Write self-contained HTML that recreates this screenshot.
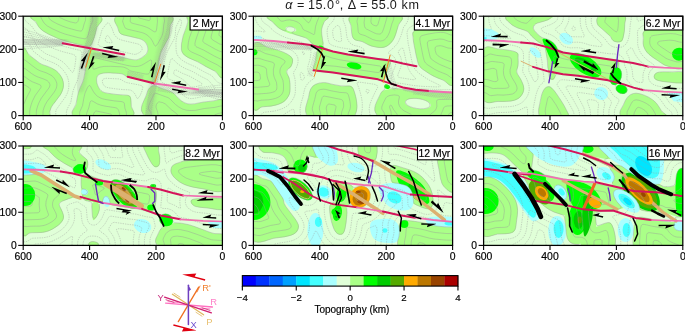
<!DOCTYPE html>
<html><head><meta charset="utf-8"><style>
html,body{margin:0;padding:0;background:#fff;width:685px;height:333px;overflow:hidden}
svg text{font-family:"Liberation Sans", sans-serif}
svg{will-change:transform}
</style></head><body>
<svg width="685" height="333" viewBox="0 0 685 333" style="display:block">
<defs>
<clipPath id="pc"><rect x="0" y="0" width="199.2" height="99.4"/></clipPath>
<filter id="bl" x="-20%" y="-20%" width="140%" height="140%"><feGaussianBlur stdDeviation="1.6"/></filter>
</defs>
<text y="9.2" font-size="12.6" fill="#1a1a1a"><tspan x="285.26" font-style="italic">α</tspan><tspan x="297.0">=</tspan><tspan x="307.9">1</tspan><tspan x="315.5">5</tspan><tspan x="322.77">.</tspan><tspan x="326.9">0</tspan><tspan x="335.04">°</tspan><tspan x="339.87">,</tspan><tspan x="347.82">Δ</tspan><tspan x="359.95">=</tspan><tspan x="371.3">5</tspan><tspan x="378.7">5</tspan><tspan x="386.17">.</tspan><tspan x="389.8">0</tspan><tspan x="401.58">k</tspan><tspan x="408.6">m</tspan></text>
<g transform="translate(23.2,16.2)">
<g clip-path="url(#pc)">
<rect x="0" y="0" width="199.2" height="99.4" fill="#e0ffd8"/>
<path d="M11.0,0.0 C21.3,-1.0 64.6,-2.0 75.0,0.0 C85.4,2.0 74.2,8.3 73.5,12.0 C72.8,15.7 72.1,19.0 71.0,22.0 C69.9,25.0 68.8,28.8 67.0,30.0 C65.2,31.2 62.8,29.8 60.0,29.3 C57.2,28.8 53.5,27.9 50.0,27.0 C46.5,26.1 42.3,25.1 39.0,24.0 C35.7,22.9 32.8,21.6 30.0,20.3 C27.2,19.1 24.8,17.9 22.5,16.5 C20.2,15.1 18.1,13.8 16.5,12.0 C14.9,10.2 13.9,8.0 13.0,6.0 C12.1,4.0 0.7,1.0 11.0,0.0Z" fill="#aaff88" /><path d="M0.0,35.0 C1.0,24.8 4.0,37.6 6.0,39.0 C8.0,40.4 10.0,42.0 12.0,43.5 C14.0,45.0 16.0,46.9 18.0,48.0 C20.0,49.1 21.5,48.9 24.0,50.0 C26.5,51.1 30.5,52.5 33.0,54.5 C35.5,56.5 37.8,59.5 39.0,62.0 C40.2,64.5 40.6,67.0 40.5,69.5 C40.4,72.0 39.5,74.5 38.3,77.0 C37.0,79.5 34.6,82.2 33.0,84.5 C31.4,86.8 29.6,88.5 28.5,90.5 C27.4,92.5 26.8,94.9 26.3,96.5 C25.8,98.1 29.9,99.4 25.5,100.0 C21.1,100.6 4.2,110.8 0.0,100.0 C-4.2,89.2 -1.0,45.2 0.0,35.0Z" fill="#aaff88" /><path d="M95.0,0.0 C103.6,-2.0 137.8,-1.7 146.5,0.0 C155.2,1.7 147.1,6.7 147.0,10.0 C146.9,13.3 146.8,17.0 146.0,20.0 C145.2,23.0 143.3,25.3 142.0,28.0 C140.7,30.7 139.0,33.3 138.0,36.0 C137.0,38.7 136.7,40.8 136.0,44.0 C135.3,47.2 134.7,52.0 134.0,55.0 C133.3,58.0 132.4,60.2 132.0,62.0 C131.6,63.8 133.2,65.6 131.5,66.0 C129.8,66.4 125.2,65.1 122.0,64.5 C118.8,63.9 115.0,63.1 112.0,62.5 C109.0,61.9 106.0,61.8 104.0,61.0 C102.0,60.2 102.3,58.7 100.0,58.0 C97.7,57.3 93.3,57.2 90.0,57.0 C86.7,56.8 82.7,56.5 80.0,57.0 C77.3,57.5 75.0,58.2 74.0,60.0 C73.0,61.8 73.2,65.4 74.0,68.0 C74.8,70.6 76.3,73.8 79.0,75.5 C81.7,77.2 86.5,77.4 90.0,78.0 C93.5,78.6 97.2,78.7 100.0,79.0 C102.8,79.3 105.7,78.2 107.0,80.0 C108.3,81.8 108.0,86.7 108.0,90.0 C108.0,93.3 116.2,98.3 107.0,100.0 C97.8,101.7 61.5,102.1 52.5,100.0 C43.5,97.9 52.8,91.6 53.3,87.5 C53.8,83.4 54.4,79.2 55.5,75.5 C56.6,71.8 58.9,68.2 60.0,65.0 C61.1,61.8 61.5,58.5 62.0,56.0 C62.5,53.5 62.3,53.8 63.0,50.0 C63.7,46.2 64.0,35.4 66.0,33.0 C68.0,30.6 71.0,34.5 75.0,35.5 C79.0,36.5 85.7,38.0 90.0,39.0 C94.3,40.0 97.3,40.7 101.0,41.5 C104.7,42.3 109.2,43.9 112.0,44.0 C114.8,44.1 116.0,43.2 118.0,42.0 C120.0,40.8 122.9,39.0 124.0,37.0 C125.1,35.0 125.2,32.2 124.5,30.0 C123.8,27.8 122.4,25.5 120.0,24.0 C117.6,22.5 113.7,22.0 110.0,21.0 C106.3,20.0 100.5,19.5 98.0,18.0 C95.5,16.5 95.5,15.0 95.0,12.0 C94.5,9.0 86.4,2.0 95.0,0.0Z" fill="#aaff88" /><path d="M166.0,0.0 C171.8,-0.8 194.3,-9.8 200.0,0.0 C205.7,9.8 201.3,49.4 200.0,58.6 C198.7,67.8 194.9,56.4 192.0,55.0 C189.1,53.6 185.3,51.8 182.3,50.2 C179.3,48.6 176.8,46.8 174.0,45.4 C171.2,44.0 167.8,43.2 165.4,41.8 C163.0,40.4 160.6,39.0 159.4,37.0 C158.2,35.0 158.1,32.6 158.2,29.8 C158.3,27.0 159.2,23.0 160.0,20.0 C160.8,17.0 162.2,14.5 163.0,12.0 C163.8,9.5 164.5,7.0 165.0,5.0 C165.5,3.0 160.2,0.8 166.0,0.0Z" fill="#aaff88" /><path d="M124.0,100.0 C111.3,96.2 123.0,82.1 124.0,77.0 C125.0,71.9 127.5,70.2 130.0,69.5 C132.5,68.8 135.8,71.4 139.0,72.5 C142.2,73.6 146.8,74.7 149.5,76.3 C152.2,77.9 152.9,80.2 155.0,82.0 C157.1,83.8 159.5,86.0 162.0,87.0 C164.5,88.0 167.0,88.2 170.0,88.0 C173.0,87.8 176.7,86.5 180.0,86.0 C183.3,85.5 186.7,85.3 190.0,85.0 C193.3,84.7 198.3,81.5 200.0,84.0 C201.7,86.5 212.7,97.3 200.0,100.0 C187.3,102.7 136.7,103.8 124.0,100.0Z" fill="#aaff88" />
<path d="M77.8,0.0 78.7,2.8 78.4,4.5 77.5,6.1 74.6,9.8 73.7,11.5 71.4,20.2 68.8,27.0 67.0,29.6 66.2,30.2 65.2,30.4 54.0,27.9 40.2,24.3 33.8,21.9 25.0,17.8 20.0,14.8 16.9,12.2 15.2,10.2 12.5,5.8 8.3,2.2 7.8,1.2 7.7,0.0M49.1,99.0 48.9,96.5 49.1,95.0 52.7,88.2 54.5,79.2 55.4,75.5 56.5,72.5 59.4,66.0 60.6,62.2 62.7,50.8 64.4,37.2 65.2,34.5 66.5,32.7 67.2,32.4 68.2,32.5 73.5,34.8 76.5,35.8 108.0,43.2 111.5,43.7 113.2,43.7 114.8,43.3 118.0,41.8 122.0,38.9 123.2,37.5 123.9,36.2 124.4,34.8 124.7,33.0 124.2,29.8 122.7,26.8 120.2,24.3 118.2,23.2 115.5,22.3 100.2,18.7 98.0,17.8 96.5,16.5 95.6,14.8 94.2,10.6 92.2,6.8 91.5,5.0 91.4,3.0 92.4,0.0M149.0,0.0 149.8,2.5 149.8,3.8 147.1,9.5 146.4,16.5 145.8,19.8 144.7,22.8 139.3,32.8 137.5,37.0 136.4,41.5 134.1,53.8 132.2,60.8 131.8,63.8 131.0,65.2 129.8,65.7 128.0,65.7 106.2,61.4 103.8,60.6 99.6,58.0 97.8,57.5 95.0,57.2 85.5,56.6 80.0,56.9 77.8,57.5 76.0,58.2 74.7,59.2 73.8,60.8 73.4,62.5 73.4,64.5 73.7,66.8 74.4,69.0 75.4,71.2 76.5,73.0 77.8,74.3 79.2,75.4 81.5,76.4 84.8,77.1 93.8,78.3 104.0,79.0 105.2,79.3 106.4,80.0 107.2,81.2 107.6,82.8 108.2,90.5 110.6,95.8 110.6,99.0M198.8,61.5 197.8,61.3 196.6,60.5 193.2,56.3 191.2,54.7 183.2,50.6 174.2,45.5 164.8,41.3 161.2,38.9 159.3,36.5 158.6,35.0 158.2,33.0 158.3,27.5 159.9,19.8 162.9,11.5 164.4,6.5 164.5,4.8 163.9,1.8 163.8,0.0M0.0,32.1 1.2,32.4 2.2,33.1 5.0,37.5 6.5,39.2 16.5,46.9 19.0,48.3 23.8,49.9 28.5,51.9 32.9,54.5 34.8,56.2 36.5,58.2 38.0,60.5 39.2,62.8 40.0,65.5 40.3,68.5 40.1,71.2 39.3,74.0 38.4,76.2 37.0,78.8 29.7,88.5 28.0,91.2 26.6,95.2 26.8,99.0M120.3,99.0 120.0,98.0 118.7,95.5 118.2,93.8 118.3,91.2 119.0,88.3 123.0,79.2 124.5,74.8 125.4,73.0 126.3,71.8 127.5,70.7 128.8,69.9 130.0,69.5 131.5,69.4 133.0,69.8 138.5,72.2 145.4,74.5 148.5,75.8 150.9,77.5 155.2,82.0 158.4,84.8 161.5,86.6 164.5,87.6 167.5,87.9 171.2,87.6 180.0,85.9 190.2,84.7 196.0,83.3 198.8,83.0M69.1,0.0 69.7,3.5 69.6,4.8 67.3,9.8 64.9,18.8 64.2,20.8 63.5,21.8 62.8,22.4 61.5,22.6 55.8,21.6 42.2,18.0 36.5,15.9 29.0,12.5 24.2,9.8 21.5,7.5 20.2,5.8 18.0,1.8 17.3,0.0M140.6,0.0 141.4,4.8 140.5,8.8 140.0,15.0 139.4,18.0 138.4,20.5 134.8,27.2 133.2,29.3 132.2,29.9 131.8,29.6 131.2,29.0 129.2,24.8 127.5,22.2 125.4,20.0 123.0,18.2 120.8,17.1 118.5,16.3 104.4,13.0 102.2,12.0 101.3,10.5 99.5,5.5 99.5,4.5 100.4,1.8 100.7,0.0M198.8,51.4 197.5,50.9 193.8,48.5 186.2,44.8 177.5,39.8 168.5,35.9 166.4,34.5 165.2,33.1 164.8,32.0 164.7,30.5 165.2,26.0 166.4,21.0 169.1,13.8 170.9,7.8 171.2,5.5 171.5,0.0M125.0,57.8 124.0,57.9 122.2,57.8 108.2,55.0 106.5,54.3 103.8,52.3 102.2,51.6 100.2,50.9 97.8,50.6 87.2,50.1 80.8,50.2 76.5,51.0 71.5,52.8 70.5,52.9 70.0,52.7 69.8,52.3 69.6,51.0 70.3,43.8 70.7,42.8 71.2,42.0 72.0,41.8 73.2,41.8 103.8,49.2 108.8,50.1 112.0,50.4 115.0,50.1 117.8,49.3 121.0,47.6 126.5,44.2 127.5,43.8 128.0,43.8 128.5,44.5 128.5,46.2 127.6,52.8 126.5,56.3 125.9,57.2 125.0,57.8M0.0,43.1 1.8,43.9 11.3,51.2 14.5,53.4 16.8,54.5 23.2,56.7 28.0,59.1 29.5,60.2 31.0,61.9 32.3,63.8 33.1,65.5 33.6,67.2 33.7,69.0 33.4,70.8 32.9,72.5 31.1,75.8 24.2,84.8 22.2,88.2 20.9,91.2 20.0,94.2 19.8,96.2 19.8,99.0M56.5,99.0 56.5,95.8 59.3,89.5 60.8,81.0 61.8,77.0 64.2,71.5 65.2,70.0 66.2,69.3 66.8,69.4 67.2,69.9 70.0,75.1 71.9,77.8 74.2,80.0 76.8,81.6 79.5,82.6 82.8,83.4 91.2,84.7 98.5,85.4 100.3,86.0 101.1,87.2 101.7,92.0 103.1,96.0 103.3,99.0M128.2,99.0 127.6,96.2 125.3,92.8 125.2,90.8 126.2,87.8 130.4,78.5 131.2,77.5 132.0,77.1 133.8,77.4 145.0,81.5 146.8,82.8 152.2,88.2 155.2,90.5 159.2,92.8 163.2,94.0 166.8,94.3 172.0,94.2 181.2,92.3 191.5,91.2 196.8,89.9 198.8,89.7M62.4,0.0 62.3,4.0 60.8,8.2 59.6,12.8 58.8,14.3 58.0,14.8 57.2,14.9 53.8,14.3 44.0,11.6 39.5,10.0 34.0,7.6 30.0,5.5 27.2,3.7 25.8,2.0 25.2,0.0M133.9,0.0 134.3,5.0 133.5,12.6 132.9,15.0 132.5,15.5 131.8,15.8 130.5,15.3 125.9,12.2 122.5,10.7 118.5,9.4 109.6,7.2 108.0,6.6 107.2,5.8 107.0,4.8 107.4,0.0M198.8,43.1 196.8,42.6 191.0,39.8 180.5,33.9 173.5,30.8 172.7,30.2 172.0,29.4 171.7,27.5 172.4,24.2 175.7,14.8 177.5,8.2 177.9,5.8 178.1,0.0M0.0,51.7 2.0,52.5 8.5,57.4 11.8,59.5 14.5,60.7 20.2,62.7 23.8,64.3 25.5,65.8 26.7,67.8 26.7,69.5 25.9,71.5 18.2,81.9 15.6,86.8 14.4,90.0 13.4,93.5 13.1,95.8 13.1,99.0M63.2,99.0 63.5,97.0 65.5,91.8 66.9,86.0 67.5,85.0 68.2,84.6 69.5,85.0 74.2,87.7 78.0,89.1 82.2,90.0 92.2,91.5 93.8,92.0 94.6,92.8 95.3,94.0 96.3,97.0 96.5,99.0M134.9,99.0 134.5,96.0 132.9,91.5 132.8,90.0 133.2,88.4 134.2,86.7 135.2,85.9 136.2,85.7 139.5,86.4 142.2,87.8 148.0,93.3 153.8,97.8 154.6,99.0M191.2,99.0 191.9,98.5 195.4,97.2 198.8,96.5M55.7,0.0 55.5,2.8 54.7,5.2 53.6,6.5 52.2,6.8 47.2,5.7 41.8,3.8 37.1,1.5 36.1,0.8 35.7,0.0M127.2,0.0 127.0,3.3 126.5,4.0 125.5,4.3 116.5,2.0 115.2,1.2 114.6,0.0M198.8,35.7 196.5,35.1 192.5,33.2 181.1,26.8 180.2,26.0 179.7,25.2 179.6,24.2 179.8,23.2 182.3,15.8 184.1,9.2 184.5,6.5 184.8,0.0M0.0,60.1 1.8,60.7 6.2,63.9 9.2,65.6 16.5,68.5 17.5,69.2 17.9,70.0 17.8,71.0 17.3,72.0 11.9,79.5 9.1,85.2 7.8,89.0 6.9,92.5 6.5,95.2 6.5,99.0M70.2,99.0 70.5,97.5 71.4,95.8 72.2,95.1 73.2,94.8 87.0,97.7 88.1,98.2 88.6,99.0M198.8,28.4 196.2,27.7 190.7,24.5 188.6,23.0 187.9,21.8 188.0,20.0 190.0,12.8 190.8,9.2 191.4,0.0M0.0,68.3 1.8,68.9 6.0,71.5 7.0,72.5 7.3,73.5 6.9,74.8 4.0,80.2 1.2,86.7 0.5,88.0 0.0,88.3M198.8,20.9 197.5,20.6 196.5,19.9 195.9,19.0 195.7,18.0 196.2,15.5 198.8,7.0" fill="none" stroke="#9a9a9a" stroke-width="0.42"/>
<path d="M43.2,99.0 43.2,96.2 43.6,94.0 44.5,91.8 47.6,86.2 49.1,78.0 50.1,74.0 51.4,70.5 54.3,64.0 55.5,60.2 57.7,47.2 58.7,37.8 58.6,35.8 57.8,34.8 56.5,34.2 41.2,30.3 33.8,27.8 25.2,24.0 18.5,20.4 16.0,18.7 13.8,16.7 11.2,14.0 8.2,9.5 4.4,6.8 2.9,5.2 1.3,2.8 0.8,0.0M198.8,67.4 196.4,67.0 194.2,65.8 192.2,63.9 189.3,60.2 187.5,58.9 180.5,55.4 172.0,50.5 164.5,47.3 160.8,45.3 157.2,42.7 154.8,39.8 153.7,37.5 153.0,34.8 152.7,26.8 153.1,22.8 153.6,20.2 154.6,17.2 157.1,11.2 158.3,7.2 158.4,6.0 158.2,4.8 157.2,3.0 156.8,2.8 152.7,11.0 152.4,12.8 152.1,19.0 151.1,22.5 144.5,34.6 142.6,39.2 141.3,44.8 139.2,55.7 137.7,61.8 137.6,63.8 138.1,65.2 139.0,66.2 140.2,66.9 148.2,69.7 152.2,71.7 154.8,73.6 158.5,77.7 160.8,79.6 163.2,81.3 165.8,82.2 168.0,82.4 170.5,82.2 178.5,80.6 188.8,79.4 195.2,77.9 198.8,77.5M113.0,38.0 116.2,36.4 117.7,35.2 118.5,34.2 118.9,33.2 118.9,32.0 118.6,30.8 117.7,29.5 116.5,28.5 114.5,27.7 99.5,24.2 96.8,23.3 94.5,22.1 92.8,20.6 91.3,18.8 90.4,16.8 89.0,12.5 86.0,7.3 85.0,6.5 84.0,6.9 79.8,12.0 78.7,14.0 75.0,27.0 74.9,28.2 75.5,29.2 76.6,30.0 78.8,30.7 108.8,37.7 111.2,38.2 113.0,38.0M0.0,25.8 3.0,26.2 5.2,27.4 6.8,29.2 9.1,33.5 10.2,35.1 19.2,42.1 21.2,43.2 26.0,44.9 31.0,47.0 33.8,48.5 36.0,50.0 38.5,52.2 40.7,54.8 42.6,57.5 44.0,60.1 45.1,63.5 45.7,67.2 45.6,71.2 44.9,74.8 43.7,78.0 41.9,81.2 33.2,93.2 32.5,95.5 32.6,99.0M114.5,82.2 115.5,81.4 116.8,79.5 118.7,75.0 119.6,71.2 119.3,70.2 118.5,69.6 115.5,68.7 103.5,66.4 101.2,65.5 97.8,63.3 95.5,62.7 83.2,62.1 80.8,62.5 79.9,63.0 79.3,63.8 79.1,65.5 79.8,67.8 81.0,69.7 82.5,70.8 85.2,71.6 92.8,72.7 100.0,73.4 105.2,73.6 107.5,74.0 109.2,75.0 110.9,76.5 112.0,78.2 113.6,81.8 114.0,82.2 114.5,82.2M0.0,20.3 4.8,20.7 7.0,21.4 9.0,22.4 10.0,23.2 10.8,24.3 13.9,30.5 16.1,32.8 22.8,37.7 32.5,41.6 38.0,44.6 40.5,46.5 43.2,49.2 48.5,55.7 49.5,56.2 50.2,55.6 51.4,51.8 52.5,44.2 52.7,41.0 52.4,40.0 51.9,39.2 50.0,38.2 38.8,35.3 32.2,33.1 24.5,29.8 18.2,26.6 10.2,22.1 7.8,18.9 4.1,13.5 1.8,11.8 0.0,11.2M88.5,26.5 88.9,26.0 88.7,25.2 86.0,20.9 84.8,19.4 84.2,19.2 83.8,19.4 83.0,20.6 82.2,22.8 82.1,24.0 82.3,25.0 83.2,25.8 84.5,26.2 87.0,26.6 88.5,26.5M169.7,76.8 178.0,75.1 188.5,73.8 190.9,72.8 191.4,72.2 191.4,71.5 190.8,70.5 186.0,65.0 184.5,63.6 177.2,59.9 169.5,55.4 162.5,52.5 159.0,50.7 154.2,47.4 149.5,42.7 148.8,42.3 148.2,42.5 147.3,44.0 146.5,47.0 144.0,59.8 144.0,61.0 144.3,61.8 145.5,62.8 152.0,65.3 155.8,67.3 158.7,69.8 163.0,74.3 165.2,76.0 167.2,76.8 169.7,76.8M170.4,71.0 177.6,69.2 178.7,68.8 179.0,68.0 178.5,67.2 177.2,66.2 166.8,60.2 159.2,57.1 153.2,53.9 152.1,53.8 151.3,54.2 150.7,55.5 150.5,57.0 150.8,58.0 151.4,58.8 157.0,61.6 159.8,63.4 162.2,65.5 166.0,69.5 167.2,70.5 168.8,71.0 170.4,71.0" fill="none" stroke="#9a9a9a" stroke-width="0.42" stroke-dasharray="1.4 1"/>
<path d="M72.0,-3.0 L70.0,12.0 L67.0,24.0 L64.5,34.0 L62.0,46.0 L59.0,60.0 L57.0,72.0" fill="none" stroke="#8a8a8a" stroke-width="9" stroke-linecap="round" stroke-linejoin="round" opacity="0.18" filter="url(#bl)"/><path d="M146.0,-3.0 L143.0,15.0 L139.5,30.0 L136.0,45.0 L132.0,60.0 L129.0,75.0 L127.0,90.0 L126.0,103.0" fill="none" stroke="#8a8a8a" stroke-width="9" stroke-linecap="round" stroke-linejoin="round" opacity="0.18" filter="url(#bl)"/><path d="M-3.0,24.0 L20.0,26.0 L40.0,28.0" fill="none" stroke="#8a8a8a" stroke-width="12" stroke-linecap="round" stroke-linejoin="round" opacity="0.25" filter="url(#bl)"/><path d="M70.0,38.0 L100.0,43.0" fill="none" stroke="#8a8a8a" stroke-width="5" stroke-linecap="round" stroke-linejoin="round" opacity="0.25" filter="url(#bl)"/><path d="M175.0,74.0 L203.0,77.0" fill="none" stroke="#8a8a8a" stroke-width="10" stroke-linecap="round" stroke-linejoin="round" opacity="0.25" filter="url(#bl)"/><g fill="none" stroke="#9a9a9a" stroke-width="0.42" stroke-dasharray="1.1 0.8"><path d="M74.0,0.2 L73.0,12.5 L70.4,22.8 L67.9,30.8 L64.9,42.7 L61.9,54.7" stroke-dashoffset="0.00"/><path d="M73.0,0.2 L72.0,12.3 L69.4,22.5 L66.9,30.5 L63.9,42.5 L60.9,54.5" stroke-dashoffset="0.77"/><path d="M72.0,0.1 L71.0,12.2 L68.5,22.3 L66.0,30.3 L63.0,42.2 L60.0,54.2" stroke-dashoffset="1.54"/><path d="M71.0,0.0 L70.0,12.0 L67.5,22.0 L65.0,30.0 L62.0,42.0 L59.0,54.0" stroke-dashoffset="0.41"/><path d="M70.0,-0.1 L69.0,11.8 L66.5,21.7 L64.0,29.7 L61.0,41.8 L58.0,53.8" stroke-dashoffset="1.18"/><path d="M69.0,-0.2 L68.0,11.7 L65.6,21.5 L63.1,29.5 L60.1,41.5 L57.1,53.5" stroke-dashoffset="0.05"/><path d="M68.0,-0.2 L67.0,11.5 L64.6,21.2 L62.1,29.2 L59.1,41.3 L56.1,53.3" stroke-dashoffset="0.82"/></g><g fill="none" stroke="#9a9a9a" stroke-width="0.42" stroke-dasharray="1.1 0.8"><path d="M150.5,0.3 L148.4,15.5 L144.4,28.7 L140.4,42.7 L136.4,55.6 L133.4,68.6 L129.5,85.5 L127.5,100.3" stroke-dashoffset="0.00"/><path d="M149.5,0.2 L147.5,15.3 L143.4,28.4 L139.4,42.4 L135.4,55.4 L132.5,68.3 L128.5,85.3 L126.5,100.2" stroke-dashoffset="0.77"/><path d="M148.5,0.1 L146.5,15.1 L142.5,28.1 L138.5,42.1 L134.5,55.1 L131.5,68.1 L127.5,85.1 L125.5,100.1" stroke-dashoffset="1.54"/><path d="M147.5,-0.1 L145.5,14.9 L141.5,27.9 L137.5,41.9 L133.5,54.9 L130.5,67.9 L126.5,84.9 L124.5,99.9" stroke-dashoffset="0.41"/><path d="M146.5,-0.2 L144.5,14.7 L140.6,27.6 L136.6,41.6 L132.6,54.6 L129.5,67.7 L125.5,84.7 L123.5,99.8" stroke-dashoffset="1.18"/><path d="M145.5,-0.3 L143.6,14.5 L139.6,27.3 L135.6,41.3 L131.6,54.4 L128.6,67.4 L124.5,84.5 L122.5,99.7" stroke-dashoffset="0.05"/></g><g fill="none" stroke="#9a9a9a" stroke-width="0.42" stroke-dasharray="1.1 0.8"><path d="M70.3,36.0 L85.3,38.5 L101.3,41.0" stroke-dashoffset="0.00"/><path d="M70.2,37.0 L85.2,39.5 L101.2,42.0" stroke-dashoffset="0.77"/><path d="M70.0,38.0 L85.0,40.5 L101.0,43.0" stroke-dashoffset="1.54"/><path d="M69.8,39.0 L84.8,41.5 L100.8,44.0" stroke-dashoffset="0.41"/><path d="M69.7,40.0 L84.7,42.5 L100.7,45.0" stroke-dashoffset="1.18"/></g><g fill="none" stroke="#9a9a9a" stroke-width="0.42" stroke-dasharray="1.1 0.8"><path d="M104.5,55.1 L120.5,59.1" stroke-dashoffset="0.00"/><path d="M104.2,56.0 L120.2,60.0" stroke-dashoffset="0.77"/><path d="M104.0,57.0 L120.0,61.0" stroke-dashoffset="1.54"/><path d="M103.8,58.0 L119.8,62.0" stroke-dashoffset="0.41"/><path d="M103.5,58.9 L119.5,62.9" stroke-dashoffset="1.18"/></g><g fill="none" stroke="#9a9a9a" stroke-width="0.42" stroke-dasharray="1.1 0.8"><path d="M135.4,69.5 L160.3,73.5 L180.2,74.5 L200.2,76.5" stroke-dashoffset="0.00"/><path d="M135.2,70.5 L160.2,74.5 L180.1,75.5 L200.1,77.5" stroke-dashoffset="0.77"/><path d="M135.1,71.5 L160.1,75.5 L180.0,76.5 L200.0,78.5" stroke-dashoffset="1.54"/><path d="M134.9,72.5 L159.9,76.5 L180.0,77.5 L200.0,79.5" stroke-dashoffset="0.41"/><path d="M134.8,73.5 L159.8,77.5 L179.9,78.5 L199.9,80.5" stroke-dashoffset="1.18"/><path d="M134.6,74.5 L159.7,78.5 L179.8,79.5 L199.8,81.5" stroke-dashoffset="0.05"/></g><g fill="none" stroke="#9a9a9a" stroke-width="0.42" stroke-dasharray="1.1 0.8"><path d="M0.1,13.1 L9.0,15.7 L16.8,18.3 L24.6,20.8 L32.3,23.2 L40.2,25.5" stroke-dashoffset="0.00"/><path d="M-0.2,15.5 L8.7,17.7 L16.6,19.9 L24.4,22.1 L32.3,24.1 L40.1,26.0" stroke-dashoffset="0.77"/><path d="M-0.4,18.0 L8.5,19.8 L16.4,21.6 L24.3,23.4 L32.2,25.0 L40.1,26.5" stroke-dashoffset="1.54"/><path d="M-0.7,20.5 L8.2,21.9 L16.2,23.3 L24.1,24.7 L32.1,25.9 L40.0,27.0" stroke-dashoffset="0.41"/><path d="M-1.0,23.0 L8.0,24.0 L16.0,25.0 L24.0,26.0 L32.0,26.8 L40.0,27.5" stroke-dashoffset="1.18"/><path d="M-1.3,25.5 L7.8,26.1 L15.8,26.7 L23.9,27.3 L31.9,27.7 L40.0,28.0" stroke-dashoffset="0.05"/><path d="M-1.6,28.0 L7.5,28.2 L15.6,28.4 L23.7,28.6 L31.8,28.6 L39.9,28.5" stroke-dashoffset="0.82"/><path d="M-1.8,30.5 L7.3,30.3 L15.4,30.1 L23.6,29.9 L31.7,29.5 L39.9,29.0" stroke-dashoffset="1.59"/><path d="M-2.1,32.9 L7.0,32.3 L15.2,31.7 L23.4,31.2 L31.7,30.4 L39.8,29.5" stroke-dashoffset="0.46"/></g><g fill="none" stroke="#9a9a9a" stroke-width="0.42" stroke-dasharray="1.1 0.8"><path d="M175.3,71.5 L182.5,70.5 L190.6,69.5 L201.7,68.5" stroke-dashoffset="0.00"/><path d="M175.2,72.2 L182.4,71.9 L190.4,71.5 L201.5,71.2" stroke-dashoffset="0.77"/><path d="M175.1,72.8 L182.2,73.2 L190.2,73.5 L201.2,73.8" stroke-dashoffset="1.54"/><path d="M175.0,73.5 L182.0,74.5 L190.0,75.5 L201.0,76.5" stroke-dashoffset="0.41"/><path d="M174.9,74.2 L181.8,75.8 L189.8,77.5 L200.8,79.2" stroke-dashoffset="1.18"/><path d="M174.8,74.8 L181.6,77.1 L189.6,79.5 L200.5,81.8" stroke-dashoffset="0.05"/><path d="M174.7,75.5 L181.5,78.5 L189.4,81.5 L200.3,84.5" stroke-dashoffset="0.82"/></g><path d="M39.5,27.0 L101.0,38.3" fill="none" stroke="#d4145a" stroke-width="2.0" stroke-linecap="round" stroke-linejoin="round" /><path d="M104.5,60.5 L131.5,67.3" fill="none" stroke="#d4145a" stroke-width="2.0" stroke-linecap="round" stroke-linejoin="round" /><path d="M131.5,67.3 L175.0,73.3" fill="none" stroke="#f070b0" stroke-width="1.8" stroke-linecap="round" stroke-linejoin="round" /><path d="M68.3,32.3 L62.5,51.0" fill="none" stroke="#f08020" stroke-width="1.0" stroke-linecap="round" stroke-linejoin="round" /><path d="M137.5,48.0 L131.5,66.5" fill="none" stroke="#f08020" stroke-width="1.0" stroke-linecap="round" stroke-linejoin="round" /><path d="M64.3,36.8 L57.7,44.9 L60.1,45.0 L57.4,52.0 L59.0,52.6 L64.5,36.9Z" fill="#000" /><path d="M65.4,53.4 L71.5,46.3 L69.1,46.2 L71.3,40.4 L69.7,39.8 L65.2,53.3Z" fill="#000" /><path d="M79.8,31.0 L90.2,29.9 L89.0,32.0 L96.2,33.5 L95.8,35.1 L79.7,31.2Z" fill="#000" /><path d="M94.7,40.8 L84.3,41.8 L85.6,39.6 L78.8,38.1 L79.2,36.5 L94.8,40.6Z" fill="#000" /><path d="M132.5,46.0 L126.9,54.5 L129.4,54.3 L127.7,60.8 L129.3,61.2 L132.7,46.1Z" fill="#000" /><path d="M137.0,64.0 L142.6,55.5 L140.1,55.7 L141.8,49.2 L140.2,48.8 L136.8,63.9Z" fill="#000" /><path d="M148.0,66.5 L157.8,64.9 L156.7,67.1 L163.1,68.2 L162.9,69.8 L148.0,66.8Z" fill="#000" /><path d="M164.0,75.5 L154.2,77.1 L155.3,74.9 L148.9,73.8 L149.1,72.2 L164.0,75.2Z" fill="#000" />
</g>
<rect x="166.89999999999998" y="0" width="32.3" height="13.8" fill="#fff" stroke="#000" stroke-width="1.1"/>
<text x="182.45" y="10.6" font-size="10.4" text-anchor="middle" fill="#000" stroke="#000" stroke-width="0.18">2 Myr</text>
<rect x="0" y="0" width="199.2" height="99.4" fill="none" stroke="#000" stroke-width="1.25"/>
<line x1="0.00" y1="99.4" x2="0.00" y2="104.0" stroke="#000" stroke-width="1.1"/>
<line x1="-5" y1="0.00" x2="0" y2="0.00" stroke="#000" stroke-width="1.1"/>
<line x1="66.40" y1="99.4" x2="66.40" y2="104.0" stroke="#000" stroke-width="1.1"/>
<line x1="-5" y1="33.13" x2="0" y2="33.13" stroke="#000" stroke-width="1.1"/>
<line x1="132.80" y1="99.4" x2="132.80" y2="104.0" stroke="#000" stroke-width="1.1"/>
<line x1="-5" y1="66.27" x2="0" y2="66.27" stroke="#000" stroke-width="1.1"/>
<line x1="199.20" y1="99.4" x2="199.20" y2="104.0" stroke="#000" stroke-width="1.1"/>
<line x1="-5" y1="99.40" x2="0" y2="99.40" stroke="#000" stroke-width="1.1"/>
<text x="0.00" y="113.60000000000001" font-size="10.4" text-anchor="middle" fill="#000" stroke="#000" stroke-width="0.18">600</text>
<text x="66.40" y="113.60000000000001" font-size="10.4" text-anchor="middle" fill="#000" stroke="#000" stroke-width="0.18">400</text>
<text x="132.80" y="113.60000000000001" font-size="10.4" text-anchor="middle" fill="#000" stroke="#000" stroke-width="0.18">200</text>
<text x="199.20" y="113.60000000000001" font-size="10.4" text-anchor="middle" fill="#000" stroke="#000" stroke-width="0.18">0</text>
<text x="-6.5" y="3.30" font-size="10.3" text-anchor="end" fill="#000" stroke="#000" stroke-width="0.18">300</text>
<text x="-6.5" y="36.43" font-size="10.3" text-anchor="end" fill="#000" stroke="#000" stroke-width="0.18">200</text>
<text x="-6.5" y="69.57" font-size="10.3" text-anchor="end" fill="#000" stroke="#000" stroke-width="0.18">100</text>
<text x="-6.5" y="102.70" font-size="10.3" text-anchor="end" fill="#000" stroke="#000" stroke-width="0.18">0</text>
</g>
<g transform="translate(253.4,16.2)">
<g clip-path="url(#pc)">
<rect x="0" y="0" width="199.2" height="99.4" fill="#e0ffd8"/>
<path d="M16.5,0.0 C25.2,-1.0 63.0,-1.0 72.0,0.0 C81.0,1.0 71.2,3.8 70.6,6.0 C70.0,8.2 68.6,10.8 68.3,13.5 C68.0,16.2 68.7,20.1 69.0,22.5 C69.3,24.9 70.5,26.6 70.0,28.0 C69.5,29.4 67.9,31.1 66.0,31.0 C64.1,30.9 60.5,28.9 58.5,27.5 C56.5,26.1 56.2,23.8 54.0,22.5 C51.8,21.2 48.2,20.5 45.0,19.5 C41.8,18.5 37.8,17.8 34.5,16.5 C31.2,15.2 28.0,13.8 25.5,12.0 C23.0,10.2 21.0,8.0 19.5,6.0 C18.0,4.0 7.8,1.0 16.5,0.0Z" fill="#aaff88" /><path d="M0.0,30.0 C2.5,20.2 10.0,30.5 15.0,31.5 C20.0,32.5 26.0,34.2 30.0,36.0 C34.0,37.8 37.7,39.7 39.0,42.0 C40.3,44.3 39.0,47.8 38.0,50.0 C37.0,52.2 33.3,53.0 33.0,55.0 C32.7,57.0 35.4,59.6 36.0,62.0 C36.6,64.4 36.8,66.8 36.8,69.5 C36.8,72.2 37.1,75.8 36.0,78.5 C34.9,81.2 32.8,84.1 30.0,86.0 C27.2,87.9 23.0,89.0 19.5,89.8 C16.0,90.5 12.2,90.4 9.0,90.5 C5.8,90.6 1.5,100.3 0.0,90.2 C-1.5,80.1 -2.5,39.8 0.0,30.0Z" fill="#aaff88" /><path d="M55.5,100.0 C48.1,96.7 55.0,84.8 55.5,80.0 C56.0,75.2 57.0,73.1 58.5,71.0 C60.0,68.9 62.3,68.0 64.6,67.3 C66.8,66.5 69.8,66.4 72.0,66.5 C74.2,66.6 75.3,67.4 78.0,68.0 C80.7,68.6 84.3,69.2 88.0,70.0 C91.7,70.8 98.0,67.5 100.0,72.5 C102.0,77.5 107.4,95.4 100.0,100.0 C92.6,104.6 62.9,103.3 55.5,100.0Z" fill="#aaff88" /><path d="M99.0,0.0 C107.1,-1.7 138.8,-1.5 146.5,0.0 C154.2,1.5 145.8,5.8 145.0,9.0 C144.2,12.2 143.2,16.5 142.0,19.5 C140.8,22.5 139.5,25.0 137.5,27.0 C135.5,29.0 133.2,31.0 130.0,31.5 C126.8,32.0 121.5,31.0 118.0,30.0 C114.5,29.0 112.0,26.8 109.0,25.5 C106.0,24.2 101.8,25.1 100.0,22.5 C98.2,19.9 98.2,13.8 98.0,10.0 C97.8,6.2 90.9,1.7 99.0,0.0Z" fill="#aaff88" /><path d="M163.0,14.0 C169.7,12.6 193.8,5.2 200.0,14.0 C206.2,22.8 201.7,58.2 200.0,66.5 C198.3,74.8 193.3,65.1 190.0,64.0 C186.7,62.9 183.0,61.5 180.0,60.0 C177.0,58.5 174.3,56.7 172.0,55.0 C169.7,53.3 167.5,52.5 166.0,50.0 C164.5,47.5 163.8,43.3 163.0,40.0 C162.2,36.7 161.5,32.9 161.0,30.0 C160.5,27.1 159.7,25.2 160.0,22.5 C160.3,19.8 156.3,15.4 163.0,14.0Z" fill="#aaff88" /><path d="M66.0,31.0 C69.0,29.4 75.2,34.2 80.0,35.5 C84.8,36.8 90.0,37.6 95.0,38.5 C100.0,39.4 105.0,40.0 110.0,40.8 C115.0,41.5 120.5,42.4 125.0,43.0 C129.5,43.6 135.6,42.3 137.0,44.5 C138.4,46.7 134.9,52.6 133.7,56.0 C132.5,59.4 131.5,63.8 130.0,65.0 C128.5,66.2 128.0,64.0 124.7,63.3 C121.4,62.6 115.0,61.8 110.0,61.0 C105.0,60.2 100.0,59.5 95.0,58.8 C90.0,58.0 85.7,57.2 80.0,56.5 C74.3,55.8 64.0,56.4 61.0,54.5 C58.0,52.6 61.2,48.9 62.0,45.0 C62.8,41.1 63.0,32.6 66.0,31.0Z" fill="#aaff88" /><path d="M127.0,100.0 C114.8,96.3 125.7,82.5 127.0,78.0 C128.3,73.5 132.0,73.9 135.0,73.0 C138.0,72.1 140.8,72.2 145.0,72.5 C149.2,72.8 155.0,74.4 160.0,75.0 C165.0,75.6 170.0,75.7 175.0,76.0 C180.0,76.3 185.8,76.7 190.0,77.0 C194.2,77.3 198.3,74.2 200.0,78.0 C201.7,81.8 212.2,96.3 200.0,100.0 C187.8,103.7 139.2,103.7 127.0,100.0Z" fill="#aaff88" /><ellipse cx="164.5" cy="87.5" rx="13" ry="5" transform="rotate(8 164.5 87.5)" fill="#e0ffd8" /><ellipse cx="37.5" cy="13" rx="5.5" ry="2.5" transform="rotate(10 37.5 13)" fill="#e0ffd8" /><path d="M0.0,19.5 L7.5,19.5 L9.0,22.0 L7.0,24.0 L0.0,24.0Z" fill="#aaffff" /><ellipse cx="100.7" cy="49.6" rx="7.5" ry="3.3" transform="rotate(12 100.7 49.6)" fill="#00ff00" /><ellipse cx="1" cy="36" rx="3" ry="3" transform="rotate(0 1 36)" fill="#00ff00" /><ellipse cx="67.5" cy="31.5" rx="3" ry="2" transform="rotate(20 67.5 31.5)" fill="#00ff00" /><ellipse cx="133.7" cy="70.5" rx="3" ry="2.2" transform="rotate(20 133.7 70.5)" fill="#00ff00" />
<path d="M74.6,0.0 74.5,1.2 74.1,2.2 71.2,5.2 70.3,6.8 69.0,10.2 68.3,13.0 68.2,15.5 68.4,18.5 69.6,26.0 69.6,29.2 70.2,30.7 72.1,32.0 77.5,34.5 81.0,35.6 85.2,36.6 101.2,39.4 122.0,42.5 127.2,43.0 133.2,43.2 135.3,43.8 136.2,44.5 136.7,45.5 136.9,46.8 136.6,48.2 131.6,61.5 130.9,63.0 130.0,64.0 129.2,64.4 128.2,64.5 124.5,63.3 121.8,62.7 87.0,57.4 78.5,56.3 65.8,55.5 63.2,55.1 61.8,54.5 60.4,53.2 60.0,52.2 60.0,51.2 61.8,44.8 63.1,37.2 64.1,33.0 64.1,31.8 63.6,30.8 58.4,27.2 55.0,23.5 53.2,22.2 50.8,21.1 42.2,18.5 39.0,17.0 38.7,16.5 38.8,16.2 41.0,14.9 41.7,13.8 41.4,12.5 40.3,11.5 37.8,10.6 35.0,10.6 33.9,11.0 33.1,11.8 32.8,12.5 32.6,14.0 32.2,14.4 30.8,14.4 28.8,13.7 26.5,12.5 24.5,11.1 18.8,5.5 15.0,2.8 14.2,1.5 13.9,0.0M148.7,0.0 148.9,2.0 148.7,3.2 145.1,8.8 142.1,18.5 140.8,21.8 139.2,24.5 136.5,27.6 133.5,29.9 130.8,31.0 127.5,31.4 123.0,31.0 118.0,29.8 114.8,28.5 109.0,25.5 102.8,24.0 101.5,23.4 100.5,22.7 99.5,21.3 98.8,19.5 98.3,16.8 97.6,9.5 95.5,4.0 95.5,2.5 96.2,0.0M198.8,69.4 197.2,69.2 195.8,68.6 191.5,65.1 189.8,64.0 181.5,60.6 176.8,58.1 169.1,53.0 166.5,50.5 165.4,48.8 164.6,46.8 162.6,38.5 160.2,26.2 159.3,18.0 159.4,16.8 160.0,15.7 161.0,14.8 162.2,14.1 170.5,12.1 178.5,10.5 185.2,9.7 189.8,9.7 193.8,10.3 198.8,11.9M0.0,27.4 3.0,26.2 5.2,26.3 7.2,27.1 11.8,29.9 13.8,30.9 23.8,33.7 29.8,35.9 34.2,38.1 37.0,40.0 38.6,42.0 39.1,43.2 39.2,44.5 38.9,47.0 37.9,49.5 36.8,51.0 34.1,53.5 33.4,55.0 33.6,57.0 35.4,61.0 36.1,63.5 36.6,67.0 36.6,72.2 36.5,75.2 36.0,77.8 34.8,80.2 33.2,82.6 31.5,84.5 29.5,86.0 27.2,87.2 24.5,88.3 18.2,89.8 8.8,90.7 7.2,91.3 4.5,93.2 3.0,93.9 2.0,93.9 0.0,93.4M53.1,99.0 52.2,94.8 52.3,91.2 55.0,81.5 56.2,75.8 57.3,72.8 59.2,70.1 62.0,68.2 66.0,66.8 70.2,66.4 73.2,66.6 79.0,68.1 87.5,69.7 96.0,69.8 97.5,70.3 98.9,71.2 100.1,73.2 101.4,77.0 102.7,82.0 103.4,86.8 103.6,90.0 103.4,92.8 103.0,95.0 101.7,99.0M123.4,99.0 123.1,98.0 121.9,95.8 121.4,94.0 121.4,91.8 121.9,89.0 123.5,85.0 127.5,76.8 128.5,75.4 130.9,73.5 131.5,72.8 131.5,69.9 131.8,69.2 132.5,68.8 133.5,68.7 134.5,69.0 135.4,69.8 136.5,71.4 137.8,72.0 147.0,72.7 160.2,74.9 189.2,76.8 191.8,76.7 196.0,76.2 198.8,76.2M170.4,92.5 173.0,92.0 174.8,91.4 176.0,90.4 176.6,89.2 176.4,87.8 175.6,86.5 174.0,85.3 172.0,84.3 169.2,83.3 166.2,82.6 162.8,82.2 159.8,82.2 157.0,82.4 154.8,83.0 153.2,83.8 152.3,85.0 152.1,86.5 152.9,88.0 154.5,89.3 156.8,90.5 160.0,91.5 163.2,92.2 167.0,92.6 170.4,92.5M65.8,0.0 65.5,1.2 63.8,5.2 62.2,10.0 61.2,17.4 60.8,18.2 60.2,18.3 55.5,15.9 50.4,13.8 49.5,12.8 48.2,9.9 47.1,8.2 45.5,6.8 43.5,5.6 40.0,4.3 36.2,3.7 33.5,3.9 29.5,5.0 28.2,5.0 27.0,4.4 25.5,3.0 24.1,1.2 23.6,0.0M140.5,0.0 140.3,3.0 138.6,7.2 136.2,15.8 134.5,19.5 133.0,21.8 131.0,23.6 129.2,24.5 127.0,24.8 123.2,24.4 119.5,23.4 111.8,19.5 106.9,18.0 105.7,17.2 105.2,16.5 104.8,15.2 104.3,9.2 103.6,5.5 103.7,4.2 104.5,1.5 104.7,0.0M198.8,61.8 197.5,61.4 194.7,59.2 192.8,58.1 185.2,55.1 181.2,53.1 174.2,48.6 172.1,46.8 170.9,44.8 169.8,40.8 166.9,26.5 166.4,23.0 166.8,20.8 167.5,20.0 168.5,19.4 174.5,17.9 182.0,16.6 187.0,16.2 190.2,16.3 192.8,16.9 196.8,18.6 198.8,18.9M0.0,35.9 2.0,35.6 4.8,34.5 6.2,34.5 12.0,37.3 21.5,39.8 26.8,41.7 30.6,43.8 31.3,44.5 31.7,45.5 31.0,47.0 28.8,49.2 27.7,50.8 26.9,52.5 26.6,54.2 26.5,56.0 26.8,57.8 29.5,64.0 30.1,68.0 30.1,72.5 29.9,74.8 29.2,76.8 28.1,78.5 26.5,80.0 24.5,81.2 22.0,82.2 18.5,83.1 15.0,83.6 8.0,84.0 4.2,84.8 0.0,84.3M124.8,56.3 122.5,56.1 82.5,50.1 70.0,49.1 68.8,48.5 68.3,47.2 69.2,41.2 70.0,39.7 70.8,39.3 71.5,39.3 78.8,41.8 85.5,43.4 100.5,45.9 126.2,49.8 127.2,50.2 127.7,50.8 127.7,52.5 126.5,55.3 125.8,56.0 124.8,56.3M60.4,99.0 60.2,97.2 59.0,94.0 58.9,92.2 59.4,89.8 61.3,83.2 62.7,77.0 63.7,75.2 65.0,74.1 67.2,73.3 70.0,73.0 72.2,73.2 77.8,74.6 86.5,76.2 92.8,76.6 94.1,77.2 95.0,78.8 95.9,82.0 96.7,86.0 97.1,89.8 96.7,92.8 95.0,96.8 94.6,99.0M131.2,99.0 130.7,96.5 128.6,93.2 128.3,92.0 128.6,90.0 129.9,86.8 132.4,81.8 133.8,80.3 136.5,79.3 140.8,78.7 144.2,79.1 145.2,79.5 145.8,80.0 146.0,81.0 145.1,84.8 145.1,87.0 146.0,89.8 147.5,92.0 149.0,93.5 150.8,94.7 157.3,98.0 158.4,99.0M176.3,99.0 177.1,98.0 181.0,95.1 182.7,92.8 183.5,90.0 183.2,84.8 183.7,83.8 185.5,83.3 190.8,83.3 195.8,82.9 198.8,83.0M58.3,0.0 57.9,1.8 56.8,4.7 55.8,6.2 55.0,6.5 54.0,5.9 49.8,1.5 49.0,0.0M133.7,0.0 133.4,2.0 130.4,12.0 129.3,15.0 128.5,16.5 127.8,17.2 126.8,17.8 125.8,17.9 123.2,17.6 120.8,16.7 113.0,12.8 111.8,11.8 111.1,10.0 110.7,6.2 111.4,0.0M198.8,53.2 197.2,52.8 186.0,48.1 181.8,45.7 177.8,42.8 176.9,41.2 176.3,39.2 174.4,30.8 173.9,27.0 174.3,25.5 175.0,24.9 176.0,24.5 180.8,23.5 186.5,22.8 189.8,23.1 195.2,25.1 198.8,25.6M0.0,42.6 4.5,42.1 6.0,42.2 11.2,44.0 18.2,45.8 19.8,46.4 20.5,47.0 21.0,47.8 21.0,48.5 20.0,53.2 20.0,57.5 20.8,61.0 23.1,66.2 23.5,70.2 23.4,72.5 22.8,74.0 21.5,75.2 19.5,76.0 16.8,76.7 13.8,77.1 4.0,77.8 0.0,77.6M67.1,99.0 66.9,96.5 66.0,92.8 66.0,90.8 68.8,81.3 69.6,80.2 71.0,79.9 87.0,83.1 88.2,83.5 89.0,84.0 89.6,85.0 90.0,86.2 90.3,89.8 90.0,91.2 88.3,95.8 87.9,99.0M137.9,99.0 137.6,95.5 136.2,91.0 136.5,89.6 137.0,89.0 137.5,88.9 138.2,89.5 140.2,93.5 143.5,97.7 144.0,99.0M187.4,99.0 187.7,97.8 189.1,94.8 190.2,91.8 191.0,90.7 192.0,90.2 193.8,89.8 198.8,89.6M126.7,0.0 126.4,1.8 124.6,8.0 123.8,9.3 122.8,9.7 121.5,9.5 119.8,8.7 118.5,7.8 117.9,7.0 117.5,5.2 118.0,0.0M198.8,45.7 196.5,45.2 190.6,43.0 187.2,41.3 184.5,39.5 183.3,38.2 182.6,37.0 181.9,34.5 181.7,32.2 181.9,31.0 182.8,30.2 184.3,29.8 186.8,29.5 188.8,29.8 194.5,31.8 198.8,32.2M0.0,49.3 4.0,49.0 5.5,49.1 10.8,50.8 12.5,51.8 13.1,53.2 13.4,57.8 13.8,60.5 14.6,63.2 16.1,67.0 16.3,68.2 15.8,69.5 15.0,70.0 13.8,70.3 4.0,71.1 0.0,71.0M73.8,99.0 73.6,96.5 72.9,92.5 73.0,90.9 73.5,89.5 74.2,88.5 75.0,88.0 76.0,87.9 80.8,88.7 81.8,89.2 82.5,90.0 82.6,91.2 81.5,95.8 81.2,99.0M195.1,99.0 195.5,97.8 196.1,97.0 197.2,96.5 198.8,96.4M0.0,55.9 3.8,55.9 5.5,56.5 6.5,58.0 7.1,61.8 6.8,63.2 5.7,64.0 3.5,64.4 0.0,64.4" fill="none" stroke="#9a9a9a" stroke-width="0.42"/>
<path d="M47.1,99.0 46.6,94.2 47.0,90.2 47.7,86.8 49.6,80.5 50.7,75.2 51.5,72.2 53.0,69.2 54.8,66.8 56.8,65.0 60.3,62.5 61.0,61.5 60.7,60.8 57.5,58.5 56.0,57.1 54.9,55.2 54.4,53.2 54.6,49.8 56.3,44.2 56.9,41.5 57.6,36.0 57.4,34.0 56.7,33.0 54.0,30.7 51.3,27.8 49.8,26.7 47.0,25.7 32.8,21.6 27.2,19.2 22.8,16.6 20.0,14.5 15.2,9.8 11.1,7.0 9.5,5.6 8.5,4.2 8.0,3.0 7.6,0.0M80.9,0.0 80.8,2.2 80.2,4.0 78.9,5.8 75.4,9.2 74.4,11.2 73.8,13.8 73.7,16.5 74.3,21.2 75.4,26.0 76.2,27.5 77.6,28.5 80.2,29.7 87.0,31.4 105.2,34.3 109.2,34.6 111.0,34.3 111.2,34.0 110.7,33.2 107.4,31.0 105.5,30.3 101.0,29.3 98.5,28.2 96.8,26.9 95.2,25.0 94.0,22.5 93.3,19.8 92.2,10.5 89.9,4.5 89.7,2.8 89.8,0.0M154.9,0.0 154.8,2.8 154.3,4.8 153.3,6.8 150.2,11.0 147.5,19.8 145.0,25.5 143.6,27.8 142.2,29.5 139.2,32.5 135.3,35.8 134.8,36.8 135.7,37.5 138.8,39.1 140.4,40.5 141.8,42.4 142.4,44.5 142.4,47.0 141.9,49.8 138.7,57.8 137.7,61.2 137.6,62.8 138.1,64.0 140.0,65.8 141.8,66.6 149.0,67.4 160.0,69.3 169.2,70.2 182.0,70.7 185.8,70.6 186.5,70.4 187.0,70.0 186.8,69.5 185.8,68.8 176.0,64.0 172.2,61.7 166.8,58.0 163.3,55.2 161.0,52.1 159.6,49.0 158.4,44.8 154.8,27.2 153.6,17.2 153.9,15.0 154.8,13.0 157.0,10.7 160.0,9.1 168.8,6.9 177.0,5.2 184.0,4.4 189.5,4.3 193.0,4.6 198.8,5.8M0.0,20.7 4.0,20.4 7.0,21.0 9.8,22.2 15.8,25.7 27.2,29.0 34.8,32.2 39.0,34.6 41.8,37.0 43.8,39.8 44.3,41.2 44.7,43.0 44.6,46.2 43.9,49.2 42.8,52.1 40.5,55.5 40.2,56.5 40.2,57.8 41.3,61.5 41.9,65.0 42.0,75.2 41.7,77.5 41.1,79.8 40.1,82.0 38.8,84.2 36.9,86.8 34.8,88.9 32.5,90.6 29.8,92.1 26.0,93.5 21.0,94.9 10.5,96.1 8.5,97.4 7.8,98.2 7.5,99.0M116.7,99.0 115.8,93.2 116.0,90.8 116.5,88.2 118.5,82.8 122.3,74.8 124.1,71.5 124.3,70.0 123.2,68.9 121.0,68.1 109.0,66.3 105.2,66.0 104.0,66.3 103.7,66.8 103.7,67.2 105.6,72.2 107.1,77.2 108.3,82.5 108.9,87.0 108.9,93.0 107.8,99.0M0.0,15.0 4.8,14.8 11.0,15.8 11.5,15.8 11.7,15.5 11.0,14.2 6.5,10.5 4.0,7.5 2.4,4.0 1.9,0.0M160.7,0.0 160.8,1.0 161.2,1.8 162.0,2.2 162.8,2.3 164.5,2.1 167.3,1.2 169.0,0.5 169.4,0.0M87.4,25.2 88.0,24.8 88.2,23.5 86.9,12.8 86.4,11.2 85.6,10.0 84.8,9.3 84.0,9.3 83.0,9.8 81.2,11.3 80.2,12.4 79.6,13.5 79.2,16.0 79.8,20.5 80.5,22.8 81.8,24.1 84.8,25.2 86.2,25.4 87.4,25.2M161.7,63.2 162.1,62.8 161.9,62.0 157.4,56.8 155.0,52.5 154.0,49.5 152.7,44.8 150.2,33.5 149.2,31.9 148.2,31.8 145.8,34.0 144.9,35.8 145.1,37.0 146.8,39.8 147.5,41.5 147.9,43.5 148.0,45.8 147.6,50.0 146.6,53.0 144.6,58.2 144.4,59.5 144.5,60.2 145.2,61.0 147.0,61.5 158.0,63.3 160.2,63.5 161.7,63.2M50.6,38.2 51.0,37.5 50.8,36.5 50.0,35.6 49.0,35.0 48.8,35.5 49.5,37.4 50.0,38.1 50.6,38.2M49.1,64.0 50.7,62.5 51.1,61.0 50.7,59.8 49.2,57.1 48.5,56.3 48.0,56.2 47.4,56.5 46.9,57.2 46.8,59.4 47.8,63.4 48.2,64.0 49.1,64.0M114.6,76.8 115.5,75.5 115.6,74.2 115.0,73.4 113.5,73.2 113.0,73.5 112.7,74.0 112.8,75.5 113.5,76.8 114.0,77.0 114.6,76.8M41.4,99.0 40.7,94.2 40.2,93.3 39.5,93.0 38.2,93.5 31.6,97.5 30.6,98.2 30.1,99.0" fill="none" stroke="#9a9a9a" stroke-width="0.42" stroke-dasharray="1.4 1"/>
<g fill="none" stroke="#a0a0a0" stroke-width="0.4" stroke-dasharray="1.1 0.8"><path d="M0.1,26.0 L30.1,27.5 L58.2,30.0" stroke-dashoffset="0.00"/><path d="M0.0,27.3 L30.0,28.8 L58.1,31.3" stroke-dashoffset="0.77"/><path d="M-0.0,28.7 L30.0,30.2 L57.9,32.7" stroke-dashoffset="1.54"/><path d="M-0.1,30.0 L29.9,31.5 L57.8,34.0" stroke-dashoffset="0.41"/></g><g fill="none" stroke="#a0a0a0" stroke-width="0.4" stroke-dasharray="1.1 0.8"><path d="M64.9,36.5 L61.9,48.6 L57.9,60.6" stroke-dashoffset="0.00"/><path d="M63.6,36.2 L60.6,48.2 L56.6,60.2" stroke-dashoffset="0.77"/><path d="M62.4,35.8 L59.4,47.8 L55.4,59.8" stroke-dashoffset="1.54"/><path d="M61.1,35.5 L58.1,47.4 L54.1,59.4" stroke-dashoffset="0.41"/></g><g fill="none" stroke="#a0a0a0" stroke-width="0.4" stroke-dasharray="1.1 0.8"><path d="M136.9,46.6 L139.9,59.5 L143.9,73.5" stroke-dashoffset="0.00"/><path d="M135.6,46.9 L138.6,59.8 L142.6,73.8" stroke-dashoffset="0.77"/><path d="M134.4,47.1 L137.4,60.2 L141.4,74.2" stroke-dashoffset="1.54"/><path d="M133.1,47.4 L136.1,60.5 L140.1,74.5" stroke-dashoffset="0.41"/></g><g fill="none" stroke="#a0a0a0" stroke-width="0.4" stroke-dasharray="1.1 0.8"><path d="M160.2,74.0 L180.2,76.0 L200.1,77.5" stroke-dashoffset="0.00"/><path d="M160.1,75.3 L180.1,77.3 L200.0,78.8" stroke-dashoffset="0.77"/><path d="M159.9,76.7 L179.9,78.7 L200.0,80.2" stroke-dashoffset="1.54"/><path d="M159.8,78.0 L179.8,80.0 L199.9,81.5" stroke-dashoffset="0.41"/></g><g fill="none" stroke="#a0a0a0" stroke-width="0.4" stroke-dasharray="1.1 0.8"><path d="M-0.8,24.0 L15.1,25.4 L30.1,26.8 L45.1,28.1 L60.1,30.0" stroke-dashoffset="0.00"/><path d="M-0.9,26.0 L15.1,27.0 L30.1,28.1 L45.1,29.1 L60.1,30.6" stroke-dashoffset="0.77"/><path d="M-1.0,28.0 L15.0,28.7 L30.0,29.4 L45.0,30.0 L60.0,31.2" stroke-dashoffset="1.54"/><path d="M-1.0,30.0 L15.0,30.3 L30.0,30.6 L45.0,31.0 L60.0,31.8" stroke-dashoffset="0.41"/><path d="M-1.1,32.0 L14.9,32.0 L29.9,31.9 L44.9,31.9 L59.9,32.4" stroke-dashoffset="1.18"/><path d="M-1.2,34.0 L14.9,33.6 L29.9,33.2 L44.9,32.9 L59.9,33.0" stroke-dashoffset="0.05"/></g><g fill="none" stroke="#a0a0a0" stroke-width="0.4" stroke-dasharray="1.1 0.8"><path d="M150.2,71.0 L165.4,72.4 L180.4,73.2 L201.4,73.5" stroke-dashoffset="0.00"/><path d="M150.1,71.6 L165.2,73.4 L180.2,74.7 L201.2,75.5" stroke-dashoffset="0.77"/><path d="M150.0,72.2 L165.1,74.5 L180.1,76.2 L201.1,77.5" stroke-dashoffset="1.54"/><path d="M150.0,72.8 L164.9,75.5 L179.9,77.8 L200.9,79.5" stroke-dashoffset="0.41"/><path d="M149.9,73.4 L164.8,76.6 L179.8,79.3 L200.8,81.5" stroke-dashoffset="1.18"/><path d="M149.8,74.0 L164.6,77.6 L179.6,80.8 L200.6,83.5" stroke-dashoffset="0.05"/></g><path d="M0.0,23.7 L20.0,24.8 L34.5,26.3" fill="none" stroke="#f070b0" stroke-width="1.8" stroke-linecap="round" stroke-linejoin="round" /><path d="M34.5,26.3 L49.6,27.8 L57.0,28.8 L64.6,30.8 L79.6,35.3 L94.6,38.3 L109.7,40.6 L124.7,42.8 L136.7,44.3 L149.6,47.3 L163.0,50.0" fill="none" stroke="#d4145a" stroke-width="1.9" stroke-linecap="round" stroke-linejoin="round" /><path d="M60.1,54.1 L79.6,56.3 L94.6,58.6 L109.7,60.8 L124.7,63.1 L133.7,66.1 L149.6,71.3 L162.0,73.5 L176.0,74.8" fill="none" stroke="#d4145a" stroke-width="1.9" stroke-linecap="round" stroke-linejoin="round" /><path d="M176.0,74.8 L190.0,75.8 L200.0,76.3" fill="none" stroke="#f070b0" stroke-width="1.8" stroke-linecap="round" stroke-linejoin="round" /><path d="M69.1,33.0 L60.9,60.1" fill="none" stroke="#f08020" stroke-width="1.0" stroke-linecap="round" stroke-linejoin="round" /><path d="M136.7,39.1 L129.9,66.1" fill="none" stroke="#f08020" stroke-width="1.0" stroke-linecap="round" stroke-linejoin="round" /><path d="M58.0,29.5 L64.0,33.0 L68.0,37.0 L70.0,41.0" fill="none" stroke="#000" stroke-width="1.7" stroke-linecap="round" stroke-linejoin="round" /><path d="M67.5,53.0 L72.8,45.8 L70.3,45.9 L71.8,40.2 L70.2,39.8 L67.3,52.9Z" fill="#000" /><path d="M130.7,50.0 L132.5,57.0 L134.5,63.5 L138.0,67.5 L142.7,69.0" fill="none" stroke="#000" stroke-width="1.6" stroke-linecap="round" stroke-linejoin="round" /><path d="M132.0,47.5 L126.6,55.0 L129.0,54.9 L127.4,60.8 L129.0,61.2 L132.2,47.6Z" fill="#000" /><path d="M94.6,35.3 L104.9,33.4 L103.8,35.6 L111.3,36.6 L111.1,38.2 L94.6,35.6Z" fill="#000" /><path d="M103.7,64.3 L93.4,66.0 L94.6,63.8 L87.8,62.8 L88.0,61.2 L103.7,64.0Z" fill="#000" />
</g>
<rect x="161.0" y="0" width="38.2" height="13.8" fill="#fff" stroke="#000" stroke-width="1.1"/>
<text x="179.50" y="10.6" font-size="10.4" text-anchor="middle" fill="#000" stroke="#000" stroke-width="0.18">4.1 Myr</text>
<rect x="0" y="0" width="199.2" height="99.4" fill="none" stroke="#000" stroke-width="1.25"/>
<line x1="0.00" y1="99.4" x2="0.00" y2="104.0" stroke="#000" stroke-width="1.1"/>
<line x1="-5" y1="0.00" x2="0" y2="0.00" stroke="#000" stroke-width="1.1"/>
<line x1="66.40" y1="99.4" x2="66.40" y2="104.0" stroke="#000" stroke-width="1.1"/>
<line x1="-5" y1="33.13" x2="0" y2="33.13" stroke="#000" stroke-width="1.1"/>
<line x1="132.80" y1="99.4" x2="132.80" y2="104.0" stroke="#000" stroke-width="1.1"/>
<line x1="-5" y1="66.27" x2="0" y2="66.27" stroke="#000" stroke-width="1.1"/>
<line x1="199.20" y1="99.4" x2="199.20" y2="104.0" stroke="#000" stroke-width="1.1"/>
<line x1="-5" y1="99.40" x2="0" y2="99.40" stroke="#000" stroke-width="1.1"/>
<text x="0.00" y="113.60000000000001" font-size="10.4" text-anchor="middle" fill="#000" stroke="#000" stroke-width="0.18">600</text>
<text x="66.40" y="113.60000000000001" font-size="10.4" text-anchor="middle" fill="#000" stroke="#000" stroke-width="0.18">400</text>
<text x="132.80" y="113.60000000000001" font-size="10.4" text-anchor="middle" fill="#000" stroke="#000" stroke-width="0.18">200</text>
<text x="199.20" y="113.60000000000001" font-size="10.4" text-anchor="middle" fill="#000" stroke="#000" stroke-width="0.18">0</text>
<text x="-6.5" y="3.30" font-size="10.3" text-anchor="end" fill="#000" stroke="#000" stroke-width="0.18">300</text>
<text x="-6.5" y="36.43" font-size="10.3" text-anchor="end" fill="#000" stroke="#000" stroke-width="0.18">200</text>
<text x="-6.5" y="69.57" font-size="10.3" text-anchor="end" fill="#000" stroke="#000" stroke-width="0.18">100</text>
<text x="-6.5" y="102.70" font-size="10.3" text-anchor="end" fill="#000" stroke="#000" stroke-width="0.18">0</text>
</g>
<g transform="translate(483.6,16.2)">
<g clip-path="url(#pc)">
<rect x="0" y="0" width="199.2" height="99.4" fill="#e0ffd8"/>
<path d="M24.0,0.0 C30.5,-1.2 59.0,-0.5 66.0,0.0 C73.0,0.5 67.0,2.1 66.0,3.0 C65.0,3.9 62.2,4.5 60.0,5.3 C57.8,6.0 54.2,6.4 52.5,7.5 C50.8,8.6 49.2,10.2 49.5,12.0 C49.8,13.8 52.2,16.2 54.0,18.0 C55.8,19.8 58.0,21.2 60.0,22.5 C62.0,23.8 65.7,24.9 66.0,26.0 C66.3,27.1 63.8,29.0 62.0,29.0 C60.2,29.0 57.3,27.5 55.0,26.0 C52.7,24.5 49.9,21.8 48.0,20.0 C46.1,18.2 45.8,16.3 43.5,15.0 C41.2,13.7 37.2,13.2 34.5,12.0 C31.8,10.8 28.8,9.5 27.0,7.5 C25.2,5.5 17.5,1.2 24.0,0.0Z" fill="#aaff88" /><path d="M0.0,34.5 C2.5,26.3 9.5,32.8 15.0,33.0 C20.5,33.2 29.8,34.5 33.0,36.0 C36.2,37.5 34.2,39.7 34.5,42.0 C34.8,44.3 34.8,47.7 34.5,50.0 C34.2,52.3 32.5,53.8 33.0,56.0 C33.5,58.2 36.2,60.8 37.5,63.5 C38.8,66.2 40.5,69.8 40.5,72.5 C40.5,75.2 39.2,78.0 37.5,80.0 C35.8,82.0 33.8,83.6 30.0,84.5 C26.2,85.4 20.0,85.7 15.0,85.3 C10.0,84.9 2.5,90.8 0.0,82.3 C-2.5,73.8 -2.5,42.7 0.0,34.5Z" fill="#aaff88" /><path d="M57.0,100.0 C52.6,97.4 56.5,88.8 57.0,84.5 C57.5,80.2 58.7,76.4 60.0,74.0 C61.3,71.6 63.1,70.5 64.6,70.3 C66.1,70.0 67.0,70.4 69.0,72.5 C71.0,74.6 74.3,79.5 76.6,83.0 C78.9,86.5 81.5,90.7 82.6,93.5 C83.7,96.3 87.6,98.9 83.3,100.0 C79.0,101.1 61.4,102.6 57.0,100.0Z" fill="#aaff88" /><path d="M116.5,0.0 C121.0,-1.2 136.4,-1.2 140.5,0.0 C144.6,1.2 141.3,4.5 141.3,7.5 C141.3,10.5 141.1,15.0 140.5,18.0 C139.9,21.0 139.2,24.8 137.5,25.5 C135.8,26.2 133.0,24.5 130.0,22.5 C127.0,20.5 122.2,16.0 119.5,13.5 C116.8,11.0 114.0,9.8 113.5,7.5 C113.0,5.2 112.0,1.2 116.5,0.0Z" fill="#aaff88" /><path d="M163.0,14.0 C169.7,12.6 193.8,8.0 200.0,14.0 C206.2,20.0 202.7,44.0 200.0,50.0 C197.3,56.0 188.2,50.8 184.0,50.0 C179.8,49.2 178.2,47.1 175.0,45.0 C171.8,42.9 167.1,40.0 164.6,37.5 C162.1,35.0 160.8,32.5 160.0,30.0 C159.2,27.5 159.5,25.2 160.0,22.5 C160.5,19.8 156.3,15.4 163.0,14.0Z" fill="#aaff88" /><path d="M170.6,59.0 C171.1,57.8 171.8,56.5 175.0,56.0 C178.2,55.5 185.8,55.9 190.0,56.0 C194.2,56.1 198.3,55.0 200.0,56.8 C201.7,58.5 202.9,65.0 200.0,66.5 C197.1,68.0 187.3,66.3 182.6,65.8 C177.9,65.3 174.0,64.6 172.0,63.5 C170.0,62.4 170.1,60.2 170.6,59.0Z" fill="#aaff88" /><path d="M139.0,100.0 C132.2,97.9 139.5,90.8 140.5,87.5 C141.5,84.2 143.0,81.8 145.0,80.0 C147.0,78.2 149.5,77.0 152.5,77.0 C155.5,77.0 159.8,78.5 163.0,80.0 C166.2,81.5 169.5,83.5 172.0,86.0 C174.5,88.5 176.5,92.7 178.0,95.0 C179.5,97.3 187.5,99.2 181.0,100.0 C174.5,100.8 145.8,102.1 139.0,100.0Z" fill="#aaff88" /><path d="M62.0,29.0 C63.0,26.7 67.0,29.8 70.0,31.0 C73.0,32.2 75.8,34.7 80.0,36.0 C84.2,37.3 90.0,37.8 95.0,38.6 C100.0,39.4 105.0,40.0 110.0,40.8 C115.0,41.5 120.8,42.5 125.0,43.1 C129.2,43.7 133.5,42.5 135.0,44.5 C136.5,46.5 134.7,51.7 134.0,55.0 C133.3,58.3 132.6,63.0 131.0,64.5 C129.4,66.0 128.0,64.5 124.5,64.1 C121.0,63.6 114.9,62.5 110.0,61.8 C105.1,61.0 100.0,60.2 95.0,59.6 C90.0,59.0 84.8,58.8 80.0,58.1 C75.2,57.4 68.7,57.7 66.0,55.5 C63.3,53.3 64.7,49.4 64.0,45.0 C63.3,40.6 61.0,31.3 62.0,29.0Z" fill="#aaff88" /><path d="M127.5,19.8 C128.2,18.8 132.0,18.8 134.0,19.0 C136.0,19.2 139.0,19.9 139.5,21.0 C140.0,22.1 138.6,25.1 137.0,25.8 C135.4,26.5 131.6,26.0 130.0,25.0 C128.4,24.0 126.8,20.8 127.5,19.8Z" fill="#aaff88" /><path d="M66.0,54.5 C66.7,53.0 69.0,52.4 70.0,53.0 C71.0,53.6 72.0,56.2 72.0,58.0 C72.0,59.8 71.0,62.8 70.0,63.5 C69.0,64.2 66.7,63.5 66.0,62.0 C65.3,60.5 65.3,56.0 66.0,54.5Z" fill="#aaff88" /><ellipse cx="82.6" cy="22.5" rx="7.5" ry="5.2" transform="rotate(35 82.6 22.5)" fill="#aaffff" /><ellipse cx="51.8" cy="36.4" rx="7" ry="3.5" transform="rotate(40 51.8 36.4)" fill="#aaffff" /><ellipse cx="117.6" cy="77.3" rx="7" ry="6.5" transform="rotate(20 117.6 77.3)" fill="#aaffff" /><path d="M0.0,12.0 L8.0,13.0 L15.0,17.0 L14.0,22.0 L8.0,24.0 L0.0,24.0Z" fill="#aaffff" /><path d="M0.0,21.0 L3.0,21.0 L3.0,24.0 L0.0,24.0Z" fill="#44ffff" /><path d="M184.0,77.0 L192.0,76.5 L200.0,77.0 L200.0,86.0 L190.0,85.0Z" fill="#aaffff" /><path d="M59.0,23.0 C59.5,21.3 63.8,23.0 66.0,24.0 C68.2,25.0 70.5,26.8 72.0,29.0 C73.5,31.2 74.7,34.3 75.0,37.0 C75.3,39.7 74.8,43.2 74.0,45.0 C73.2,46.8 71.2,48.3 70.0,48.0 C68.8,47.7 68.2,45.3 67.0,43.0 C65.8,40.7 64.3,37.3 63.0,34.0 C61.7,30.7 58.5,24.7 59.0,23.0Z" fill="#00ff00" /><ellipse cx="102" cy="49" rx="18" ry="8.5" transform="rotate(33 102 49)" fill="#00ff00" /><ellipse cx="102" cy="49" rx="12.5" ry="5" transform="rotate(33 102 49)" fill="#00cc00" /><ellipse cx="102" cy="49" rx="7" ry="2.5" transform="rotate(33 102 49)" fill="#00ff00" /><ellipse cx="132" cy="60" rx="6" ry="9" transform="rotate(15 132 60)" fill="#00ff00" /><ellipse cx="138" cy="73" rx="6" ry="4.5" transform="rotate(20 138 73)" fill="#00ff00" /><ellipse cx="195.5" cy="38" rx="7" ry="6.5" transform="rotate(0 195.5 38)" fill="#00ff00" />
<path d="M68.0,0.0 67.8,0.8 67.2,1.6 65.0,3.2 61.0,4.8 54.0,6.8 52.2,7.6 50.9,8.8 49.9,10.5 49.8,12.2 50.7,14.2 52.6,16.5 55.8,19.5 58.2,21.2 59.8,21.9 64.8,23.4 68.1,25.2 71.0,27.9 73.8,32.1 74.7,33.2 76.5,34.4 79.5,35.7 83.0,36.6 86.8,37.2 92.2,36.9 95.2,37.1 97.8,37.7 102.5,39.4 104.5,39.9 124.2,42.9 131.5,43.3 133.8,44.0 134.5,44.8 135.0,45.8 135.3,47.0 135.3,50.8 137.4,54.8 138.0,57.5 138.0,59.2 137.6,61.2 135.6,66.2 135.5,67.2 136.0,67.8 140.2,69.2 141.5,70.0 142.4,71.0 143.1,72.2 143.3,73.8 143.0,75.2 142.3,76.2 140.8,77.1 139.0,77.4 137.0,77.1 135.0,76.3 133.5,75.0 132.7,73.8 132.4,72.5 132.4,70.0 132.1,69.2 128.2,67.6 125.0,64.4 122.5,63.7 96.0,59.6 75.0,57.6 73.5,57.7 72.5,58.3 70.8,61.6 69.8,62.7 68.5,63.1 67.2,62.7 66.2,61.7 65.6,60.0 65.3,55.5 64.2,51.2 63.7,43.8 61.6,31.8 60.6,29.5 59.5,28.5 55.2,26.0 51.9,23.5 48.2,20.1 44.9,16.2 43.5,15.2 41.2,14.1 33.2,11.4 30.5,10.0 28.2,8.5 24.1,5.0 22.7,3.5 22.1,2.0 22.0,0.0M141.8,0.0 142.0,3.0 141.2,7.5 140.8,14.8 139.5,21.5 138.7,23.5 137.7,24.8 136.2,25.5 134.2,25.8 131.5,25.4 129.5,24.3 128.5,23.2 126.9,20.5 125.8,19.2 115.8,10.4 114.5,9.1 113.5,7.0 113.1,4.8 113.3,3.0 114.4,0.0M198.8,52.3 195.2,52.9 193.0,52.7 181.5,49.1 178.0,47.1 169.5,41.3 165.5,38.2 163.8,36.5 162.0,34.2 160.9,32.2 160.0,30.0 159.5,27.0 159.7,22.0 159.3,18.0 159.5,16.8 160.0,15.8 160.8,14.9 162.0,14.3 165.0,13.5 173.8,12.0 183.2,11.0 188.8,10.9 193.2,11.3 198.8,12.5M0.0,32.2 3.2,30.7 6.0,30.6 13.8,32.6 22.5,33.6 28.5,34.6 31.8,35.6 33.5,36.7 34.1,37.5 34.4,38.8 34.6,46.2 34.3,49.8 33.2,54.0 33.2,56.0 34.0,58.0 36.8,62.5 38.3,65.5 39.8,69.3 40.2,72.2 40.1,74.0 39.5,76.0 38.7,77.8 37.5,79.6 36.2,81.0 34.5,82.3 30.9,84.0 27.5,84.8 23.0,85.2 13.5,85.3 5.8,86.6 3.5,86.3 0.0,84.6M198.8,66.8 190.8,66.6 180.0,65.4 175.8,64.6 173.5,63.9 171.9,63.0 170.8,61.8 170.5,60.2 170.9,58.8 172.0,57.3 173.5,56.4 175.5,55.9 179.5,55.6 189.2,55.7 195.2,55.3 198.8,55.6M55.3,99.0 55.0,95.5 55.1,92.8 57.5,80.8 58.4,77.5 59.7,74.5 61.2,72.2 63.0,70.9 65.0,70.4 66.8,70.9 68.3,72.0 70.5,74.4 73.2,78.0 77.7,84.8 80.4,89.2 84.2,96.5 84.9,99.0M136.5,99.0 136.4,96.0 136.8,94.0 139.8,88.5 141.8,84.2 143.1,82.0 145.0,79.8 147.0,78.4 149.8,77.3 152.5,77.0 156.2,77.5 160.5,78.9 165.0,81.0 169.0,83.5 172.8,87.0 174.5,89.3 177.8,94.5 179.0,95.8 181.5,97.8 182.1,99.0M50.5,0.0 49.8,1.0 46.8,3.5 44.0,6.4 43.0,7.0 42.0,7.1 38.0,6.2 33.7,4.2 31.0,2.1 30.4,1.0 30.1,0.0M134.3,0.0 134.9,4.2 134.5,11.2 133.9,14.5 133.4,15.2 132.8,15.6 131.5,15.1 129.0,13.2 122.6,7.5 121.5,6.2 121.2,4.8 122.2,1.8 122.4,0.0M198.8,45.1 194.8,45.7 193.0,45.7 185.0,43.3 182.5,42.2 173.0,35.8 169.3,32.8 168.0,31.2 166.9,29.5 166.3,27.8 166.1,26.0 166.4,22.2 166.9,20.8 168.0,19.8 170.2,19.2 179.0,17.9 187.2,17.4 192.2,17.8 197.0,19.2 198.8,19.4M0.0,40.4 2.2,40.0 5.5,38.1 7.0,37.8 13.0,39.2 24.0,40.4 26.0,41.0 27.0,41.6 27.8,43.0 28.0,46.0 27.8,48.5 26.5,53.5 26.5,55.5 26.7,57.5 28.0,60.8 32.2,67.8 33.2,70.5 33.5,72.2 32.9,74.5 31.2,76.5 28.8,77.8 25.2,78.4 20.0,78.9 13.8,78.7 7.2,79.5 5.8,79.0 2.5,76.8 0.0,76.3M129.8,58.0 98.5,53.3 72.8,50.6 71.5,49.9 70.9,48.8 70.3,42.8 70.3,40.8 70.8,40.0 71.8,39.8 78.5,42.2 83.5,43.4 88.0,44.0 92.2,43.5 94.2,43.6 102.5,46.2 126.2,49.8 127.2,50.3 127.9,51.2 128.8,54.0 130.2,57.0 130.1,57.8 129.8,58.0M62.2,99.0 61.6,95.0 61.9,92.2 64.0,82.5 64.8,80.9 65.2,80.5 65.8,80.4 66.8,80.9 68.0,82.2 72.3,88.5 76.2,95.5 77.3,97.8 77.5,99.0M143.5,99.0 143.4,96.8 143.7,95.2 147.9,86.8 148.8,85.5 150.0,84.5 151.2,83.9 152.8,83.7 155.5,84.1 159.2,85.5 162.5,87.1 165.7,89.2 167.5,91.0 169.2,93.3 171.4,97.0 172.1,99.0M198.8,38.4 193.2,38.8 186.5,36.7 176.1,29.8 174.3,28.0 173.9,26.8 174.4,25.8 176.2,25.0 180.5,24.4 186.2,24.0 190.5,24.3 195.8,25.8 198.8,26.1M0.0,47.1 3.0,46.8 7.0,45.4 8.5,45.2 17.8,46.3 19.2,46.7 20.0,47.2 20.4,47.8 20.6,48.5 19.8,54.2 19.9,56.8 20.2,59.0 21.4,62.5 24.9,68.5 25.4,70.2 25.1,71.0 24.5,71.5 22.5,72.0 19.5,72.2 14.0,72.1 9.8,72.4 8.0,72.0 3.5,70.1 0.0,69.6M150.2,99.0 150.7,96.5 152.5,92.8 153.5,91.6 154.8,91.2 156.0,91.4 157.8,92.1 161.3,94.2 163.5,96.7 164.2,98.0 164.4,99.0M0.0,53.8 3.5,53.4 8.8,52.2 10.5,52.3 12.0,52.9 12.6,53.5 13.0,54.5 13.4,58.8 14.3,63.5 14.1,64.2 13.5,64.9 12.5,65.3 11.0,65.4 9.5,65.2 4.2,63.5 0.0,63.0" fill="none" stroke="#9a9a9a" stroke-width="0.42"/>
<path d="M49.6,99.0 49.5,94.8 49.8,91.5 52.1,79.8 53.1,76.2 54.3,73.0 55.6,70.5 57.4,68.2 60.1,65.8 60.6,64.5 59.8,57.0 58.9,52.5 58.4,45.5 56.3,34.2 55.0,32.5 50.8,29.6 47.5,26.9 40.5,19.9 38.8,19.0 33.5,17.3 29.8,15.7 26.5,13.9 23.6,11.8 19.3,8.0 17.4,5.8 16.3,3.2 16.0,0.0M74.4,0.0 73.9,3.0 73.2,4.2 72.3,5.2 70.5,6.5 67.0,8.4 58.5,11.5 57.9,12.0 57.7,12.8 57.9,13.5 58.6,14.5 61.2,16.5 67.0,18.4 71.0,20.6 74.7,23.8 78.6,29.0 80.0,29.9 81.8,30.6 86.8,31.7 92.8,31.5 96.2,31.7 99.0,32.3 106.0,34.6 125.2,37.5 133.0,37.9 135.2,38.5 137.0,39.3 139.2,41.5 140.4,44.0 141.0,49.0 142.7,53.2 143.3,55.8 143.5,58.8 143.2,62.5 143.4,63.8 144.0,64.8 146.8,67.5 148.8,70.4 150.2,71.3 156.2,71.9 161.5,73.4 167.2,76.0 172.0,78.9 174.5,81.0 177.1,83.8 182.2,91.1 187.1,95.0 188.2,96.8 188.6,99.0M147.7,0.0 147.6,3.2 146.7,8.2 146.0,17.2 145.0,22.0 144.0,25.2 142.5,27.8 140.2,29.8 137.8,30.9 134.5,31.2 132.2,31.2 130.2,30.8 128.2,30.0 126.5,29.0 124.5,27.1 121.2,22.5 110.5,12.9 108.8,10.2 107.8,7.2 107.6,4.0 108.0,0.0M198.8,72.2 190.5,72.1 175.5,70.2 172.5,69.4 170.0,68.4 168.2,67.3 166.8,65.8 165.7,64.2 165.0,62.2 164.9,60.0 165.2,58.0 166.6,55.0 168.0,53.3 170.7,51.0 171.0,50.5 171.0,49.8 169.8,48.2 163.9,44.0 161.0,41.5 158.3,38.5 156.4,35.5 155.0,32.2 154.2,29.0 154.0,26.5 154.2,22.0 153.8,17.5 153.9,15.8 154.3,14.2 155.9,11.8 158.5,9.8 162.2,8.4 173.0,6.6 183.5,5.5 191.2,5.6 198.8,6.7M0.0,25.4 3.8,25.0 6.8,25.2 14.8,27.2 23.2,28.2 28.5,29.0 31.8,29.8 34.5,30.7 36.2,31.6 37.8,32.9 39.3,35.2 39.9,38.0 39.9,48.0 39.0,53.8 39.1,55.2 39.6,56.5 42.5,61.5 44.1,65.2 45.3,69.0 45.7,72.5 45.5,75.0 44.9,77.2 43.9,79.8 42.5,82.0 40.9,84.0 39.0,85.8 36.8,87.4 34.5,88.5 31.2,89.6 27.5,90.3 22.2,90.7 14.0,90.8 6.5,92.1 4.0,92.1 0.0,91.4M130.8,99.0 130.8,95.8 131.2,93.4 132.2,91.0 135.0,85.8 135.3,84.5 135.2,83.5 134.5,82.5 131.2,80.4 129.6,79.0 128.2,77.2 126.0,73.2 122.0,69.7 120.5,69.0 118.5,68.6 97.5,65.3 79.5,63.5 77.0,63.7 75.8,64.6 74.0,67.0 73.5,68.2 73.7,69.2 81.5,80.6 85.0,86.2 89.6,95.0 90.3,97.0 90.4,99.0M0.0,19.7 4.2,19.5 7.5,19.7 10.0,20.2 15.0,21.6 18.0,22.1 25.2,22.4 26.8,22.3 27.3,22.0 26.6,21.0 22.0,17.6 16.3,12.8 13.2,9.5 11.9,7.5 11.0,5.2 10.6,3.0 10.5,0.0M80.0,0.0 79.5,3.8 78.3,6.8 76.2,9.2 72.3,12.2 71.7,13.0 71.7,13.5 72.5,14.8 78.2,19.5 82.7,24.8 84.2,25.6 86.8,26.1 94.2,26.0 97.5,26.3 100.8,27.1 106.2,28.9 109.5,29.5 115.8,30.3 117.2,30.3 118.0,30.0 118.4,29.5 118.3,28.5 117.0,26.3 113.0,22.4 107.2,17.5 105.5,15.5 104.2,13.5 103.0,10.5 102.3,7.5 102.0,4.2 102.3,0.0M153.3,0.0 153.6,3.8 154.0,4.5 154.8,4.8 160.8,3.1 170.2,1.0 171.7,0.5 172.4,0.0M158.4,66.2 159.0,66.0 159.5,65.2 159.3,60.5 159.5,58.0 160.1,55.5 161.8,51.5 161.9,50.2 161.1,49.0 157.0,45.3 154.3,42.2 151.6,38.2 148.9,32.5 148.2,31.8 147.2,31.7 146.0,32.5 143.7,34.5 143.0,35.5 142.9,36.2 143.3,37.2 145.1,40.5 145.8,42.5 146.5,47.5 148.0,51.8 148.7,54.2 149.3,61.2 150.7,63.5 152.8,65.4 155.0,66.1 158.4,66.2M52.0,65.2 53.0,64.5 54.0,63.2 54.5,61.0 54.3,58.0 53.4,53.0 53.1,48.0 52.6,44.5 51.5,38.8 50.8,37.0 49.0,35.3 47.5,34.5 46.5,34.3 45.9,34.8 45.6,36.0 45.5,47.8 45.1,54.0 45.6,55.5 50.0,64.4 51.0,65.4 52.0,65.2M125.3,99.0 125.3,95.5 125.6,93.2 126.2,90.9 127.7,87.2 127.8,85.8 127.2,84.5 124.1,81.0 121.6,77.0 119.5,75.0 118.1,74.2 116.2,73.8 98.0,71.0 87.2,69.8 84.5,69.7 83.1,70.0 82.6,70.5 82.5,71.0 83.1,72.8 89.2,82.7 94.7,92.8 95.7,95.8 96.0,99.0M198.8,77.7 191.8,77.7 182.8,77.0 181.0,77.2 180.5,77.8 180.9,79.2 186.0,86.8 190.5,90.5 192.3,92.8 193.7,95.8 194.2,99.0M44.1,99.0 43.8,92.2 43.4,91.2 42.8,90.9 41.5,91.2 35.2,94.2 29.2,95.6 23.0,96.2 14.2,96.4 5.5,98.2 0.0,97.4M0.0,14.1 6.0,13.8 7.1,13.5 7.6,13.0 7.6,11.8 6.1,8.0 5.4,5.5 5.0,0.0M85.5,0.0 85.3,3.2 84.6,6.2 83.5,8.7 81.2,12.8 81.1,13.8 81.8,15.0 85.2,19.1 87.0,20.3 88.8,20.5 99.8,20.7 100.7,20.2 100.8,19.5 98.2,13.5 97.1,10.0 96.6,5.5 96.7,0.0M119.8,99.0 119.9,93.8 121.1,88.5 121.1,87.0 120.3,85.2 116.8,80.2 115.2,79.3 112.8,78.8 98.2,76.6 95.8,76.4 94.2,76.5 93.4,77.2 93.5,78.5 100.2,91.5 101.2,95.2 101.5,99.0M198.8,83.3 195.0,83.6 193.8,84.0 193.5,84.5 194.0,85.8 196.8,89.2 198.0,90.5 198.8,90.9M91.0,14.2 91.6,13.5 91.6,12.2 91.0,10.5 90.2,9.9 89.8,10.1 89.0,11.0 88.5,12.0 88.5,13.0 88.8,13.8 89.5,14.2 90.2,14.4 91.0,14.2M114.3,99.0 114.3,94.0 115.0,88.8 114.8,87.5 114.4,86.5 113.2,85.2 111.8,84.3 108.0,83.6 105.0,83.5 103.8,84.0 103.6,85.0 106.3,92.8 106.8,95.8 107.0,99.0" fill="none" stroke="#9a9a9a" stroke-width="0.42" stroke-dasharray="1.4 1"/>
<path d="M37.5,45.0 L49.4,50.6" fill="none" stroke="#dcb070" stroke-width="1.0" stroke-linecap="round" stroke-linejoin="round" /><path d="M74.9,36.3 L124.5,63.3" fill="none" stroke="#dcb070" stroke-width="1.0" stroke-linecap="round" stroke-linejoin="round" /><path d="M0.0,24.0 L20.0,24.8 L37.5,26.3" fill="none" stroke="#f070b0" stroke-width="1.8" stroke-linecap="round" stroke-linejoin="round" /><path d="M37.5,26.3 L49.4,27.3 L64.4,31.1 L79.4,36.3 L94.4,38.6 L109.5,40.8 L124.5,43.1 L139.5,45.3 L149.4,46.8 L157.0,48.5 L164.6,50.5" fill="none" stroke="#d4145a" stroke-width="1.9" stroke-linecap="round" stroke-linejoin="round" /><path d="M164.6,50.5 L180.0,51.5 L200.0,52.3" fill="none" stroke="#f070b0" stroke-width="1.7" stroke-linecap="round" stroke-linejoin="round" /><path d="M49.4,50.6 L64.4,55.1 L79.4,58.1 L94.4,59.6 L109.5,61.8 L124.5,64.1 L139.5,67.9 L150.0,71.5 L160.0,74.0" fill="none" stroke="#d4145a" stroke-width="1.9" stroke-linecap="round" stroke-linejoin="round" /><path d="M160.0,74.0 L180.0,75.5 L200.0,76.3" fill="none" stroke="#f070b0" stroke-width="1.7" stroke-linecap="round" stroke-linejoin="round" /><path d="M69.0,45.3 L67.5,55.0 L65.3,66.5" fill="none" stroke="#6a2bbf" stroke-width="1.4" stroke-linecap="round" stroke-linejoin="round" /><path d="M135.3,28.5 L134.0,38.0 L132.7,51.3 L133.0,50.0" fill="none" stroke="#6a2bbf" stroke-width="1.4" stroke-linecap="round" stroke-linejoin="round" /><path d="M62.9,24.3 L67.0,28.0 L72.0,34.0 L74.9,40.8" fill="none" stroke="#000" stroke-width="1.8" stroke-linecap="round" stroke-linejoin="round" /><path d="M71.0,52.0 L75.9,46.7 L73.4,46.8 L74.8,42.2 L73.2,41.8 L70.8,51.9Z" fill="#000" /><path d="M127.5,57.3 L130.0,61.0 L133.5,64.5 L137.0,67.0" fill="none" stroke="#000" stroke-width="1.8" stroke-linecap="round" stroke-linejoin="round" /><path d="M132.0,46.0 L127.1,52.0 L129.5,51.8 L128.2,56.8 L129.8,57.2 L132.2,46.1Z" fill="#000" /><path d="M114.6,53.4 L109.2,46.8 L109.0,48.7 L100.8,44.0 L99.6,46.0 L114.4,53.7Z" fill="#000" /><path d="M95.2,48.8 L100.8,55.3 L100.9,53.3 L109.4,58.0 L110.6,55.8 L95.4,48.5Z" fill="#000" /><path d="M7.5,20.5 L17.5,17.3 L16.7,19.6 L24.0,19.6 L24.0,21.4 L7.5,20.8Z" fill="#000" /><path d="M25.5,28.3 L15.5,31.5 L16.3,29.2 L9.0,29.2 L9.0,27.4 L25.5,28.0Z" fill="#000" /><path d="M97.4,34.8 L107.1,32.7 L106.1,34.9 L112.6,35.7 L112.4,37.3 L97.4,35.1Z" fill="#000" /><path d="M106.5,64.6 L96.7,66.5 L97.8,64.3 L91.3,63.3 L91.5,61.7 L106.5,64.3Z" fill="#000" /><path d="M178.0,72.0 L187.4,69.1 L186.5,71.4 L193.0,71.7 L193.0,73.3 L178.0,72.3Z" fill="#000" /><path d="M196.0,79.0 L185.9,81.9 L186.8,79.6 L178.0,79.3 L178.0,77.7 L196.0,78.7Z" fill="#000" />
</g>
<rect x="161.0" y="0" width="38.2" height="13.8" fill="#fff" stroke="#000" stroke-width="1.1"/>
<text x="179.50" y="10.6" font-size="10.4" text-anchor="middle" fill="#000" stroke="#000" stroke-width="0.18">6.2 Myr</text>
<rect x="0" y="0" width="199.2" height="99.4" fill="none" stroke="#000" stroke-width="1.25"/>
<line x1="0.00" y1="99.4" x2="0.00" y2="104.0" stroke="#000" stroke-width="1.1"/>
<line x1="-5" y1="0.00" x2="0" y2="0.00" stroke="#000" stroke-width="1.1"/>
<line x1="66.40" y1="99.4" x2="66.40" y2="104.0" stroke="#000" stroke-width="1.1"/>
<line x1="-5" y1="33.13" x2="0" y2="33.13" stroke="#000" stroke-width="1.1"/>
<line x1="132.80" y1="99.4" x2="132.80" y2="104.0" stroke="#000" stroke-width="1.1"/>
<line x1="-5" y1="66.27" x2="0" y2="66.27" stroke="#000" stroke-width="1.1"/>
<line x1="199.20" y1="99.4" x2="199.20" y2="104.0" stroke="#000" stroke-width="1.1"/>
<line x1="-5" y1="99.40" x2="0" y2="99.40" stroke="#000" stroke-width="1.1"/>
<text x="0.00" y="113.60000000000001" font-size="10.4" text-anchor="middle" fill="#000" stroke="#000" stroke-width="0.18">600</text>
<text x="66.40" y="113.60000000000001" font-size="10.4" text-anchor="middle" fill="#000" stroke="#000" stroke-width="0.18">400</text>
<text x="132.80" y="113.60000000000001" font-size="10.4" text-anchor="middle" fill="#000" stroke="#000" stroke-width="0.18">200</text>
<text x="199.20" y="113.60000000000001" font-size="10.4" text-anchor="middle" fill="#000" stroke="#000" stroke-width="0.18">0</text>
<text x="-6.5" y="3.30" font-size="10.3" text-anchor="end" fill="#000" stroke="#000" stroke-width="0.18">300</text>
<text x="-6.5" y="36.43" font-size="10.3" text-anchor="end" fill="#000" stroke="#000" stroke-width="0.18">200</text>
<text x="-6.5" y="69.57" font-size="10.3" text-anchor="end" fill="#000" stroke="#000" stroke-width="0.18">100</text>
<text x="-6.5" y="102.70" font-size="10.3" text-anchor="end" fill="#000" stroke="#000" stroke-width="0.18">0</text>
</g>
<g transform="translate(23.2,146.0)">
<g clip-path="url(#pc)">
<rect x="0" y="0" width="199.2" height="99.4" fill="#e0ffd8"/>
<path d="M21.0,0.0 C26.2,-0.8 51.2,-1.0 57.0,0.0 C62.8,1.0 55.0,4.2 55.5,6.0 C56.0,7.8 58.5,9.0 60.0,10.5 C61.5,12.0 64.1,12.8 64.6,15.0 C65.1,17.2 64.8,22.8 63.0,24.0 C61.2,25.2 56.5,23.0 54.0,22.5 C51.5,22.0 50.0,21.8 48.0,21.0 C46.0,20.2 44.5,19.5 42.0,18.0 C39.5,16.5 35.8,14.2 33.0,12.0 C30.2,9.8 27.5,6.5 25.5,4.5 C23.5,2.5 15.8,0.8 21.0,0.0Z" fill="#aaff88" /><path d="M0.0,27.0 C2.5,17.5 10.0,27.5 15.0,29.0 C20.0,30.5 25.8,33.8 30.0,36.0 C34.2,38.2 36.5,39.7 40.0,42.0 C43.5,44.3 50.2,48.2 51.0,50.0 C51.8,51.8 47.5,51.8 45.0,53.0 C42.5,54.2 37.0,55.5 36.0,57.5 C35.0,59.5 38.2,62.5 39.0,65.0 C39.8,67.5 41.2,70.0 40.5,72.5 C39.8,75.0 37.5,77.8 34.5,80.0 C31.5,82.2 27.0,84.9 22.5,86.0 C18.0,87.1 11.2,86.8 7.5,86.8 C3.8,86.8 1.2,96.0 0.0,86.0 C-1.2,76.0 -2.5,36.5 0.0,27.0Z" fill="#aaff88" /><path d="M121.0,0.0 C123.0,-1.0 132.1,-0.8 134.5,0.0 C136.9,0.8 134.9,2.5 135.3,4.5 C135.7,6.5 136.7,9.5 136.8,12.0 C136.9,14.5 136.9,18.0 136.0,19.5 C135.1,21.0 133.0,21.8 131.5,21.0 C130.0,20.2 128.5,17.5 127.0,15.0 C125.5,12.5 123.5,8.5 122.5,6.0 C121.5,3.5 119.0,1.0 121.0,0.0Z" fill="#aaff88" /><path d="M149.5,19.5 C151.0,17.8 154.8,17.2 157.0,16.5 C159.2,15.8 155.8,15.4 163.0,15.0 C170.2,14.6 193.8,9.5 200.0,14.3 C206.2,19.1 203.3,39.2 200.0,44.0 C196.7,48.8 185.8,43.7 180.0,43.0 C174.2,42.3 169.2,41.3 165.0,40.0 C160.8,38.7 157.8,37.2 155.0,35.0 C152.2,32.8 148.9,29.6 148.0,27.0 C147.1,24.4 148.0,21.2 149.5,19.5Z" fill="#aaff88" /><path d="M167.6,56.0 C167.6,54.8 166.6,53.5 172.0,53.0 C177.4,52.5 195.3,51.2 200.0,53.0 C204.7,54.8 202.7,62.0 200.0,63.5 C197.3,65.0 188.7,62.5 184.0,62.0 C179.3,61.5 174.7,61.5 172.0,60.5 C169.3,59.5 167.6,57.2 167.6,56.0Z" fill="#aaff88" /><path d="M137.5,100.0 C126.8,97.7 135.2,89.3 136.0,86.0 C136.8,82.7 139.2,81.5 142.0,80.0 C144.8,78.5 148.7,77.2 152.5,77.0 C156.3,76.8 160.3,77.5 164.6,78.5 C168.8,79.5 173.8,81.5 178.0,83.0 C182.2,84.5 186.3,86.5 190.0,87.5 C193.7,88.5 198.3,86.9 200.0,89.0 C201.7,91.1 210.4,98.2 200.0,100.0 C189.6,101.8 148.2,102.3 137.5,100.0Z" fill="#aaff88" /><path d="M60.0,28.0 C62.8,26.8 70.0,31.6 75.0,33.0 C80.0,34.4 84.2,35.5 90.0,36.5 C95.8,37.5 104.2,38.2 110.0,39.0 C115.8,39.8 121.2,40.5 125.0,41.5 C128.8,42.5 131.8,41.9 133.0,45.0 C134.2,48.1 132.8,56.5 132.0,60.0 C131.2,63.5 130.8,65.5 128.0,66.0 C125.2,66.5 119.7,63.8 115.0,63.0 C110.3,62.2 105.0,61.8 100.0,61.0 C95.0,60.2 90.0,59.3 85.0,58.5 C80.0,57.7 74.2,56.9 70.0,56.0 C65.8,55.1 62.0,55.7 60.0,53.0 C58.0,50.3 58.0,44.2 58.0,40.0 C58.0,35.8 57.2,29.2 60.0,28.0Z" fill="#aaff88" /><path d="M69.0,57.5 C69.8,56.0 72.7,55.2 74.0,56.0 C75.3,56.8 76.6,59.7 76.6,62.0 C76.6,64.3 75.1,68.0 74.0,70.0 C72.9,72.0 70.8,74.8 70.0,74.0 C69.2,73.2 69.2,67.8 69.0,65.0 C68.8,62.2 68.2,59.0 69.0,57.5Z" fill="#aaff88" /><path d="M66.0,96.5 C66.7,95.8 68.5,95.4 70.0,95.5 C71.5,95.6 74.2,96.2 75.0,97.0 C75.8,97.8 76.5,99.5 75.0,100.0 C73.5,100.5 67.5,100.6 66.0,100.0 C64.5,99.4 65.3,97.2 66.0,96.5Z" fill="#aaff88" /><path d="M0.0,0.0 L9.0,0.0 L7.0,3.0 L0.0,3.0Z" fill="#aaff88" /><ellipse cx="2" cy="49" rx="10" ry="11" transform="rotate(0 2 49)" fill="#00ff00" /><ellipse cx="57" cy="23" rx="6" ry="5" transform="rotate(0 57 23)" fill="#00ff00" /><ellipse cx="76" cy="37" rx="4" ry="2.5" transform="rotate(0 76 37)" fill="#00ff00" /><ellipse cx="54.3" cy="23.8" rx="4.5" ry="3.7" transform="rotate(0 54.3 23.8)" fill="#00ff00" /><ellipse cx="128" cy="61.5" rx="4" ry="3" transform="rotate(0 128 61.5)" fill="#00ff00" /><ellipse cx="143" cy="74" rx="7" ry="6" transform="rotate(20 143 74)" fill="#00ff00" /><ellipse cx="130" cy="40" rx="3" ry="2" transform="rotate(0 130 40)" fill="#00ff00" /><ellipse cx="101" cy="48" rx="18" ry="8.5" transform="rotate(48 101 48)" fill="#00ff00" /><ellipse cx="101" cy="48" rx="15" ry="6.8" transform="rotate(48 101 48)" fill="#55aa00" /><ellipse cx="101" cy="48" rx="12" ry="5" transform="rotate(48 101 48)" fill="#cfa040" /><ellipse cx="101" cy="48" rx="8" ry="3" transform="rotate(48 101 48)" fill="#c89030" /><ellipse cx="80" cy="18.5" rx="8.5" ry="4.2" transform="rotate(25 80 18.5)" fill="#aaffff" /><ellipse cx="61.5" cy="46" rx="3.6" ry="2.8" transform="rotate(20 61.5 46)" fill="#aaffff" /><ellipse cx="83.3" cy="55.5" rx="3.5" ry="5.5" transform="rotate(-10 83.3 55.5)" fill="#aaffff" /><ellipse cx="119.5" cy="80" rx="9" ry="6.8" transform="rotate(20 119.5 80)" fill="#aaffff" /><path d="M-2.0,15.4 C0.0,13.4 6.3,15.5 10.0,16.0 C13.7,16.5 17.8,17.4 20.0,18.5 C22.2,19.6 23.5,21.1 23.5,22.5 C23.5,23.9 22.2,26.0 20.0,27.0 C17.8,28.0 13.7,28.3 10.0,28.5 C6.3,28.7 0.0,30.2 -2.0,28.0 C-4.0,25.8 -4.0,17.4 -2.0,15.4Z" fill="#aaffff" /><path d="M-2.0,19.0 C-0.3,17.8 5.6,18.9 8.0,19.5 C10.4,20.1 12.2,21.3 12.5,22.5 C12.8,23.7 12.4,25.8 10.0,26.5 C7.6,27.2 0.0,28.2 -2.0,27.0 C-4.0,25.8 -3.7,20.2 -2.0,19.0Z" fill="#44ffff" /><path d="M184.0,75.5 L192.0,75.5 L200.0,76.0 L200.0,82.3 L190.0,82.0Z" fill="#aaffff" /><ellipse cx="100.6" cy="43.2" rx="2.6" ry="1.4" transform="rotate(40 100.6 43.2)" fill="#994400" /><ellipse cx="104.2" cy="54.6" rx="2.6" ry="1.4" transform="rotate(40 104.2 54.6)" fill="#994400" />
<path d="M8.0,0.0 7.4,1.5 6.0,2.5 4.2,2.8 0.0,2.8M58.3,0.0 58.0,2.0 56.3,5.0 56.2,6.0 56.4,6.8 57.8,8.5 63.0,13.0 64.0,14.4 64.5,16.0 64.6,18.5 64.2,20.8 61.9,26.2 62.1,27.2 63.0,27.9 73.8,32.4 84.8,35.3 87.0,35.4 91.0,33.7 93.8,33.6 97.2,34.6 102.0,37.3 103.8,38.0 124.5,41.1 126.5,40.8 128.2,39.0 129.2,38.5 130.5,38.5 131.4,39.0 131.9,40.0 131.6,42.5 133.0,46.2 133.3,49.8 132.8,54.5 131.7,61.0 131.2,62.8 130.2,64.2 129.2,65.0 128.2,65.5 125.5,65.6 114.8,62.9 107.8,62.1 89.2,59.0 87.8,58.4 87.0,57.5 86.2,53.8 85.2,51.9 84.0,50.8 82.5,50.5 81.2,51.0 80.4,52.0 79.0,56.4 76.9,57.8 76.4,58.2 76.2,59.0 76.3,62.2 76.0,64.2 75.2,66.8 74.0,69.4 73.0,70.9 72.0,72.0 71.0,72.4 70.3,72.2 69.6,71.2 69.2,69.5 68.6,61.5 68.7,57.8 68.5,56.8 67.3,55.8 63.2,54.7 61.6,54.0 60.2,52.8 59.4,51.2 59.2,50.0 59.5,49.2 60.2,48.8 62.2,48.4 63.2,48.0 64.0,47.2 64.3,46.0 63.9,45.0 63.0,44.0 61.8,43.4 59.2,42.9 58.7,42.5 58.3,41.8 57.9,38.5 57.9,33.2 58.2,29.8 58.0,28.8 57.2,28.2 53.2,27.2 51.5,26.3 50.5,25.2 49.4,22.5 48.7,21.5 41.0,17.3 34.0,12.7 31.7,10.8 25.3,4.5 20.9,1.5 20.3,0.8 20.1,0.0M135.3,0.0 135.4,4.8 136.6,11.5 136.5,16.5 136.1,18.2 135.2,19.6 134.0,20.5 132.8,20.7 131.5,20.5 130.2,19.6 129.0,18.2 127.4,15.8 125.1,11.5 121.1,3.2 120.6,1.8 120.4,0.0M198.8,45.4 194.8,45.8 191.5,45.5 181.8,43.2 169.8,41.1 165.5,40.0 161.2,38.5 158.8,37.3 156.2,35.8 153.8,33.9 151.4,31.8 149.7,29.8 148.6,28.0 147.9,26.2 147.7,24.5 147.9,22.8 148.4,21.2 149.2,20.0 150.2,18.9 152.5,17.7 159.8,15.2 179.0,12.9 187.0,12.2 192.8,12.2 198.8,13.1M0.0,29.0 3.0,29.0 12.5,28.4 14.8,28.9 19.0,30.5 27.5,34.6 37.8,40.5 47.6,47.0 49.2,48.6 49.8,50.0 49.5,50.8 48.5,51.5 39.2,55.1 37.5,56.2 36.5,57.3 36.1,58.5 36.3,59.8 39.4,66.5 40.2,69.2 40.3,71.2 39.9,73.2 38.8,75.2 37.0,77.5 35.0,79.3 29.5,82.9 26.2,84.5 23.5,85.5 20.8,86.1 17.8,86.5 7.8,86.8 6.0,87.3 2.5,89.4 0.0,89.4M198.8,63.8 194.2,63.6 185.0,62.1 176.2,61.2 173.2,60.6 171.2,59.9 169.5,58.7 168.3,57.2 167.9,55.8 168.2,54.5 169.0,53.8 170.5,53.2 172.8,52.8 189.2,51.9 198.8,52.4M133.4,99.0 132.3,95.5 132.6,92.8 136.5,84.5 139.3,81.0 139.6,80.2 139.4,79.2 137.5,76.9 136.7,75.5 136.3,73.8 136.4,72.0 137.0,70.6 138.0,69.4 139.5,68.5 141.0,68.0 142.5,67.9 144.2,68.2 145.8,68.8 147.2,69.8 148.8,71.8 150.0,75.7 151.0,76.6 158.8,77.3 166.0,78.8 171.8,80.7 186.5,86.2 189.7,87.2 191.8,87.6 198.8,87.9M65.3,99.0 65.7,97.5 66.5,96.5 67.8,95.8 69.5,95.5 71.8,95.8 73.7,96.5 74.8,97.5 75.3,99.0M50.4,0.0 49.2,4.0 49.1,6.8 50.0,9.8 52.5,13.8 52.6,14.2 52.2,14.5 50.0,14.3 47.3,13.2 43.5,11.1 39.5,8.6 36.5,6.3 33.3,3.2 31.6,1.2 31.2,0.0M198.8,38.6 194.8,39.1 192.8,39.0 183.0,36.8 172.2,35.0 167.2,33.7 163.0,32.1 159.8,30.2 156.5,27.5 155.6,26.2 155.3,25.2 155.6,24.2 156.8,23.4 160.8,21.9 163.0,21.4 180.5,19.3 188.2,18.7 192.8,18.8 198.8,20.0M0.0,35.6 3.5,35.5 10.8,35.0 12.5,35.2 14.5,35.7 21.2,38.8 30.5,43.7 34.7,46.5 35.6,47.5 35.8,48.2 35.4,49.2 32.5,51.6 30.9,53.2 29.9,55.0 29.4,56.8 29.3,59.0 29.7,61.2 32.7,67.2 33.4,69.8 33.0,71.8 31.2,73.9 28.8,75.7 25.5,77.6 22.8,78.8 20.0,79.6 16.2,80.1 7.8,80.2 3.8,80.6 0.0,80.3M73.5,48.8 72.5,48.8 71.8,47.9 70.9,43.8 69.4,39.8 69.4,39.2 69.8,38.9 72.0,39.0 76.8,40.2 79.6,41.2 81.0,42.2 80.7,43.0 77.5,45.1 73.5,48.8M124.2,58.0 122.8,58.1 115.5,56.4 109.0,55.7 97.0,53.7 94.5,53.1 93.0,52.0 90.5,47.8 87.3,44.0 87.3,43.2 92.0,40.9 94.0,40.7 95.8,41.3 99.5,43.6 101.5,44.3 118.0,46.7 124.8,48.2 125.6,48.8 126.2,49.5 126.5,51.8 125.7,56.2 125.1,57.5 124.2,58.0M141.2,99.0 140.9,97.2 140.0,94.5 139.9,93.2 140.5,91.5 142.5,87.8 144.0,86.2 147.0,84.3 148.5,83.9 152.5,83.5 154.8,83.5 157.5,83.7 164.8,85.3 174.5,88.6 184.8,92.6 188.2,93.7 190.5,94.0 198.8,94.5M198.8,31.8 194.2,32.3 192.0,32.1 178.3,29.0 176.3,28.2 175.8,27.8 176.8,27.0 178.8,26.5 183.5,25.8 188.5,25.3 191.8,25.4 196.5,26.5 198.8,26.7M0.0,42.2 9.5,41.7 11.8,41.9 14.2,42.8 18.0,44.5 22.2,46.8 24.0,48.0 24.5,48.8 24.7,49.8 22.9,55.0 22.6,59.2 23.3,62.8 25.3,68.5 25.0,69.8 23.7,71.0 21.0,72.4 18.5,73.1 14.5,73.5 3.5,73.8 0.0,73.6M147.9,99.0 147.3,94.2 147.4,93.2 147.9,92.2 148.8,91.3 150.0,90.7 151.8,90.3 154.0,90.1 159.5,90.8 166.0,92.6 177.0,96.8 179.4,98.0 180.2,99.0M0.0,48.8 10.0,48.5 13.0,49.4 15.5,51.0 16.1,51.8 16.3,52.8 16.0,58.8 16.6,64.5 16.2,66.0 15.5,66.5 14.2,66.8 3.8,67.1 0.0,67.0M155.0,99.0 155.5,97.8 157.0,97.4 159.7,98.0 160.5,98.5 160.9,99.0M0.0,55.5 7.5,55.5 8.7,56.2 9.1,57.8 8.7,59.2 7.5,60.0 4.5,60.4 0.0,60.3" fill="none" stroke="#9a9a9a" stroke-width="0.42"/>
<path d="M64.2,0.0 63.7,5.5 64.4,6.8 67.8,10.0 69.3,12.8 69.8,14.5 70.0,16.5 69.7,23.5 70.1,24.5 71.2,25.4 76.5,27.6 84.2,29.5 86.0,29.5 90.8,28.1 93.0,28.0 95.2,28.3 99.0,29.4 104.2,32.2 105.8,32.7 120.2,34.8 123.0,34.8 126.5,33.2 128.8,32.6 131.2,32.6 133.8,33.4 135.2,34.3 136.5,35.5 137.5,37.0 138.0,38.8 138.1,42.8 138.6,46.5 138.7,49.2 137.6,60.2 137.8,61.3 138.2,62.0 139.2,62.4 144.5,62.6 148.2,63.9 151.2,66.0 152.8,67.7 154.6,70.2 156.0,71.2 163.8,72.6 169.2,74.1 190.5,81.8 192.8,82.2 198.8,82.4M198.8,69.2 193.8,69.0 184.0,67.4 173.2,66.3 169.2,65.1 166.0,63.0 164.2,61.2 163.0,59.3 162.3,57.2 162.1,55.0 162.3,53.2 163.0,51.6 164.2,50.0 166.7,47.8 166.8,47.2 166.6,46.8 164.9,45.8 159.0,43.5 155.9,42.0 152.4,39.8 149.0,37.0 145.9,33.8 143.9,31.0 142.8,28.5 141.8,24.0 141.2,23.1 140.2,23.3 136.2,25.7 133.5,26.4 131.8,26.4 130.0,26.0 128.5,25.3 127.1,24.2 125.5,22.6 123.9,20.5 120.4,14.2 115.5,4.2 114.9,2.2 114.8,0.0M141.0,0.0 140.9,4.2 141.8,9.5 142.2,15.0 142.6,16.5 143.2,17.0 144.0,16.7 147.2,14.2 149.2,13.1 156.8,10.3 158.8,9.8 178.2,7.5 185.8,6.8 192.8,6.8 198.8,7.5M0.0,23.5 3.5,23.5 12.2,22.8 14.0,23.0 15.8,23.4 22.2,25.9 30.0,29.8 37.2,33.8 49.5,41.3 51.2,41.7 51.8,41.4 52.1,40.8 52.4,38.8 52.4,35.5 52.2,34.0 51.6,33.0 47.0,29.9 45.9,28.5 44.3,26.0 43.3,25.0 36.2,20.8 30.6,17.0 28.2,15.0 22.7,9.5 20.7,8.0 17.2,6.0 14.8,4.3 13.8,4.0 12.8,4.5 10.0,7.0 8.2,7.8 6.0,8.2 0.0,8.3M127.0,99.0 126.7,95.0 127.1,92.0 128.0,89.5 131.0,83.2 132.0,80.2 131.9,79.0 131.1,76.2 130.5,73.0 129.7,71.8 128.5,71.4 123.2,70.8 113.2,68.2 106.8,67.5 83.2,63.6 82.5,63.9 81.9,64.5 79.0,71.7 77.5,74.2 75.9,76.2 74.3,77.8 72.8,78.7 71.0,79.1 69.0,79.0 67.5,78.4 66.2,77.5 65.2,76.2 64.5,74.8 63.9,71.8 63.2,63.2 62.6,61.2 61.8,60.4 58.2,58.5 55.2,56.2 54.0,55.8 52.8,56.0 46.2,58.2 44.5,59.2 43.7,60.0 43.5,60.8 43.6,61.8 45.2,66.8 45.8,69.2 45.9,71.5 45.6,73.5 44.5,76.4 42.8,79.1 40.5,81.8 37.5,84.3 31.8,87.9 28.2,89.6 25.5,90.6 22.2,91.4 19.2,91.8 9.5,92.2 7.9,92.8 5.2,94.7 3.8,95.4 2.2,95.8 0.0,95.9M59.8,99.0 59.9,97.0 60.4,95.2 61.2,93.8 62.4,92.5 63.8,91.4 65.5,90.6 67.2,90.2 69.5,90.0 72.0,90.2 74.2,90.7 76.2,91.5 77.8,92.4 79.2,93.9 80.2,95.5 80.9,97.2 81.1,99.0M69.7,0.0 69.8,2.2 70.1,3.8 73.2,8.2 74.7,11.2 75.4,14.2 75.7,20.0 76.2,21.1 77.2,21.9 80.2,22.9 84.0,23.7 85.5,23.6 90.2,22.6 95.5,22.7 100.2,24.0 106.2,26.9 108.0,27.5 117.8,28.8 119.5,28.9 120.8,28.7 121.5,28.0 121.3,26.8 116.5,18.8 110.3,6.2 109.5,3.2 109.3,0.0M146.5,0.0 146.5,3.5 146.9,5.2 147.6,6.5 148.8,6.9 150.8,6.6 155.2,5.0 157.8,4.4 165.8,3.5 185.5,0.8 192.5,0.8 198.8,1.6M0.0,17.9 12.5,17.2 15.8,17.6 21.2,19.0 22.3,19.0 22.7,18.5 21.7,16.8 19.0,13.8 17.2,12.4 15.2,11.6 13.5,11.7 10.5,13.1 8.2,13.7 0.0,13.9M157.1,62.2 157.2,61.2 156.6,56.0 157.0,50.5 156.7,49.2 155.7,48.2 151.4,45.8 146.8,42.7 145.5,42.1 144.8,42.2 144.4,42.8 144.2,44.0 144.2,49.0 144.0,54.2 144.4,56.0 145.5,56.9 151.2,59.2 156.2,62.2 157.1,62.2M54.3,99.0 54.7,94.8 56.2,91.2 58.8,88.3 63.4,85.0 64.0,84.0 63.6,83.0 60.6,79.5 59.3,76.8 58.6,73.8 57.9,67.0 57.5,65.2 56.8,64.3 55.5,63.4 54.0,62.7 52.8,62.5 51.3,63.0 50.7,64.0 51.4,69.2 51.4,71.8 51.0,74.5 50.2,77.2 48.9,79.8 47.2,82.3 45.2,84.8 42.9,87.0 40.2,89.1 36.5,91.5 29.0,95.2 24.8,96.6 20.8,97.4 12.0,98.0 11.0,98.5 10.7,99.0M121.3,99.0 121.1,94.5 121.7,90.8 122.5,88.2 125.2,82.6 125.9,80.8 125.8,78.8 124.8,77.2 123.2,76.5 113.0,73.7 106.2,73.0 88.0,70.2 86.5,70.4 85.5,71.2 81.8,77.8 80.0,80.0 76.8,83.2 76.3,84.2 76.8,85.2 81.8,88.6 84.2,91.2 85.2,93.0 86.0,95.0 86.5,97.0 86.7,99.0M75.4,0.0 75.9,2.0 78.4,6.0 79.6,8.5 80.5,11.5 81.2,15.9 81.6,16.8 82.2,17.4 83.2,17.8 84.5,17.9 90.2,17.1 96.2,17.3 101.2,18.5 108.0,21.3 109.8,21.5 110.2,21.2 110.5,20.8 110.4,19.5 104.8,7.2 104.0,3.8 103.8,0.0M115.7,99.0 115.6,94.8 115.9,91.5 116.8,88.0 118.6,83.0 118.5,82.0 117.9,81.2 115.8,80.2 111.8,79.1 105.8,78.5 91.0,76.3 89.5,76.7 88.5,77.6 86.0,81.5 85.5,83.2 85.9,84.5 88.8,88.2 90.6,91.5 91.8,95.2 92.2,99.0M48.8,99.0 48.9,95.8 49.4,91.2 49.3,90.5 49.0,90.2 47.2,91.0 37.9,97.2 36.7,98.2 36.3,99.0M81.8,0.0 82.1,1.2 84.3,5.5 85.9,9.8 86.8,11.0 88.5,11.5 97.2,11.7 99.0,11.4 99.4,11.0 99.6,10.2 98.5,4.2 98.3,0.0M110.2,99.0 110.1,93.5 111.1,86.8 111.0,85.9 110.7,85.2 110.0,84.8 108.8,84.4 98.0,82.8 94.5,82.7 93.5,83.2 93.4,84.2 95.7,89.5 96.7,92.2 97.5,95.5 97.7,99.0M88.3,0.0 88.7,1.5 89.8,3.5 90.5,4.5 91.2,4.8 92.0,4.6 92.3,4.0 92.6,0.0" fill="none" stroke="#9a9a9a" stroke-width="0.42" stroke-dasharray="1.4 1"/>
<path d="M7.9,24.9 L18.0,29.0 L28.0,35.5 L36.0,40.5 L44.0,45.5 L51.0,50.0 L57.0,52.0" fill="none" stroke="#dcb070" stroke-width="3.6" stroke-linecap="round" stroke-linejoin="round" /><path d="M82.9,38.1 L100.0,48.5 L118.0,60.0" fill="none" stroke="#dcb070" stroke-width="5.5" stroke-linecap="round" stroke-linejoin="round" /><path d="M0.0,23.3 L20.0,24.0 L37.5,25.5" fill="none" stroke="#f070b0" stroke-width="1.8" stroke-linecap="round" stroke-linejoin="round" /><path d="M37.5,25.5 L49.8,27.5 L64.8,31.3 L79.8,35.0 L90.3,36.5" fill="none" stroke="#d4145a" stroke-width="1.9" stroke-linecap="round" stroke-linejoin="round" /><path d="M90.3,36.5 L110.0,38.8 L124.9,41.0" fill="none" stroke="#f070b0" stroke-width="1.8" stroke-linecap="round" stroke-linejoin="round" /><path d="M124.9,41.0 L137.0,43.5 L149.8,47.0 L160.0,49.5" fill="none" stroke="#d4145a" stroke-width="1.9" stroke-linecap="round" stroke-linejoin="round" /><path d="M160.0,49.5 L180.0,50.3 L200.0,50.8" fill="none" stroke="#f070b0" stroke-width="1.7" stroke-linecap="round" stroke-linejoin="round" /><path d="M57.3,50.8 L68.0,53.8 L79.8,56.8" fill="none" stroke="#d4145a" stroke-width="1.9" stroke-linecap="round" stroke-linejoin="round" /><path d="M79.8,56.8 L100.0,60.0 L118.9,62.8" fill="none" stroke="#f070b0" stroke-width="1.8" stroke-linecap="round" stroke-linejoin="round" /><path d="M118.9,62.8 L137.5,69.5 L157.0,73.3" fill="none" stroke="#d4145a" stroke-width="1.9" stroke-linecap="round" stroke-linejoin="round" /><path d="M157.0,73.3 L180.0,74.8 L200.0,75.5" fill="none" stroke="#f070b0" stroke-width="1.7" stroke-linecap="round" stroke-linejoin="round" /><path d="M72.3,38.0 L73.8,47.0 L75.3,55.0 L79.8,57.5" fill="none" stroke="#6a2bbf" stroke-width="1.4" stroke-linecap="round" stroke-linejoin="round" /><path d="M127.9,43.3 L131.6,47.0 L131.6,55.3 L129.4,57.5" fill="none" stroke="#6a2bbf" stroke-width="1.4" stroke-linecap="round" stroke-linejoin="round" /><path d="M61.6,16.5 L60.5,22.0 L62.0,27.0 L68.0,32.0 L73.6,36.0" fill="none" stroke="#000" stroke-width="1.8" stroke-linecap="round" stroke-linejoin="round" /><path d="M87.8,38.5 C87.9,39.8 87.8,43.6 88.5,46.0 C89.2,48.4 90.8,51.1 92.0,53.0 C93.2,54.9 95.3,56.8 96.0,57.5" fill="none" stroke="#000" stroke-width="1.8"/><path d="M106.5,39.0 C107.2,39.7 109.8,41.3 111.0,43.0 C112.2,44.7 113.0,47.2 113.5,49.0 C114.0,50.8 113.9,53.2 114.0,54.0" fill="none" stroke="#000" stroke-width="1.8"/><path d="M130.0,59.0 L133.0,66.0 L137.0,72.0 L140.5,80.0" fill="none" stroke="#000" stroke-width="1.8" stroke-linecap="round" stroke-linejoin="round" /><path d="M21.0,21.5 L30.9,18.6 L30.0,20.9 L36.8,21.2 L36.8,22.8 L21.0,21.8Z" fill="#000" /><path d="M46.5,41.0 L39.6,33.8 L39.2,36.3 L33.4,33.2 L32.6,34.8 L46.4,41.2Z" fill="#000" /><path d="M28.5,41.0 L36.4,47.9 L36.6,45.4 L43.2,48.3 L43.8,46.7 L28.6,40.8Z" fill="#000" /><path d="M97.8,34.0 L107.6,32.1 L106.5,34.3 L113.0,35.2 L112.8,36.8 L97.8,34.3Z" fill="#000" /><path d="M108.4,64.8 L98.6,66.5 L99.7,64.3 L93.2,63.3 L93.4,61.7 L108.4,64.5Z" fill="#000" /><path d="M100.0,35.0 L108.5,32.1 L107.6,34.4 L113.5,34.7 L113.5,36.3 L100.0,35.3Z" fill="#000" /><path d="M175.0,47.0 L184.4,44.1 L183.5,46.4 L190.0,46.7 L190.0,48.3 L175.0,47.3Z" fill="#000" /><path d="M179.6,71.5 L188.0,68.6 L187.1,70.9 L193.0,71.2 L193.0,72.8 L179.6,71.8Z" fill="#000" /><path d="M196.0,79.0 L185.9,81.9 L186.8,79.6 L179.6,79.3 L179.6,77.7 L196.0,78.7Z" fill="#000" /><path d="M173.6,54.5 L183.4,50.7 L182.7,53.1 L189.9,52.7 L190.1,54.3 L173.6,54.8Z" fill="#000" /><path d="M107.5,66.3 L102.5,69.0 L103.6,66.7 L99.9,66.3 L100.1,64.7 L107.5,66.0Z" fill="#000" />
</g>
<rect x="161.0" y="0" width="38.2" height="13.8" fill="#fff" stroke="#000" stroke-width="1.1"/>
<text x="179.50" y="10.6" font-size="10.4" text-anchor="middle" fill="#000" stroke="#000" stroke-width="0.18">8.2 Myr</text>
<rect x="0" y="0" width="199.2" height="99.4" fill="none" stroke="#000" stroke-width="1.25"/>
<line x1="0.00" y1="99.4" x2="0.00" y2="104.0" stroke="#000" stroke-width="1.1"/>
<line x1="-5" y1="0.00" x2="0" y2="0.00" stroke="#000" stroke-width="1.1"/>
<line x1="66.40" y1="99.4" x2="66.40" y2="104.0" stroke="#000" stroke-width="1.1"/>
<line x1="-5" y1="33.13" x2="0" y2="33.13" stroke="#000" stroke-width="1.1"/>
<line x1="132.80" y1="99.4" x2="132.80" y2="104.0" stroke="#000" stroke-width="1.1"/>
<line x1="-5" y1="66.27" x2="0" y2="66.27" stroke="#000" stroke-width="1.1"/>
<line x1="199.20" y1="99.4" x2="199.20" y2="104.0" stroke="#000" stroke-width="1.1"/>
<line x1="-5" y1="99.40" x2="0" y2="99.40" stroke="#000" stroke-width="1.1"/>
<text x="0.00" y="113.60000000000001" font-size="10.4" text-anchor="middle" fill="#000" stroke="#000" stroke-width="0.18">600</text>
<text x="66.40" y="113.60000000000001" font-size="10.4" text-anchor="middle" fill="#000" stroke="#000" stroke-width="0.18">400</text>
<text x="132.80" y="113.60000000000001" font-size="10.4" text-anchor="middle" fill="#000" stroke="#000" stroke-width="0.18">200</text>
<text x="199.20" y="113.60000000000001" font-size="10.4" text-anchor="middle" fill="#000" stroke="#000" stroke-width="0.18">0</text>
<text x="-6.5" y="3.30" font-size="10.3" text-anchor="end" fill="#000" stroke="#000" stroke-width="0.18">300</text>
<text x="-6.5" y="36.43" font-size="10.3" text-anchor="end" fill="#000" stroke="#000" stroke-width="0.18">200</text>
<text x="-6.5" y="69.57" font-size="10.3" text-anchor="end" fill="#000" stroke="#000" stroke-width="0.18">100</text>
<text x="-6.5" y="102.70" font-size="10.3" text-anchor="end" fill="#000" stroke="#000" stroke-width="0.18">0</text>
</g>
<g transform="translate(253.4,146.0)">
<g clip-path="url(#pc)">
<rect x="0" y="0" width="199.2" height="99.4" fill="#e0ffd8"/>
<path d="M9.0,-2.0 C16.5,-3.3 46.2,-3.3 54.0,-2.0 C61.8,-0.7 56.0,3.7 56.0,6.0 C56.0,8.3 54.7,9.7 54.0,12.0 C53.3,14.3 53.5,17.7 52.0,20.0 C50.5,22.3 47.8,25.0 45.0,26.0 C42.2,27.0 36.8,27.3 35.0,26.0 C33.2,24.7 35.3,20.7 34.5,18.0 C33.7,15.3 32.4,11.8 30.0,10.0 C27.6,8.2 23.5,7.7 20.0,7.0 C16.5,6.3 10.8,7.5 9.0,6.0 C7.2,4.5 1.5,-0.7 9.0,-2.0Z" fill="#aaff88" /><path d="M-2.0,33.0 C0.0,23.2 6.3,32.5 10.0,33.0 C13.7,33.5 17.3,34.5 20.0,36.0 C22.7,37.5 24.3,39.7 26.0,42.0 C27.7,44.3 29.1,47.2 30.0,50.0 C30.9,52.8 29.2,54.8 31.5,59.0 C33.8,63.2 41.2,71.5 43.5,75.5 C45.8,79.5 45.8,80.8 45.0,83.0 C44.2,85.2 42.8,87.5 39.0,89.0 C35.2,90.5 29.3,91.5 22.5,92.0 C15.7,92.5 2.1,101.8 -2.0,92.0 C-6.1,82.2 -4.0,42.8 -2.0,33.0Z" fill="#aaff88" /><path d="M106.0,-2.0 C108.8,-4.0 119.8,-4.6 122.5,-2.0 C125.2,0.6 123.8,10.8 122.5,13.5 C121.2,16.2 117.8,14.6 115.0,14.0 C112.2,13.4 107.5,12.7 106.0,10.0 C104.5,7.3 103.2,0.0 106.0,-2.0Z" fill="#aaff88" /><path d="M138.0,20.0 C140.0,17.8 145.5,20.7 150.0,22.0 C154.5,23.3 160.7,25.0 165.0,28.0 C169.3,31.0 173.5,35.5 176.0,40.0 C178.5,44.5 180.0,51.2 180.0,55.0 C180.0,58.8 178.5,62.2 176.0,63.0 C173.5,63.8 168.5,61.3 165.0,60.0 C161.5,58.7 158.3,57.0 155.0,55.0 C151.7,53.0 147.8,51.3 145.0,48.0 C142.2,44.7 139.2,39.7 138.0,35.0 C136.8,30.3 136.0,22.2 138.0,20.0Z" fill="#aaff88" /><path d="M148.0,75.5 C151.3,73.2 159.7,75.4 165.0,76.0 C170.3,76.6 173.8,78.3 180.0,79.0 C186.2,79.7 198.3,76.2 202.0,80.0 C205.7,83.8 210.7,98.3 202.0,102.0 C193.3,105.7 159.5,104.0 150.0,102.0 C140.5,100.0 145.3,94.4 145.0,90.0 C144.7,85.6 144.7,77.8 148.0,75.5Z" fill="#aaff88" /><path d="M76.6,59.0 C77.8,56.0 82.3,56.5 85.0,57.0 C87.7,57.5 91.7,59.0 93.0,62.0 C94.3,65.0 93.5,70.8 93.0,75.0 C92.5,79.2 91.7,85.5 90.0,87.5 C88.3,89.5 85.0,89.1 83.0,87.0 C81.0,84.9 79.1,79.7 78.0,75.0 C76.9,70.3 75.4,62.0 76.6,59.0Z" fill="#aaff88" /><path d="M80.0,36.0 C81.8,33.8 88.7,36.0 92.0,37.0 C95.3,38.0 99.2,39.0 100.0,42.0 C100.8,45.0 98.3,51.7 97.0,55.0 C95.7,58.3 94.2,60.7 92.0,62.0 C89.8,63.3 85.8,65.0 84.0,63.0 C82.2,61.0 81.7,54.5 81.0,50.0 C80.3,45.5 78.2,38.2 80.0,36.0Z" fill="#aaff88" /><path d="M50.0,5.0 C49.5,2.7 56.3,-0.8 60.0,-2.0 C63.7,-3.2 70.0,-3.7 72.0,-2.0 C74.0,-0.3 73.5,5.7 72.0,8.0 C70.5,10.3 66.7,12.5 63.0,12.0 C59.3,11.5 50.5,7.3 50.0,5.0Z" fill="#aaff88" /><path d="M185.0,10.0 C187.7,7.2 199.2,2.2 202.0,8.0 C204.8,13.8 204.0,39.7 202.0,45.0 C200.0,50.3 192.7,43.3 190.0,40.0 C187.3,36.7 186.8,30.0 186.0,25.0 C185.2,20.0 182.3,12.8 185.0,10.0Z" fill="#aaff88" /><ellipse cx="0" cy="56" rx="17" ry="18" transform="rotate(0 0 56)" fill="#00ff00" /><ellipse cx="0" cy="56" rx="10" ry="11.5" transform="rotate(0 0 56)" fill="#00cc00" /><ellipse cx="47" cy="20.5" rx="7" ry="7" transform="rotate(0 47 20.5)" fill="#00ff00" /><ellipse cx="48.5" cy="22" rx="3.8" ry="3.8" transform="rotate(0 48.5 22)" fill="#00cc00" /><ellipse cx="84" cy="67" rx="4.5" ry="8" transform="rotate(10 84 67)" fill="#00ff00" /><ellipse cx="84" cy="67" rx="2.5" ry="5" transform="rotate(10 84 67)" fill="#00cc00" /><path d="M143.0,25.0 C144.3,23.0 150.5,25.5 155.0,28.0 C159.5,30.5 166.5,35.5 170.0,40.0 C173.5,44.5 176.0,52.0 176.0,55.0 C176.0,58.0 173.0,58.8 170.0,58.0 C167.0,57.2 161.8,53.0 158.0,50.0 C154.2,47.0 149.5,44.2 147.0,40.0 C144.5,35.8 141.7,27.0 143.0,25.0Z" fill="#00ff00" /><ellipse cx="160" cy="42" rx="6" ry="4" transform="rotate(45 160 42)" fill="#00cc00" /><ellipse cx="151" cy="78" rx="4" ry="4" transform="rotate(0 151 78)" fill="#00ff00" /><ellipse cx="88" cy="48" rx="5" ry="8" transform="rotate(10 88 48)" fill="#00ff00" /><ellipse cx="83" cy="66" rx="5" ry="4" transform="rotate(0 83 66)" fill="#00ff00" /><path d="M-2.0,13.0 C0.0,10.7 6.3,13.3 10.0,14.0 C13.7,14.7 17.0,15.5 20.0,17.0 C23.0,18.5 25.7,20.7 28.0,23.0 C30.3,25.3 32.0,27.8 34.0,31.0 C36.0,34.2 38.0,38.5 40.0,42.0 C42.0,45.5 45.0,48.7 46.0,52.0 C47.0,55.3 46.8,59.8 46.0,62.0 C45.2,64.2 42.8,65.3 41.0,65.0 C39.2,64.7 37.2,62.5 35.0,60.0 C32.8,57.5 30.2,53.2 28.0,50.0 C25.8,46.8 24.0,43.8 22.0,41.0 C20.0,38.2 18.3,35.0 16.0,33.0 C13.7,31.0 11.0,29.8 8.0,29.0 C5.0,28.2 -0.3,30.7 -2.0,28.0 C-3.7,25.3 -4.0,15.3 -2.0,13.0Z" fill="#aaffff" /><path d="M-2.0,16.5 C0.3,15.2 8.0,16.5 12.0,17.0 C16.0,17.5 20.0,18.5 22.0,19.5 C24.0,20.5 25.3,22.2 24.0,23.0 C22.7,23.8 18.3,24.2 14.0,24.5 C9.7,24.8 0.7,25.8 -2.0,24.5 C-4.7,23.2 -4.3,17.8 -2.0,16.5Z" fill="#44ffff" /><path d="M60.0,-2.0 C63.0,-3.3 75.0,-3.7 79.0,-2.0 C83.0,-0.3 83.2,4.8 84.0,8.0 C84.8,11.2 84.9,15.1 83.6,17.0 C82.3,18.9 78.9,20.2 76.0,19.5 C73.1,18.8 68.5,15.2 66.0,13.0 C63.5,10.8 62.0,8.5 61.0,6.0 C60.0,3.5 57.0,-0.7 60.0,-2.0Z" fill="#aaffff" /><ellipse cx="102.6" cy="21.5" rx="8.8" ry="4.5" transform="rotate(12 102.6 21.5)" fill="#aaffff" /><ellipse cx="70.5" cy="46" rx="8" ry="6.5" transform="rotate(20 70.5 46)" fill="#aaffff" /><ellipse cx="70" cy="46" rx="5.5" ry="4.5" transform="rotate(20 70 46)" fill="#44ffff" /><path d="M126.0,40.0 C128.0,37.8 135.2,36.8 140.0,37.0 C144.8,37.2 151.7,38.5 155.0,41.0 C158.3,43.5 159.5,48.5 160.0,52.0 C160.5,55.5 160.0,59.9 158.0,62.0 C156.0,64.1 151.8,64.8 148.0,64.5 C144.2,64.2 138.3,62.4 135.0,60.0 C131.7,57.6 129.5,53.3 128.0,50.0 C126.5,46.7 124.0,42.2 126.0,40.0Z" fill="#aaffff" /><ellipse cx="141" cy="51.5" rx="7.5" ry="5.5" transform="rotate(30 141 51.5)" fill="#44ffff" /><ellipse cx="62" cy="84" rx="8" ry="17" transform="rotate(0 62 84)" fill="#aaffff" /><ellipse cx="65" cy="76" rx="3.5" ry="5" transform="rotate(0 65 76)" fill="#44ffff" /><path d="M118.0,76.0 C119.8,74.0 124.3,73.3 128.0,73.0 C131.7,72.7 137.0,72.5 140.0,74.0 C143.0,75.5 145.3,78.5 146.0,82.0 C146.7,85.5 146.0,92.5 144.0,95.0 C142.0,97.5 137.7,97.2 134.0,97.0 C130.3,96.8 124.8,96.0 122.0,94.0 C119.2,92.0 117.7,88.0 117.0,85.0 C116.3,82.0 116.2,78.0 118.0,76.0Z" fill="#aaffff" /><ellipse cx="131.5" cy="84.5" rx="2.5" ry="2.3" transform="rotate(0 131.5 84.5)" fill="#44ffff" /><path d="M173.0,72.5 C174.7,71.2 180.2,70.6 185.0,70.5 C189.8,70.4 199.2,70.3 202.0,72.0 C204.8,73.7 204.7,79.1 202.0,80.5 C199.3,81.9 190.5,80.9 186.0,80.5 C181.5,80.1 177.2,79.3 175.0,78.0 C172.8,76.7 171.3,73.8 173.0,72.5Z" fill="#aaffff" /><ellipse cx="197" cy="77.3" rx="6" ry="2.3" transform="rotate(0 197 77.3)" fill="#44ffff" /><ellipse cx="47" cy="43" rx="15" ry="7" transform="rotate(42 47 43)" fill="#00ff00" /><ellipse cx="47" cy="43.5" rx="12" ry="5" transform="rotate(42 47 43.5)" fill="#55aa00" /><ellipse cx="49" cy="45.5" rx="2.3" ry="1.6" transform="rotate(0 49 45.5)" fill="#ffaa00" /><ellipse cx="106.6" cy="51" rx="10" ry="11.5" transform="rotate(35 106.6 51)" fill="#ffaa00" /><ellipse cx="106.6" cy="51.5" rx="7" ry="8.5" transform="rotate(35 106.6 51.5)" fill="#bb7700" /><ellipse cx="107.5" cy="56" rx="3.6" ry="1.8" transform="rotate(10 107.5 56)" fill="#994400" /><ellipse cx="105" cy="46" rx="2.5" ry="1.2" transform="rotate(10 105 46)" fill="#994400" />
<path d="M58.9,0.0 59.4,2.5 62.3,9.2 62.3,10.5 61.8,10.9 60.8,11.0 56.2,10.0 55.5,10.2 54.8,10.7 53.9,12.2 53.4,14.8 53.3,16.8 53.7,20.5 53.0,23.2 52.0,24.8 50.5,26.1 48.8,26.9 46.8,27.2 42.8,26.7 37.8,26.6 36.2,26.1 35.2,25.5 34.7,24.8 34.4,23.8 34.4,18.8 33.6,15.8 31.8,12.2 30.5,10.8 29.2,9.7 26.2,8.3 21.5,7.2 18.0,6.7 11.8,6.5 9.8,6.1 8.0,5.0 6.6,3.5 5.7,1.8 5.3,0.0M123.7,0.0 123.8,6.2 122.9,11.5 122.2,12.9 121.5,13.8 120.5,14.4 119.0,14.7 116.8,14.3 110.5,12.8 108.5,12.0 106.9,10.8 105.6,9.0 104.8,6.5 104.4,3.5 104.4,0.0M198.8,46.3 196.5,45.7 193.5,43.5 190.3,40.2 188.6,37.5 187.0,32.2 185.7,24.2 184.2,17.0 183.9,14.0 184.1,12.0 184.8,10.5 186.0,9.1 187.8,7.9 190.5,6.6 193.2,5.7 195.8,5.3 198.8,5.3M174.8,62.8 172.5,62.6 169.2,61.6 163.2,59.1 161.0,57.8 160.2,56.2 159.7,51.0 158.6,46.5 156.9,43.2 154.8,40.9 152.8,39.7 150.0,38.7 146.2,37.7 140.4,36.8 139.5,36.4 138.6,35.8 137.9,34.5 137.5,32.8 136.7,26.2 137.0,22.5 137.5,21.2 138.2,20.2 140.0,19.4 142.8,19.6 154.5,23.3 160.0,25.3 163.3,27.0 166.3,29.0 168.9,31.2 172.2,34.8 175.1,38.8 177.2,42.8 178.9,48.0 179.7,53.2 179.7,56.8 178.6,60.0 177.0,61.9 176.0,62.5 174.8,62.8M0.0,29.1 2.2,29.2 3.8,29.6 9.0,32.4 16.2,34.5 17.5,35.2 18.5,36.1 29.1,51.8 29.8,53.5 30.8,57.5 32.2,60.2 41.1,72.0 43.2,75.2 44.7,78.2 45.1,80.5 44.6,83.2 42.9,86.0 40.5,87.9 37.2,89.4 31.0,90.8 20.2,92.3 10.8,95.2 7.2,96.1 4.0,96.2 0.0,95.5M54.2,54.0 50.8,53.3 46.8,51.4 42.8,48.5 39.1,44.8 36.5,41.0 35.2,37.5 35.0,36.0 35.2,34.5 35.7,33.5 36.5,32.6 38.0,31.9 40.0,31.7 42.2,32.1 44.8,33.1 47.2,34.5 50.0,36.4 52.5,38.7 54.7,41.0 56.5,43.5 57.7,45.8 58.5,48.0 58.7,50.0 58.3,51.8 57.5,52.9 56.0,53.8 54.2,54.0M87.8,88.3 85.8,88.3 84.0,87.5 82.4,86.0 80.8,83.5 79.5,80.2 78.1,75.8 77.0,70.5 76.3,65.5 76.2,61.5 76.7,59.2 77.8,57.7 80.6,56.0 81.3,54.5 81.0,51.0 79.4,41.5 79.4,38.0 79.8,37.0 80.5,36.0 81.5,35.4 82.8,35.1 84.8,35.2 87.2,35.6 94.2,37.6 97.0,38.9 99.8,41.1 100.8,41.6 101.8,41.5 104.8,40.5 106.8,40.0 109.0,40.0 111.0,40.5 113.2,41.8 115.0,43.5 116.2,45.8 116.8,48.2 116.6,52.0 115.2,55.4 113.0,58.4 110.0,60.6 106.8,61.6 105.0,61.8 103.2,61.6 100.8,60.7 97.5,58.3 96.5,58.0 95.5,58.4 94.2,59.8 93.5,61.0 93.3,62.0 93.6,66.5 93.4,69.5 92.6,77.2 91.6,82.8 90.9,85.0 90.2,86.5 89.0,87.7 87.8,88.3M144.2,99.0 144.2,95.2 145.5,90.5 146.0,87.0 146.1,84.2 145.7,80.5 145.8,79.0 146.4,77.5 147.4,76.0 148.5,74.9 149.8,74.3 152.5,74.2 166.5,76.1 173.5,77.7 179.2,79.3 182.8,80.0 191.2,80.8 198.8,81.1M52.2,0.0 51.8,2.8 49.2,6.2 47.8,9.5 46.9,13.2 46.2,18.8 45.5,19.5 44.2,19.8 42.5,19.5 41.5,18.6 40.0,14.0 38.6,10.8 37.1,8.2 35.0,5.8 33.5,4.5 31.8,3.5 25.3,0.8 24.4,0.0M117.0,0.0 117.2,3.5 117.1,5.2 116.4,6.5 115.0,6.9 113.0,6.5 111.6,5.2 111.0,3.2 111.0,0.0M198.8,38.5 197.5,38.1 196.2,37.0 195.0,35.5 194.2,33.8 193.3,30.2 190.8,15.8 191.3,14.0 192.8,12.9 195.5,12.0 198.8,11.8M172.0,54.8 171.0,54.9 169.2,54.4 167.9,53.8 167.0,52.8 166.5,51.4 165.3,46.0 164.1,42.5 162.4,39.2 160.0,36.4 157.5,34.4 154.0,32.6 151.0,31.6 145.3,30.2 144.4,29.2 144.6,28.2 145.5,27.9 147.0,28.2 157.3,31.8 161.5,34.0 165.2,37.1 168.8,41.2 170.2,43.5 171.3,45.8 172.3,49.0 172.9,52.0 172.8,53.9 172.0,54.8M0.0,35.8 2.0,36.2 7.2,38.8 12.5,40.2 14.5,41.8 22.8,54.1 23.5,55.8 24.7,60.0 26.4,63.2 28.8,66.8 36.4,76.8 37.5,78.8 37.9,80.2 37.5,81.5 36.5,82.4 34.8,83.2 32.2,83.9 19.0,85.8 9.2,88.8 6.5,89.5 4.5,89.5 0.0,88.6M89.5,53.3 88.8,53.1 88.1,52.0 87.0,46.5 87.0,44.0 87.5,43.4 88.2,43.1 90.8,43.5 93.0,44.5 94.5,46.2 95.2,48.0 94.8,49.0 92.4,50.8 89.5,53.3M106.2,54.8 104.8,54.8 103.3,54.0 101.9,51.8 101.5,50.2 102.4,49.2 105.5,47.4 107.0,46.9 108.2,47.0 109.2,47.5 109.8,48.2 110.1,49.5 110.0,50.8 109.5,52.0 108.7,53.2 107.5,54.2 106.2,54.8M85.5,72.7 85.0,72.6 84.2,71.2 83.5,68.4 83.1,66.0 83.4,64.0 84.0,63.3 84.8,63.1 85.5,63.2 86.1,63.8 86.5,64.8 86.8,66.2 86.4,70.2 86.0,71.9 85.5,72.7M151.0,99.0 151.0,96.0 152.3,89.8 152.8,83.2 153.2,82.0 154.2,81.4 157.2,81.4 166.2,82.8 172.0,84.1 177.5,85.7 181.8,86.5 192.8,87.5 198.8,87.6M44.6,0.0 44.3,1.0 43.8,1.9 43.0,2.5 42.2,2.7 41.5,2.5 40.6,1.8 40.0,0.9 39.7,0.0M0.0,43.2 1.2,43.5 4.8,45.0 8.5,46.2 9.5,46.8 10.5,47.8 16.4,56.5 18.5,62.2 19.8,65.0 21.9,68.5 26.4,74.8 27.0,76.0 27.1,76.8 26.7,77.5 25.5,78.1 17.0,79.5 7.0,82.5 5.2,82.6 0.0,81.9M157.7,99.0 157.8,96.0 159.0,90.8 159.8,89.4 161.0,88.9 162.8,88.9 166.0,89.5 175.8,92.1 180.8,93.0 192.2,94.1 198.8,94.2M0.0,50.6 1.8,51.0 4.8,52.2 5.9,53.0 7.0,54.2 10.7,60.0 12.5,65.0 14.9,70.0 15.3,71.5 15.0,72.5 14.0,73.2 7.5,75.5 5.2,75.7 0.0,75.3M164.5,99.0 164.7,98.0 165.1,97.2 165.8,96.8 166.5,96.7 168.0,96.9 170.0,97.5 171.4,98.2 172.1,99.0M0.0,58.0 1.0,58.2 1.8,58.8 3.7,61.2 5.1,64.0 5.7,67.0 5.4,68.0 4.5,68.6 0.0,68.6" fill="none" stroke="#9a9a9a" stroke-width="0.42"/>
<path d="M64.7,0.0 65.0,1.5 65.8,3.5 69.4,9.8 69.8,11.8 69.5,13.5 68.5,15.2 66.8,16.5 64.8,17.1 61.0,17.3 59.8,18.0 59.4,19.0 58.9,23.0 58.3,25.0 56.9,27.5 54.5,30.5 54.1,31.5 54.3,32.2 54.9,33.2 58.5,37.1 60.6,39.8 62.1,42.2 63.3,44.8 64.0,47.5 64.2,50.2 63.9,52.8 63.1,54.8 61.4,57.0 59.0,58.6 56.5,59.3 53.0,59.4 49.8,58.7 45.8,57.1 42.8,55.4 37.0,51.4 36.2,51.4 35.8,52.2 36.0,55.0 36.9,57.2 46.3,70.0 48.4,73.2 49.6,75.8 50.4,78.2 50.7,80.8 50.3,83.2 49.4,86.0 48.0,88.4 46.2,90.4 44.0,92.2 41.5,93.6 38.2,94.8 34.5,95.7 22.5,97.7 21.1,98.2 20.3,99.0M129.2,0.0 129.1,8.2 128.4,12.2 127.4,15.2 126.0,17.4 124.0,19.1 122.0,19.9 119.5,20.2 116.2,19.8 108.5,17.9 105.4,16.5 103.0,14.7 101.0,12.1 99.7,8.8 99.0,4.5 98.9,0.0M198.8,51.9 196.2,51.5 193.8,50.4 190.9,48.5 186.0,44.3 185.0,43.7 184.5,43.8 184.3,45.2 185.2,52.5 185.2,56.5 184.5,60.2 183.1,63.2 182.1,64.8 180.8,66.1 179.2,67.2 177.5,68.0 174.2,68.5 170.2,67.9 166.8,66.6 160.2,63.8 157.8,62.6 156.3,61.5 155.2,60.2 154.6,58.8 154.4,57.2 154.5,53.5 154.1,51.0 153.2,48.0 152.0,46.0 150.2,44.7 147.8,43.7 143.8,42.8 138.0,42.0 135.8,41.1 134.5,40.0 133.4,38.2 132.6,36.0 131.9,33.0 131.4,28.2 131.3,24.5 131.6,21.2 132.4,18.8 133.9,16.5 136.0,14.8 138.2,14.0 141.0,13.8 145.0,14.5 155.2,17.8 161.0,19.8 164.8,21.5 168.0,23.5 170.8,25.6 175.5,30.2 179.8,34.9 180.5,35.5 181.0,35.6 181.2,35.2 181.3,34.0 180.9,29.0 178.5,15.2 178.4,12.8 178.7,10.5 179.8,8.0 181.8,5.6 184.2,3.6 188.8,1.0 189.7,0.0M0.0,23.7 3.0,23.7 5.0,24.0 11.0,27.3 16.8,28.8 19.8,30.0 22.2,31.9 27.2,38.3 28.5,39.2 29.0,38.8 29.6,34.0 30.3,31.0 30.4,29.8 28.9,25.2 28.9,20.0 28.7,18.5 28.1,16.8 27.1,15.2 25.0,13.8 21.8,12.8 17.2,12.1 10.5,11.9 7.8,11.2 5.0,9.6 1.0,5.6 0.0,5.0M88.8,93.8 85.5,93.9 82.5,93.0 79.8,91.2 77.4,88.5 75.2,84.2 73.4,79.2 71.9,73.2 71.0,67.2 70.8,61.5 71.2,58.0 72.1,55.8 74.7,52.5 75.2,51.0 75.2,49.2 73.8,40.5 73.8,38.0 74.2,35.8 75.2,33.4 76.9,31.5 79.0,30.3 81.5,29.6 85.2,29.7 90.0,30.7 96.5,32.7 102.0,35.0 109.0,34.6 111.2,34.9 113.5,35.6 116.8,37.5 119.2,40.0 121.2,43.5 122.1,47.0 122.1,51.8 121.3,55.2 119.3,59.2 116.5,62.6 113.2,65.0 109.8,66.6 106.2,67.2 100.8,67.1 99.6,67.8 98.9,69.8 97.2,82.5 95.8,87.8 94.5,90.0 92.9,91.8 91.0,93.0 88.8,93.8M138.6,99.0 138.8,94.2 140.2,89.2 140.6,86.5 140.6,84.5 140.1,80.2 140.5,77.2 141.7,74.5 143.2,72.3 145.2,70.4 147.5,69.2 149.2,68.7 151.2,68.6 159.8,69.6 170.5,71.1 180.0,73.9 183.0,74.5 191.5,75.4 198.8,75.7M70.7,0.0 71.3,2.0 73.8,6.0 74.8,8.1 75.3,10.5 75.3,13.0 75.0,14.8 74.3,16.5 72.2,19.4 70.0,21.2 66.0,22.9 64.9,23.8 62.1,30.0 61.8,31.5 62.3,32.8 64.5,35.6 66.2,37.4 67.0,37.7 67.7,37.2 69.3,32.8 70.2,30.9 71.8,28.8 73.8,26.9 75.8,25.7 78.0,24.7 80.5,24.2 83.2,24.0 87.0,24.4 91.2,25.3 96.5,26.8 102.8,29.0 110.2,29.0 114.2,29.9 116.8,31.0 119.5,32.6 122.1,34.8 125.5,38.2 126.2,38.7 126.5,38.5 126.6,36.0 125.8,28.5 125.4,26.8 124.8,25.9 123.5,25.6 119.2,25.7 116.5,25.6 107.5,23.4 104.8,22.4 102.0,20.9 100.0,19.5 98.0,17.4 95.9,14.2 94.3,10.0 93.5,5.0 93.3,0.0M134.7,0.0 134.9,6.2 135.2,7.4 136.0,8.1 137.0,8.3 142.8,8.4 147.0,9.4 161.9,14.2 165.2,15.6 170.0,18.0 171.5,18.5 172.3,18.2 172.7,17.2 173.0,11.5 173.8,7.5 175.1,5.0 177.9,1.2 178.4,0.0M0.0,18.0 3.3,17.5 3.9,17.2 4.1,16.8 3.6,16.0 1.8,14.5 0.0,13.7M22.1,24.0 22.7,23.5 23.0,22.8 23.1,20.8 22.5,19.3 21.2,18.5 18.2,17.8 15.0,17.6 10.8,17.9 9.5,18.2 9.1,18.5 9.5,19.2 10.5,20.2 13.2,22.0 20.2,24.0 22.1,24.0M133.1,99.0 133.3,93.2 135.0,86.5 134.6,79.5 134.8,77.2 135.4,75.0 137.5,70.8 140.5,67.2 143.2,65.1 147.9,63.0 148.8,62.2 149.1,61.0 148.8,57.8 148.9,53.5 148.2,50.8 147.5,49.9 146.6,49.2 143.8,48.4 137.2,47.6 135.0,47.0 132.5,45.7 128.2,42.6 127.9,42.8 127.8,43.5 127.7,51.0 127.4,54.0 126.2,58.0 124.3,61.8 122.7,64.0 120.8,66.2 118.7,68.0 116.5,69.5 112.4,71.5 109.8,72.3 106.0,73.0 104.7,73.8 103.9,75.5 102.2,85.8 100.7,90.2 98.6,93.8 94.2,98.0 93.6,99.0M198.8,57.5 196.2,57.3 192.8,56.5 191.5,56.9 190.8,58.0 189.5,62.5 187.7,66.8 187.5,68.0 188.1,69.0 189.8,69.6 198.8,70.2M79.9,99.0 79.2,98.0 76.0,95.3 73.7,92.8 72.2,90.5 70.4,87.0 68.7,82.5 67.2,77.5 66.1,72.0 65.0,64.5 64.5,63.5 63.5,63.1 58.2,64.7 52.8,65.3 52.0,65.5 51.5,66.0 51.6,67.5 54.4,73.0 55.8,76.8 56.2,80.0 55.9,83.5 54.7,87.8 52.6,91.5 50.0,94.5 45.8,98.0 45.2,99.0M77.2,0.0 77.5,1.2 79.7,5.5 80.6,8.2 80.9,11.2 80.6,16.2 80.9,17.5 81.5,18.0 82.8,18.4 89.2,18.9 90.5,18.5 90.8,17.5 89.0,11.5 88.3,8.2 87.8,4.0 87.8,0.0M140.4,0.0 140.8,1.5 142.0,2.5 148.2,4.0 163.8,9.0 165.8,9.4 166.8,9.2 167.5,8.5 170.7,1.2 171.0,0.0M127.5,99.0 127.8,92.8 129.4,86.0 129.1,79.0 129.3,76.5 130.0,74.0 131.7,69.8 134.1,66.0 137.5,62.5 141.8,59.4 142.7,58.2 143.1,56.8 143.0,55.2 142.3,54.2 141.2,53.7 135.8,53.1 134.8,53.1 133.9,53.5 133.1,54.8 131.3,60.0 129.6,63.8 127.8,66.5 125.3,69.5 122.2,72.2 119.0,74.5 115.5,76.2 110.8,77.9 109.6,78.8 108.8,80.5 107.6,86.8 106.5,90.5 105.2,93.5 102.7,97.8 102.3,99.0M70.9,99.0 70.4,97.8 67.2,93.0 63.8,86.2 63.0,85.2 62.5,84.9 62.0,85.2 61.5,85.9 58.8,92.0 54.8,97.8 54.4,99.0M157.1,0.0 157.4,0.5 158.6,1.2 160.8,2.1 162.2,2.3 163.0,2.2 163.8,1.7 164.3,1.0 164.5,0.0M122.0,99.0 122.3,92.8 123.8,84.8 123.5,82.5 123.1,80.8 122.5,80.0 121.8,79.8 120.2,80.2 116.0,82.0 115.0,82.6 114.2,83.5 113.6,85.0 112.0,91.5 109.5,97.5 109.2,99.0" fill="none" stroke="#9a9a9a" stroke-width="0.42" stroke-dasharray="1.4 1"/>
<ellipse cx="47" cy="43.5" rx="12.5" ry="5.3" transform="rotate(42 47 43.5)" fill="none" stroke="#dcb070" stroke-width="0.9"/><path d="M82.0,37.2 L95.0,45.0 L103.6,50.4 L115.0,58.0 L129.6,67.3" fill="none" stroke="#dcb070" stroke-width="3.6" stroke-linecap="round" stroke-linejoin="round" /><path d="M119.6,15.0 L140.0,27.0 L160.0,38.0 L176.3,48.6" fill="none" stroke="#dcb070" stroke-width="3.4" stroke-linecap="round" stroke-linejoin="round" /><path d="M161.6,50.7 L176.0,62.0 L191.0,73.8" fill="none" stroke="#dcb070" stroke-width="3.4" stroke-linecap="round" stroke-linejoin="round" /><path d="M-1.0,23.5 L15.0,24.5 L29.6,26.5" fill="none" stroke="#d4145a" stroke-width="1.9" stroke-linecap="round" stroke-linejoin="round" /><path d="M22.0,25.0 L40.0,27.0 L59.6,28.7 L79.6,34.8 L92.8,37.2" fill="none" stroke="#f070b0" stroke-width="1.7" stroke-linecap="round" stroke-linejoin="round" /><path d="M35.6,25.5 L47.0,27.0 L59.6,29.5 L70.0,31.5 L79.6,34.8 L92.8,37.2" fill="none" stroke="#d4145a" stroke-width="1.9" stroke-linecap="round" stroke-linejoin="round" /><path d="M92.8,37.2 L110.0,39.0 L129.6,40.2 L145.0,45.0 L157.4,48.6" fill="none" stroke="#f070b0" stroke-width="1.8" stroke-linecap="round" stroke-linejoin="round" /><path d="M157.4,48.6 L180.0,50.0 L200.0,51.0" fill="none" stroke="#d4145a" stroke-width="2.0" stroke-linecap="round" stroke-linejoin="round" /><path d="M72.0,-1.0 L85.0,3.5 L100.0,7.5 L119.5,15.0" fill="none" stroke="#d4145a" stroke-width="2.0" stroke-linecap="round" stroke-linejoin="round" /><path d="M29.6,31.0 L40.0,37.0 L50.0,44.0 L59.6,50.5 L69.6,55.0 L79.6,58.2 L103.6,61.3" fill="none" stroke="#d4145a" stroke-width="1.8" stroke-linecap="round" stroke-linejoin="round" /><path d="M103.6,61.3 L129.6,65.5" fill="none" stroke="#f070b0" stroke-width="1.7" stroke-linecap="round" stroke-linejoin="round" /><path d="M129.6,65.5 L145.0,69.0 L161.6,71.7" fill="none" stroke="#d4145a" stroke-width="2.0" stroke-linecap="round" stroke-linejoin="round" /><path d="M161.6,71.7 L180.0,74.0 L200.0,76.0" fill="none" stroke="#f070b0" stroke-width="1.8" stroke-linecap="round" stroke-linejoin="round" /><path d="M140.0,-1.0 L160.0,3.0 L175.0,7.0" fill="none" stroke="#d4145a" stroke-width="1.5" stroke-linecap="round" stroke-linejoin="round" /><path d="M119.5,16.5 L118.0,27.0 L115.0,36.8" fill="none" stroke="#6a2bbf" stroke-width="1.3" stroke-linecap="round" stroke-linejoin="round" /><path d="M80.1,42.0 L81.0,47.0 L80.5,52.5" fill="none" stroke="#6a2bbf" stroke-width="1.3" stroke-linecap="round" stroke-linejoin="round" /><path d="M125.9,41.3 L129.5,45.0 L130.0,50.0 L128.0,55.0" fill="none" stroke="#6a2bbf" stroke-width="1.3" stroke-linecap="round" stroke-linejoin="round" /><path d="M114.5,30.0 L116.9,37.2" fill="none" stroke="#6a2bbf" stroke-width="1.3" stroke-linecap="round" stroke-linejoin="round" /><path d="M14.6,25.0 L20.0,27.5 L26.6,31.0 L34.1,40.0 L41.6,50.5 L47.6,58.0" fill="none" stroke="#000" stroke-width="3.8" stroke-linecap="round" stroke-linejoin="round" /><path d="M50.6,34.0 L55.0,38.0 L59.6,44.5" fill="none" stroke="#000" stroke-width="1.4" stroke-linecap="round" stroke-linejoin="round" /><path d="M79.6,38.4 L86.8,45.6 L88.0,52.0 L85.0,58.0" fill="none" stroke="#000" stroke-width="1.4" stroke-linecap="round" stroke-linejoin="round" /><path d="M75.6,33.0 L79.0,40.0 L80.1,54.0" fill="none" stroke="#000" stroke-width="1.5" stroke-linecap="round" stroke-linejoin="round" /><path d="M144.8,65.4 L148.0,72.0 L147.0,80.0 L146.9,85.0" fill="none" stroke="#000" stroke-width="1.5" stroke-linecap="round" stroke-linejoin="round" /><path d="M155.3,25.5 L160.0,35.0 L164.0,48.0 L167.9,59.1" fill="none" stroke="#000" stroke-width="1.5" stroke-linecap="round" stroke-linejoin="round" /><path d="M55.0,12.0 L53.0,17.0 L50.0,20.0" fill="none" stroke="#000" stroke-width="1.4" stroke-linecap="round" stroke-linejoin="round" /><path d="M100.7,10.0 C101.9,10.4 106.0,11.2 108.0,12.5 C110.0,13.8 111.8,16.0 113.0,18.0 C114.2,20.0 115.0,21.8 115.1,24.4 C115.1,27.0 113.6,32.0 113.3,33.5" fill="none" stroke="#000" stroke-width="1.4" stroke-linecap="round"/><path d="M66.0,37.0 C65.8,38.5 64.3,43.0 64.5,46.0 C64.7,49.0 66.6,53.5 67.0,55.0" fill="none" stroke="#000" stroke-width="1.4" stroke-linecap="round"/><path d="M82.6,37.0 C83.2,38.5 86.3,42.5 86.3,46.1 C86.3,49.7 83.2,56.6 82.6,58.7" fill="none" stroke="#000" stroke-width="1.4" stroke-linecap="round"/><path d="M91.7,35.3 C92.1,36.9 93.2,41.4 94.0,45.0 C94.8,48.6 95.8,55.0 96.2,57.0" fill="none" stroke="#000" stroke-width="1.6" stroke-linecap="round"/><path d="M118.8,40.7 C119.3,41.9 121.1,45.6 122.0,48.0 C122.9,50.4 123.8,53.9 124.2,55.1" fill="none" stroke="#000" stroke-width="1.4" stroke-linecap="round"/><path d="M25.5,22.5 L35.5,19.3 L34.7,21.6 L42.0,21.6 L42.0,23.4 L25.5,22.8Z" fill="#000" /><path d="M53.5,9.5 L51.6,15.0 L53.7,13.6 L54.7,17.2 L56.3,16.8 L53.7,9.4Z" fill="#000" /><path d="M127.0,14.3 L137.3,16.3 L135.5,18.0 L142.4,21.8 L141.6,23.2 L126.9,14.5Z" fill="#000" /><path d="M188.9,65.4 L184.6,56.7 L183.6,58.9 L179.0,54.4 L177.8,55.6 L188.7,65.6Z" fill="#000" /><path d="M100.0,32.5 L108.0,30.6 L106.8,32.8 L112.1,33.7 L111.9,35.3 L100.0,32.8Z" fill="#000" /><path d="M153.2,68.6 L163.2,68.1 L161.8,70.2 L168.1,72.0 L167.7,73.6 L153.1,68.8Z" fill="#000" /><path d="M182.6,78.0 L173.5,81.2 L174.3,78.8 L167.9,78.8 L167.9,77.2 L182.6,77.7Z" fill="#000" /><path d="M104.5,67.0 L113.3,65.1 L112.2,67.3 L118.1,68.2 L117.9,69.8 L104.5,67.3Z" fill="#000" /><path d="M190.0,66.5 L184.7,57.6 L183.7,59.9 L178.6,55.4 L177.4,56.6 L189.8,66.7Z" fill="#000" /><path d="M82.0,64.0 L87.3,67.5 L84.9,67.9 L86.8,71.6 L85.2,72.4 L81.8,64.1Z" fill="#000" />
</g>
<rect x="164.1" y="0" width="35.1" height="13.8" fill="#fff" stroke="#000" stroke-width="1.1"/>
<text x="181.05" y="10.6" font-size="10.4" text-anchor="middle" fill="#000" stroke="#000" stroke-width="0.18">12 Myr</text>
<rect x="0" y="0" width="199.2" height="99.4" fill="none" stroke="#000" stroke-width="1.25"/>
<line x1="0.00" y1="99.4" x2="0.00" y2="104.0" stroke="#000" stroke-width="1.1"/>
<line x1="-5" y1="0.00" x2="0" y2="0.00" stroke="#000" stroke-width="1.1"/>
<line x1="66.40" y1="99.4" x2="66.40" y2="104.0" stroke="#000" stroke-width="1.1"/>
<line x1="-5" y1="33.13" x2="0" y2="33.13" stroke="#000" stroke-width="1.1"/>
<line x1="132.80" y1="99.4" x2="132.80" y2="104.0" stroke="#000" stroke-width="1.1"/>
<line x1="-5" y1="66.27" x2="0" y2="66.27" stroke="#000" stroke-width="1.1"/>
<line x1="199.20" y1="99.4" x2="199.20" y2="104.0" stroke="#000" stroke-width="1.1"/>
<line x1="-5" y1="99.40" x2="0" y2="99.40" stroke="#000" stroke-width="1.1"/>
<text x="0.00" y="113.60000000000001" font-size="10.4" text-anchor="middle" fill="#000" stroke="#000" stroke-width="0.18">600</text>
<text x="66.40" y="113.60000000000001" font-size="10.4" text-anchor="middle" fill="#000" stroke="#000" stroke-width="0.18">400</text>
<text x="132.80" y="113.60000000000001" font-size="10.4" text-anchor="middle" fill="#000" stroke="#000" stroke-width="0.18">200</text>
<text x="199.20" y="113.60000000000001" font-size="10.4" text-anchor="middle" fill="#000" stroke="#000" stroke-width="0.18">0</text>
<text x="-6.5" y="3.30" font-size="10.3" text-anchor="end" fill="#000" stroke="#000" stroke-width="0.18">300</text>
<text x="-6.5" y="36.43" font-size="10.3" text-anchor="end" fill="#000" stroke="#000" stroke-width="0.18">200</text>
<text x="-6.5" y="69.57" font-size="10.3" text-anchor="end" fill="#000" stroke="#000" stroke-width="0.18">100</text>
<text x="-6.5" y="102.70" font-size="10.3" text-anchor="end" fill="#000" stroke="#000" stroke-width="0.18">0</text>
</g>
<g transform="translate(483.6,146.0)">
<g clip-path="url(#pc)">
<rect x="0" y="0" width="199.2" height="99.4" fill="#e0ffd8"/>
<path d="M-2.0,-2.0 C6.7,-3.5 41.3,-3.7 50.0,-2.0 C58.7,-0.3 50.7,2.7 50.0,8.0 C49.3,13.3 47.7,26.8 46.0,30.0 C44.3,33.2 42.3,28.7 40.0,27.0 C37.7,25.3 35.3,23.0 32.0,20.0 C28.7,17.0 24.0,11.2 20.0,9.0 C16.0,6.8 11.7,7.3 8.0,7.0 C4.3,6.7 -0.3,8.5 -2.0,7.0 C-3.7,5.5 -10.7,-0.5 -2.0,-2.0Z" fill="#aaff88" /><path d="M-2.0,30.0 C0.3,21.0 8.0,30.3 12.0,32.0 C16.0,33.7 19.0,37.0 22.0,40.0 C25.0,43.0 28.0,46.3 30.0,50.0 C32.0,53.7 33.5,57.8 34.0,62.0 C34.5,66.2 33.7,71.0 33.0,75.0 C32.3,79.0 33.0,83.8 30.0,86.0 C27.0,88.2 20.3,88.0 15.0,88.0 C9.7,88.0 0.8,95.7 -2.0,86.0 C-4.8,76.3 -4.3,39.0 -2.0,30.0Z" fill="#aaff88" /><path d="M40.0,27.0 C42.7,25.5 53.3,28.0 60.0,29.0 C66.7,30.0 73.3,31.8 80.0,33.0 C86.7,34.2 92.5,34.8 100.0,36.0 C107.5,37.2 118.3,38.7 125.0,40.0 C131.7,41.3 135.8,42.0 140.0,44.0 C144.2,46.0 150.0,49.0 150.0,52.0 C150.0,55.0 145.8,59.7 140.0,62.0 C134.2,64.3 121.7,64.7 115.0,66.0 C108.3,67.3 105.0,69.3 100.0,70.0 C95.0,70.7 90.0,70.7 85.0,70.0 C80.0,69.3 74.5,68.0 70.0,66.0 C65.5,64.0 61.3,61.0 58.0,58.0 C54.7,55.0 52.3,51.3 50.0,48.0 C47.7,44.7 45.7,41.5 44.0,38.0 C42.3,34.5 37.3,28.5 40.0,27.0Z" fill="#aaff88" /><path d="M82.0,56.0 C84.2,51.8 92.0,54.7 95.0,55.0 C98.0,55.3 97.5,56.8 100.0,58.0 C102.5,59.2 108.0,57.0 110.0,62.0 C112.0,67.0 113.7,82.2 112.0,88.0 C110.3,93.8 104.3,95.7 100.0,97.0 C95.7,98.3 89.0,98.8 86.0,96.0 C83.0,93.2 82.7,86.7 82.0,80.0 C81.3,73.3 79.8,60.2 82.0,56.0Z" fill="#aaff88" /><path d="M100.0,-2.0 C107.0,-3.7 135.0,-4.0 142.0,-2.0 C149.0,0.0 144.8,7.5 142.0,10.0 C139.2,12.5 130.7,13.0 125.0,13.0 C119.3,13.0 112.2,10.8 108.0,10.0 C103.8,9.2 101.3,10.0 100.0,8.0 C98.7,6.0 93.0,-0.3 100.0,-2.0Z" fill="#aaff88" /><path d="M154.0,72.0 C157.3,69.3 164.8,73.3 170.0,74.0 C175.2,74.7 179.7,75.3 185.0,76.0 C190.3,76.7 199.2,73.7 202.0,78.0 C204.8,82.3 209.8,98.0 202.0,102.0 C194.2,106.0 163.7,104.0 155.0,102.0 C146.3,100.0 150.2,95.0 150.0,90.0 C149.8,85.0 150.7,74.7 154.0,72.0Z" fill="#aaff88" /><path d="M100.0,88.0 C102.5,84.3 110.3,81.7 115.0,80.0 C119.7,78.3 125.5,74.3 128.0,78.0 C130.5,81.7 134.7,98.0 130.0,102.0 C125.3,106.0 105.0,104.3 100.0,102.0 C95.0,99.7 97.5,91.7 100.0,88.0Z" fill="#aaff88" /><path d="M172.0,43.0 C174.5,39.7 185.0,42.2 190.0,40.0 C195.0,37.8 200.0,25.3 202.0,30.0 C204.0,34.7 204.8,61.7 202.0,68.0 C199.2,74.3 189.5,69.3 185.0,68.0 C180.5,66.7 177.2,64.2 175.0,60.0 C172.8,55.8 169.5,46.3 172.0,43.0Z" fill="#aaff88" /><path d="M128.0,20.0 C130.8,17.8 138.8,20.0 145.0,22.0 C151.2,24.0 158.3,28.2 165.0,32.0 C171.7,35.8 181.2,40.7 185.0,45.0 C188.8,49.3 189.7,54.5 188.0,58.0 C186.3,61.5 181.3,65.3 175.0,66.0 C168.7,66.7 156.7,64.7 150.0,62.0 C143.3,59.3 138.7,54.5 135.0,50.0 C131.3,45.5 129.2,40.0 128.0,35.0 C126.8,30.0 125.2,22.2 128.0,20.0Z" fill="#aaff88" /><ellipse cx="2" cy="55" rx="13" ry="13" transform="rotate(0 2 55)" fill="#00ff00" /><ellipse cx="4" cy="1" rx="6" ry="4" transform="rotate(0 4 1)" fill="#00ff00" /><ellipse cx="94" cy="73" rx="9" ry="16" transform="rotate(0 94 73)" fill="#00ff00" /><ellipse cx="95" cy="74" rx="5" ry="9" transform="rotate(0 95 74)" fill="#00cc00" /><ellipse cx="96" cy="74" rx="2.2" ry="3.5" transform="rotate(0 96 74)" fill="#55aa00" /><ellipse cx="53" cy="30" rx="10" ry="5" transform="rotate(20 53 30)" fill="#00ff00" /><path d="M84.0,35.0 C86.5,32.8 95.3,35.3 100.0,37.0 C104.7,38.7 109.0,41.5 112.0,45.0 C115.0,48.5 118.7,54.8 118.0,58.0 C117.3,61.2 112.3,63.3 108.0,64.0 C103.7,64.7 95.8,64.3 92.0,62.0 C88.2,59.7 86.3,54.5 85.0,50.0 C83.7,45.5 81.5,37.2 84.0,35.0Z" fill="#00ff00" /><path d="M100.0,50.0 C101.3,43.8 106.5,46.7 108.0,50.0 C109.5,53.3 109.7,63.8 109.0,70.0 C108.3,76.2 105.5,84.2 104.0,87.0 C102.5,89.8 100.7,93.2 100.0,87.0 C99.3,80.8 98.7,56.2 100.0,50.0Z" fill="#00cc00" /><path d="M193.0,28.0 C194.5,21.3 200.5,19.7 202.0,26.0 C203.5,32.3 203.5,59.3 202.0,66.0 C200.5,72.7 194.5,72.3 193.0,66.0 C191.5,59.7 191.5,34.7 193.0,28.0Z" fill="#00ff00" /><ellipse cx="104" cy="3" rx="6" ry="4" transform="rotate(0 104 3)" fill="#00ff00" /><ellipse cx="157" cy="46" rx="24" ry="13" transform="rotate(45 157 46)" fill="#00cc00" /><ellipse cx="157" cy="46" rx="21" ry="10.5" transform="rotate(45 157 46)" fill="#55aa00" /><path d="M-2.0,13.5 C0.3,11.0 7.5,14.0 12.0,15.0 C16.5,16.0 21.3,17.5 25.0,19.5 C28.7,21.5 31.2,24.1 34.0,27.0 C36.8,29.9 39.5,33.3 42.0,37.0 C44.5,40.7 46.8,45.0 49.0,49.0 C51.2,53.0 53.8,57.2 55.0,61.0 C56.2,64.8 57.0,69.7 56.0,72.0 C55.0,74.3 51.5,76.0 49.0,75.0 C46.5,74.0 43.7,69.3 41.0,66.0 C38.3,62.7 35.7,58.7 33.0,55.0 C30.3,51.3 28.0,47.3 25.0,44.0 C22.0,40.7 18.2,37.2 15.0,35.0 C11.8,32.8 8.8,31.8 6.0,31.0 C3.2,30.2 -0.7,32.9 -2.0,30.0 C-3.3,27.1 -4.3,16.0 -2.0,13.5Z" fill="#aaffff" /><path d="M-2.0,15.5 C0.3,13.7 7.5,16.0 12.0,17.0 C16.5,18.0 21.5,19.5 25.0,21.5 C28.5,23.5 30.5,26.1 33.0,29.0 C35.5,31.9 37.7,35.3 40.0,39.0 C42.3,42.7 45.0,47.2 47.0,51.0 C49.0,54.8 51.2,58.8 52.0,62.0 C52.8,65.2 52.7,68.5 52.0,70.0 C51.3,71.5 50.0,72.3 48.0,71.0 C46.0,69.7 42.7,65.3 40.0,62.0 C37.3,58.7 34.7,54.5 32.0,51.0 C29.3,47.5 27.0,44.0 24.0,41.0 C21.0,38.0 18.3,35.2 14.0,33.0 C9.7,30.8 0.7,30.9 -2.0,28.0 C-4.7,25.1 -4.3,17.3 -2.0,15.5Z" fill="#44ffff" /><path d="M45.0,-2.0 C52.7,-3.7 87.5,-4.0 96.0,-2.0 C104.5,0.0 97.3,6.4 96.0,10.0 C94.7,13.6 91.5,17.8 88.0,19.5 C84.5,21.2 79.7,20.8 75.0,20.0 C70.3,19.2 64.2,17.0 60.0,15.0 C55.8,13.0 52.5,10.8 50.0,8.0 C47.5,5.2 37.3,-0.3 45.0,-2.0Z" fill="#aaffff" /><path d="M118.0,-2.0 C126.0,-4.0 161.7,-4.3 172.0,-2.0 C182.3,0.3 179.0,5.8 180.0,12.0 C181.0,18.2 180.0,30.7 178.0,35.0 C176.0,39.3 172.3,38.8 168.0,38.0 C163.7,37.2 157.0,33.0 152.0,30.0 C147.0,27.0 142.7,23.3 138.0,20.0 C133.3,16.7 127.3,13.7 124.0,10.0 C120.7,6.3 110.0,0.0 118.0,-2.0Z" fill="#aaffff" /><path d="M128.0,-2.0 C134.0,-3.7 162.0,-4.3 170.0,-2.0 C178.0,0.3 175.3,6.7 176.0,12.0 C176.7,17.3 176.7,26.8 174.0,30.0 C171.3,33.2 164.7,32.7 160.0,31.0 C155.3,29.3 150.3,23.8 146.0,20.0 C141.7,16.2 137.0,11.7 134.0,8.0 C131.0,4.3 122.0,-0.3 128.0,-2.0Z" fill="#44ffff" /><ellipse cx="160" cy="20" rx="7" ry="11" transform="rotate(-35 160 20)" fill="#00e5ff" /><ellipse cx="77" cy="46.5" rx="5.5" ry="8.5" transform="rotate(-35 77 46.5)" fill="#aaffff" /><ellipse cx="78" cy="46" rx="2.5" ry="4" transform="rotate(-35 78 46)" fill="#44ffff" /><ellipse cx="122" cy="29" rx="10" ry="7" transform="rotate(35 122 29)" fill="#aaffff" /><ellipse cx="123" cy="30" rx="5" ry="3" transform="rotate(35 123 30)" fill="#44ffff" /><ellipse cx="143" cy="55" rx="16" ry="7.5" transform="rotate(40 143 55)" fill="#aaffff" /><ellipse cx="143" cy="55" rx="10" ry="4.5" transform="rotate(40 143 55)" fill="#44ffff" /><ellipse cx="144" cy="55.5" rx="5" ry="2.5" transform="rotate(40 144 55.5)" fill="#00e5ff" /><ellipse cx="73.5" cy="85" rx="9" ry="15" transform="rotate(0 73.5 85)" fill="#aaffff" /><ellipse cx="75" cy="83" rx="5" ry="9" transform="rotate(0 75 83)" fill="#44ffff" /><ellipse cx="142" cy="84" rx="8" ry="12" transform="rotate(0 142 84)" fill="#aaffff" /><ellipse cx="143" cy="84" rx="4" ry="7" transform="rotate(0 143 84)" fill="#44ffff" /><ellipse cx="196" cy="80" rx="6" ry="5" transform="rotate(0 196 80)" fill="#aaffff" /><ellipse cx="59" cy="43" rx="15" ry="9" transform="rotate(50 59 43)" fill="#00ff00" /><ellipse cx="56" cy="46.5" rx="14" ry="8" transform="rotate(50 56 46.5)" fill="#55aa00" /><ellipse cx="58" cy="47" rx="8" ry="5.5" transform="rotate(50 58 47)" fill="#ffaa00" /><ellipse cx="58.3" cy="46.5" rx="5" ry="3.5" transform="rotate(50 58.3 46.5)" fill="#bb7700" /><ellipse cx="111" cy="57" rx="7" ry="4.5" transform="rotate(30 111 57)" fill="#ffaa00" /><path d="M100.0,8.0 L115.0,14.0 L128.0,20.0 L140.0,28.0 L148.0,40.0 L156.0,50.0 L166.9,55.0 L179.0,66.0 L192.5,75.0" fill="none" stroke="#dcb070" stroke-width="3.2" stroke-linecap="round" stroke-linejoin="round" /><ellipse cx="155.5" cy="45" rx="18" ry="7" transform="rotate(45 155.5 45)" fill="#ffaa00" /><ellipse cx="155.5" cy="45.5" rx="14" ry="5" transform="rotate(45 155.5 45.5)" fill="#bb7700" /><ellipse cx="159.8" cy="48.6" rx="2.8" ry="1.8" transform="rotate(45 159.8 48.6)" fill="#994400" />
<path d="M42.6,0.0 42.8,1.0 43.6,2.2 48.2,6.6 49.4,8.5 49.4,11.0 48.1,21.5 48.4,23.0 49.2,23.8 55.5,25.6 61.8,29.0 75.0,31.9 83.0,33.4 90.8,34.4 124.5,39.8 126.8,40.0 128.0,39.6 128.5,38.9 129.1,36.0 130.5,33.0 130.7,30.5 129.8,27.8 127.3,24.0 125.9,21.0 125.0,20.2 123.8,19.4 115.0,15.4 103.0,10.8 99.8,9.2 99.0,8.2 98.7,6.8 98.9,5.2 99.6,2.2 99.8,0.0M115.3,0.0 115.6,1.5 116.8,3.2 122.5,8.8 124.3,11.0 124.4,11.8 124.0,12.3 121.5,13.3 120.9,13.8 121.2,14.5 122.1,15.2 125.2,17.1 128.5,18.6 135.2,19.4 138.1,20.2 148.3,27.5 154.0,31.2 161.5,35.4 167.0,37.6 170.5,38.2 175.5,38.4 179.8,40.4 181.8,40.8 186.2,40.6 189.6,39.8 190.9,38.8 191.7,37.2 192.7,29.2 193.9,25.5 194.9,24.0 196.0,23.0 197.2,22.4 198.8,22.1M95.4,99.0 94.8,98.6 91.2,98.3 88.2,97.2 86.0,95.7 84.4,93.5 83.5,91.2 82.9,88.5 81.1,72.0 80.8,70.8 80.2,69.8 78.8,68.8 70.5,66.1 65.9,63.8 62.1,61.2 57.5,57.6 53.8,55.2 50.9,52.8 48.5,49.8 46.6,46.5 45.7,44.0 44.5,39.2 40.1,31.2 38.6,26.2 37.3,24.8 30.2,18.3 25.5,13.4 20.8,9.5 18.5,8.4 16.2,7.6 13.5,7.2 8.2,6.9 0.0,7.4M0.0,31.1 5.5,31.0 7.8,31.5 10.8,32.6 13.2,33.9 15.8,35.6 22.1,41.0 27.0,46.5 29.7,50.2 31.2,52.8 32.3,55.5 33.2,58.5 33.7,61.5 34.0,64.5 33.7,69.5 32.1,81.5 31.2,84.0 29.6,85.8 28.0,86.7 25.8,87.3 21.5,87.8 13.8,88.1 5.0,90.5 3.0,90.6 0.0,90.2M80.6,53.5 81.6,53.0 82.4,52.2 82.9,51.2 83.2,50.0 83.0,47.0 81.9,44.2 79.8,41.5 77.2,39.7 74.8,39.0 73.5,39.1 72.5,39.5 71.1,41.0 70.4,43.2 70.7,45.8 71.8,48.5 73.7,51.0 76.0,52.8 78.5,53.7 80.6,53.5M149.5,99.0 149.3,95.2 149.8,90.8 150.0,84.5 150.6,79.8 151.3,77.0 152.1,74.8 153.0,73.2 154.3,72.0 156.2,71.2 158.8,71.2 170.0,73.8 183.2,75.5 185.2,75.6 186.8,75.3 187.5,74.8 187.5,74.2 186.6,73.0 184.7,71.5 176.2,66.2 174.8,65.9 169.0,65.8 164.8,65.5 159.8,64.6 157.5,63.9 156.8,63.3 156.3,62.5 155.0,58.5 153.4,55.5 151.3,52.8 148.2,49.7 145.0,47.2 141.2,45.0 137.8,43.7 134.8,43.2 132.5,43.6 131.0,44.6 130.1,46.2 129.9,48.5 130.6,51.0 132.0,53.7 133.6,56.0 137.3,60.5 137.5,61.2 137.2,62.0 135.8,62.8 133.0,63.5 118.8,65.3 114.5,66.0 112.4,67.0 111.9,67.8 111.7,68.8 112.5,77.2 112.9,78.5 113.5,79.3 114.2,79.6 115.5,79.4 121.5,77.2 124.2,76.6 125.5,76.7 126.5,77.1 127.4,77.8 128.2,78.8 130.0,83.0 131.4,89.0 131.9,93.2 131.7,99.0M198.8,70.8 193.2,71.0 192.0,71.3 191.8,71.8 192.7,73.8 192.8,74.8 192.4,75.5 190.6,77.2 190.1,79.8 190.3,81.0 190.9,82.2 192.8,83.9 195.2,84.7 198.8,84.6M35.7,0.0 36.0,2.2 37.0,4.5 38.5,6.5 41.7,9.8 42.4,11.0 42.5,12.8 42.1,15.5 41.5,17.1 40.8,17.8 39.5,17.5 37.5,16.1 34.9,13.8 29.3,8.0 25.8,5.0 22.8,3.1 17.9,0.8 17.0,0.0M198.8,64.2 196.2,64.2 194.2,64.0 186.5,61.7 182.2,61.5 178.8,59.8 177.2,59.4 168.8,59.3 165.0,58.8 163.1,58.2 161.8,57.0 159.4,52.8 157.2,49.6 151.8,44.0 149.0,41.9 146.0,40.0 142.8,38.4 139.0,37.0 137.8,36.2 137.3,34.8 137.5,31.8 138.0,30.0 138.8,29.6 139.5,29.7 141.2,30.7 151.0,37.1 156.8,40.3 160.8,42.3 163.8,43.5 166.5,44.2 174.0,45.1 177.5,46.7 179.2,47.2 185.8,47.3 190.8,46.4 194.3,44.8 198.0,41.5 198.8,41.0M67.2,55.3 66.8,55.5 65.2,54.8 58.2,50.2 56.0,48.5 54.4,46.8 53.0,44.5 52.1,42.5 51.1,37.8 49.1,33.0 49.1,32.0 49.5,31.5 50.8,31.3 52.8,31.7 58.0,34.7 62.8,36.2 64.1,37.0 64.5,38.2 63.8,42.8 64.0,46.0 64.9,49.5 67.1,54.5 67.2,55.3M0.0,37.6 4.8,37.6 8.5,38.8 12.5,41.3 17.9,46.0 22.0,50.8 25.3,55.8 26.8,60.2 27.4,65.0 27.2,68.5 25.9,78.0 25.4,79.5 24.5,80.5 23.2,81.0 21.2,81.3 12.5,81.6 4.5,83.7 0.0,83.3M103.7,99.0 103.5,97.0 102.9,95.2 102.0,93.7 100.7,92.5 99.2,91.7 97.8,91.3 92.0,91.1 91.0,90.6 90.2,89.8 89.6,88.2 89.1,86.0 87.5,70.0 87.1,67.8 86.4,66.2 85.5,64.9 82.1,62.2 81.5,61.5 82.0,60.8 85.0,58.9 86.7,57.5 88.0,56.0 89.0,54.2 89.6,52.0 89.8,49.5 89.7,46.8 89.1,42.8 89.3,42.0 90.0,41.5 91.5,41.4 94.0,41.6 118.8,45.5 121.5,46.2 122.7,47.2 123.9,51.8 125.2,55.5 125.2,56.5 124.9,57.2 123.0,58.1 113.5,59.5 110.5,60.2 108.5,60.9 106.9,62.0 105.7,63.5 105.0,65.2 104.8,67.5 106.2,80.8 106.6,82.5 107.4,84.0 108.2,85.1 109.5,86.0 111.0,86.7 112.5,86.9 115.5,86.6 121.2,84.5 122.2,84.5 123.0,84.8 123.6,85.5 124.1,86.8 125.1,91.2 125.4,94.5 125.0,99.0M156.2,99.0 156.0,95.2 156.8,82.8 157.7,79.5 158.3,78.8 159.2,78.3 161.2,78.5 169.0,80.3 182.0,82.3 183.5,83.2 185.5,86.2 186.8,87.7 189.5,89.7 191.5,90.6 193.5,91.1 198.8,91.3M0.0,44.2 3.8,44.3 6.0,45.0 9.0,47.0 13.3,50.8 16.7,54.8 19.2,58.5 20.4,61.8 20.8,65.2 19.9,72.0 19.4,73.5 18.5,74.3 17.0,74.7 11.2,75.1 4.5,76.8 0.0,76.6M98.5,84.0 97.5,84.1 96.8,83.9 96.1,83.2 95.7,82.2 94.1,68.5 92.6,62.2 92.9,61.0 95.5,56.0 96.9,50.2 97.8,49.5 99.2,49.2 107.2,50.5 109.8,51.2 110.9,52.0 110.3,52.8 105.5,54.9 102.8,56.8 100.5,59.2 99.0,62.0 98.2,64.8 98.0,67.5 99.0,75.5 99.4,82.0 99.2,83.2 98.5,84.0M198.8,57.6 196.0,57.4 193.8,56.9 190.9,55.5 190.4,55.0 190.2,54.5 190.5,54.0 191.9,53.2 197.2,50.9 198.8,50.5M162.9,99.0 162.7,95.0 163.1,88.5 163.9,87.0 165.5,86.6 175.8,88.0 178.0,88.5 179.5,89.5 183.0,93.2 185.7,95.2 189.8,97.1 195.3,99.0M110.4,99.0 110.3,95.8 110.8,94.5 112.0,93.9 116.2,93.4 117.5,93.6 118.3,94.5 118.5,95.8 118.4,99.0M0.0,50.8 2.2,51.0 3.8,51.5 5.6,52.8 8.5,55.3 10.9,58.0 12.8,60.8 13.7,62.8 14.1,64.8 13.9,66.0 13.6,67.0 12.2,68.0 4.2,70.0 0.0,70.0M169.5,99.0 169.6,96.5 169.9,95.2 170.7,94.5 172.0,94.3 174.0,94.6 175.5,95.4 177.6,97.5 178.3,99.0M0.0,57.8 1.2,58.1 2.8,59.2 3.9,60.5 4.4,61.8 4.1,62.5 3.2,63.0 0.0,63.3" fill="none" stroke="#9a9a9a" stroke-width="0.42"/>
<path d="M50.3,0.0 50.9,1.2 54.0,4.8 55.0,7.0 55.1,9.5 54.3,16.8 54.6,18.5 55.8,19.6 63.2,23.6 67.8,24.8 85.0,28.2 120.2,33.5 122.3,33.5 123.8,32.8 124.6,31.2 124.4,29.8 121.2,25.4 120.0,24.2 112.0,20.3 97.8,14.6 96.0,13.6 94.8,12.5 93.6,10.5 93.1,7.8 93.2,5.0 94.2,0.0M122.2,0.0 122.6,1.0 123.4,2.0 130.8,9.0 132.8,12.4 133.5,13.1 134.8,13.7 138.8,14.6 140.8,15.4 151.2,22.9 156.8,26.4 164.2,30.7 167.0,31.8 169.2,32.5 171.5,32.8 176.2,32.7 178.0,33.2 182.0,35.1 183.8,35.3 185.2,34.9 186.0,34.3 186.5,33.5 187.8,26.0 188.8,23.2 190.0,21.2 192.0,19.1 194.0,17.7 196.2,16.8 198.8,16.6M80.6,99.0 80.3,97.8 78.6,93.8 77.8,90.8 76.0,76.5 75.2,74.3 74.0,73.2 67.5,70.7 61.5,67.5 54.5,62.2 50.0,59.2 46.2,55.7 43.9,52.8 41.8,49.2 40.6,46.2 39.0,40.5 35.3,33.8 33.4,29.2 32.4,27.8 26.8,22.5 21.2,16.9 18.8,14.8 16.8,13.6 13.8,12.7 9.0,12.3 0.0,12.7M0.0,25.6 4.2,25.4 6.2,25.5 9.0,26.1 12.6,27.5 15.8,29.0 18.8,31.0 25.5,36.8 28.7,40.0 31.2,43.0 34.4,47.5 36.1,50.2 37.4,53.5 38.5,57.2 39.2,60.8 39.4,64.5 39.0,70.5 37.2,83.5 36.6,85.5 35.7,87.2 34.6,88.8 33.2,90.0 30.5,91.6 26.8,92.7 22.5,93.2 14.8,93.5 7.8,95.5 5.0,96.0 0.0,95.9M143.9,99.0 143.8,95.5 144.4,90.0 144.6,84.2 145.4,78.0 147.0,72.8 148.1,70.5 150.4,67.5 150.7,66.5 150.7,65.2 149.9,60.8 149.0,59.0 147.8,57.2 145.5,54.8 143.1,52.8 140.7,51.2 138.8,50.6 138.2,50.6 137.9,51.0 138.0,51.8 138.5,52.8 140.1,54.8 143.3,57.8 144.4,59.5 144.8,61.8 144.3,64.0 143.0,65.8 141.0,67.1 137.8,68.1 130.8,69.6 129.3,70.2 129.0,70.8 129.3,71.5 131.5,73.8 132.8,75.8 134.3,78.8 135.5,82.2 136.4,86.2 137.1,90.2 137.2,99.0M58.2,0.0 58.5,1.0 60.0,4.2 60.5,6.5 60.7,9.0 60.3,13.2 60.5,14.8 61.5,16.0 64.5,17.9 66.2,18.7 68.2,19.3 84.5,22.5 99.0,24.4 102.2,24.5 103.5,24.2 103.4,23.8 101.9,22.8 93.0,18.3 91.0,16.7 89.5,14.8 88.1,11.8 87.6,8.8 87.6,4.8 88.4,0.0M130.6,0.0 130.9,1.0 131.7,2.0 137.8,8.2 142.0,9.8 144.0,10.9 155.0,18.8 163.2,23.9 167.5,26.1 170.5,27.1 176.0,27.1 179.8,27.6 181.0,27.3 181.8,26.2 183.4,22.0 184.6,19.5 186.1,17.2 188.2,15.0 190.5,13.2 193.0,12.0 195.8,11.3 198.8,11.0M17.1,22.2 17.0,21.5 16.0,20.2 14.8,19.2 13.8,18.8 11.0,18.5 9.0,18.7 8.4,19.0 9.2,19.8 12.7,21.2 15.8,22.2 17.1,22.2M74.3,99.0 72.3,91.5 70.9,80.5 70.6,79.2 70.0,78.3 68.6,77.2 64.0,75.2 60.0,73.0 56.2,70.6 50.5,66.2 48.0,64.8 46.5,64.4 45.7,64.8 45.1,66.2 42.9,83.2 42.1,86.5 41.1,89.0 39.2,91.8 37.0,94.1 34.0,96.1 29.5,98.2 28.7,99.0M64.7,0.0 66.0,5.6 66.4,11.2 67.2,12.8 68.5,13.5 70.2,14.1 77.8,15.6 80.8,16.0 82.1,15.8 82.7,14.8 82.0,7.5 82.1,4.2 82.6,0.0M138.6,0.0 139.4,1.8 141.2,3.5 147.0,6.2 157.4,13.8 163.2,17.5 169.0,20.7 172.0,21.5 175.5,21.4 177.3,20.8 178.2,19.8 180.5,15.6 182.2,13.3 185.2,10.3 188.1,8.2 190.5,7.1 193.0,6.2 195.8,5.7 198.8,5.5M68.3,99.0 66.7,91.5 65.7,84.2 65.0,82.3 63.5,81.1 58.0,78.2 52.8,75.0 51.2,74.5 50.2,74.8 49.5,76.3 48.2,85.0 46.7,90.0 45.0,93.3 41.6,97.8 41.0,99.0M70.6,0.0 72.2,7.5 73.0,8.5 74.5,8.9 75.6,8.5 76.2,7.5 76.9,0.0M149.1,0.0 149.7,1.0 150.7,2.0 161.2,9.7 169.2,14.6 171.0,15.4 172.2,15.6 173.2,15.5 174.2,14.8 178.0,9.8 181.8,6.0 185.0,3.7 190.3,0.8 190.9,0.0M62.6,99.0 60.2,86.8 59.6,85.8 58.7,85.0 57.2,84.2 55.8,83.8 54.8,84.1 54.1,85.0 51.9,91.8 49.0,97.5 48.5,99.0M158.7,0.0 159.5,1.5 162.8,4.1 168.0,7.5 170.5,8.4 171.5,8.2 172.8,7.3 178.3,1.5 179.1,0.0M168.5,0.0 168.8,0.5 169.5,0.8 170.2,0.5 170.5,0.0" fill="none" stroke="#9a9a9a" stroke-width="0.42" stroke-dasharray="1.4 1"/>
<path d="M79.4,34.8 L100.0,46.0 L120.0,56.0 L133.5,63.3" fill="none" stroke="#dcb070" stroke-width="3.0" stroke-linecap="round" stroke-linejoin="round" /><path d="M100.4,61.8 L111.0,37.8" fill="none" stroke="#ee6622" stroke-width="3.0" stroke-linecap="round" stroke-linejoin="round" /><path d="M-1.0,22.5 L15.0,24.5 L30.0,27.0 L46.7,28.7" fill="none" stroke="#d4145a" stroke-width="1.9" stroke-linecap="round" stroke-linejoin="round" /><path d="M25.0,26.3 L46.7,27.5 L64.4,30.3 L79.4,33.3 L100.0,35.5 L112.5,36.3" fill="none" stroke="#f070b0" stroke-width="1.7" stroke-linecap="round" stroke-linejoin="round" /><path d="M30.0,27.8 L49.5,34.5 L60.0,37.5" fill="none" stroke="#d4145a" stroke-width="1.7" stroke-linecap="round" stroke-linejoin="round" /><path d="M112.5,36.3 L133.0,41.0 L150.0,45.0 L176.0,46.5 L200.0,50.3" fill="none" stroke="#d4145a" stroke-width="1.9" stroke-linecap="round" stroke-linejoin="round" /><path d="M63.0,-1.0 L80.0,3.0 L99.4,8.4 L115.0,14.0 L128.8,20.0" fill="none" stroke="#d4145a" stroke-width="1.9" stroke-linecap="round" stroke-linejoin="round" /><path d="M50.9,54.9 L65.0,56.5 L82.4,59.1 L99.4,63.3 L117.0,64.8 L129.4,64.5 L151.9,72.0 L167.6,74.0" fill="none" stroke="#d4145a" stroke-width="1.9" stroke-linecap="round" stroke-linejoin="round" /><path d="M167.6,74.0 L200.0,75.0" fill="none" stroke="#f070b0" stroke-width="1.7" stroke-linecap="round" stroke-linejoin="round" /><path d="M84.5,42.3 L86.0,48.0 L86.6,54.9" fill="none" stroke="#6a2bbf" stroke-width="1.3" stroke-linecap="round" stroke-linejoin="round" /><path d="M107.8,21.0 L110.0,28.0 L112.0,35.7" fill="none" stroke="#6a2bbf" stroke-width="1.3" stroke-linecap="round" stroke-linejoin="round" /><path d="M124.6,42.0 L126.0,48.0 L126.7,54.6" fill="none" stroke="#6a2bbf" stroke-width="1.3" stroke-linecap="round" stroke-linejoin="round" /><path d="M31.0,28.0 L40.0,40.0 L48.0,52.0 L54.0,63.0 L57.2,70.7" fill="none" stroke="#000" stroke-width="4.8" stroke-linecap="round" stroke-linejoin="round" /><path d="M61.4,37.8 L70.0,46.0 L77.0,53.0 L82.4,59.1" fill="none" stroke="#000" stroke-width="3.8" stroke-linecap="round" stroke-linejoin="round" /><path d="M147.7,23.1 L154.9,30.0 L160.3,33.6 L168.0,39.0 L175.0,43.0 L187.6,48.3" fill="none" stroke="#000" stroke-width="4.0" stroke-linecap="round" stroke-linejoin="round" /><path d="M136.0,34.0 L141.0,40.0 L145.0,46.0" fill="none" stroke="#000" stroke-width="2.0" stroke-linecap="round" stroke-linejoin="round" /><path d="M168.4,64.5 L174.0,67.5 L180.4,70.5" fill="none" stroke="#000" stroke-width="2.5" stroke-linecap="round" stroke-linejoin="round" /><path d="M127.0,16.5 L133.0,22.0 L139.0,27.0" fill="none" stroke="#000" stroke-width="1.5" stroke-linecap="round" stroke-linejoin="round" /><path d="M100.0,12.0 L106.0,15.0 L112.0,19.5" fill="none" stroke="#000" stroke-width="1.5" stroke-linecap="round" stroke-linejoin="round" /><path d="M84.0,62.0 L86.0,72.0 L86.0,80.0 L88.6,86.0" fill="none" stroke="#000" stroke-width="1.5" stroke-linecap="round" stroke-linejoin="round" /><path d="M149.5,72.5 L153.0,80.0 L154.0,88.0 L151.0,95.0" fill="none" stroke="#000" stroke-width="1.5" stroke-linecap="round" stroke-linejoin="round" /><path d="M45.0,18.0 L46.0,22.0 L49.5,25.5" fill="none" stroke="#000" stroke-width="2.0" stroke-linecap="round" stroke-linejoin="round" /><path d="M16.5,21.5 L26.7,18.9 L25.7,21.2 L33.1,21.7 L32.9,23.3 L16.5,21.8Z" fill="#000" /><path d="M84.5,29.0 L91.3,26.4 L90.3,28.7 L95.1,29.2 L94.9,30.8 L84.5,29.3Z" fill="#000" /><path d="M109.0,69.0 L116.1,67.1 L114.9,69.3 L119.7,70.2 L119.3,71.8 L109.0,69.3Z" fill="#000" /><path d="M191.6,79.0 L181.7,82.5 L182.4,80.1 L175.0,80.3 L175.0,78.7 L191.6,78.7Z" fill="#000" /><path d="M184.0,63.5 L193.7,64.3 L192.0,66.1 L197.9,68.7 L197.3,70.3 L183.9,63.7Z" fill="#000" /><path d="M98.0,30.5 L107.6,28.2 L106.6,30.5 L113.1,31.2 L112.9,32.8 L98.0,30.8Z" fill="#000" />
</g>
<rect x="164.1" y="0" width="35.1" height="13.8" fill="#fff" stroke="#000" stroke-width="1.1"/>
<text x="181.05" y="10.6" font-size="10.4" text-anchor="middle" fill="#000" stroke="#000" stroke-width="0.18">16 Myr</text>
<rect x="0" y="0" width="199.2" height="99.4" fill="none" stroke="#000" stroke-width="1.25"/>
<line x1="0.00" y1="99.4" x2="0.00" y2="104.0" stroke="#000" stroke-width="1.1"/>
<line x1="-5" y1="0.00" x2="0" y2="0.00" stroke="#000" stroke-width="1.1"/>
<line x1="66.40" y1="99.4" x2="66.40" y2="104.0" stroke="#000" stroke-width="1.1"/>
<line x1="-5" y1="33.13" x2="0" y2="33.13" stroke="#000" stroke-width="1.1"/>
<line x1="132.80" y1="99.4" x2="132.80" y2="104.0" stroke="#000" stroke-width="1.1"/>
<line x1="-5" y1="66.27" x2="0" y2="66.27" stroke="#000" stroke-width="1.1"/>
<line x1="199.20" y1="99.4" x2="199.20" y2="104.0" stroke="#000" stroke-width="1.1"/>
<line x1="-5" y1="99.40" x2="0" y2="99.40" stroke="#000" stroke-width="1.1"/>
<text x="0.00" y="113.60000000000001" font-size="10.4" text-anchor="middle" fill="#000" stroke="#000" stroke-width="0.18">600</text>
<text x="66.40" y="113.60000000000001" font-size="10.4" text-anchor="middle" fill="#000" stroke="#000" stroke-width="0.18">400</text>
<text x="132.80" y="113.60000000000001" font-size="10.4" text-anchor="middle" fill="#000" stroke="#000" stroke-width="0.18">200</text>
<text x="199.20" y="113.60000000000001" font-size="10.4" text-anchor="middle" fill="#000" stroke="#000" stroke-width="0.18">0</text>
<text x="-6.5" y="3.30" font-size="10.3" text-anchor="end" fill="#000" stroke="#000" stroke-width="0.18">300</text>
<text x="-6.5" y="36.43" font-size="10.3" text-anchor="end" fill="#000" stroke="#000" stroke-width="0.18">200</text>
<text x="-6.5" y="69.57" font-size="10.3" text-anchor="end" fill="#000" stroke="#000" stroke-width="0.18">100</text>
<text x="-6.5" y="102.70" font-size="10.3" text-anchor="end" fill="#000" stroke="#000" stroke-width="0.18">0</text>
</g>
<rect x="242.35" y="275.6" width="13.78" height="10.5" fill="#0000ff"/>
<rect x="255.82" y="275.6" width="13.78" height="10.5" fill="#0033ff"/>
<rect x="269.30" y="275.6" width="13.78" height="10.5" fill="#0066ff"/>
<rect x="282.77" y="275.6" width="13.78" height="10.5" fill="#00a0ff"/>
<rect x="296.25" y="275.6" width="13.78" height="10.5" fill="#00e5ff"/>
<rect x="309.73" y="275.6" width="13.78" height="10.5" fill="#44ffff"/>
<rect x="323.20" y="275.6" width="13.78" height="10.5" fill="#aaffff"/>
<rect x="336.68" y="275.6" width="13.78" height="10.5" fill="#e0ffd8"/>
<rect x="350.15" y="275.6" width="13.78" height="10.5" fill="#aaff88"/>
<rect x="363.62" y="275.6" width="13.78" height="10.5" fill="#00ff00"/>
<rect x="377.10" y="275.6" width="13.78" height="10.5" fill="#00cc00"/>
<rect x="390.57" y="275.6" width="13.78" height="10.5" fill="#55aa00"/>
<rect x="404.05" y="275.6" width="13.78" height="10.5" fill="#ffaa00"/>
<rect x="417.52" y="275.6" width="13.78" height="10.5" fill="#bb7700"/>
<rect x="431.00" y="275.6" width="13.78" height="10.5" fill="#994400"/>
<rect x="444.48" y="275.6" width="13.78" height="10.5" fill="#aa0000"/>
<rect x="242.35" y="275.6" width="215.6" height="10.5" fill="none" stroke="#000" stroke-width="1.1"/>
<line x1="242.35" y1="286.1" x2="242.35" y2="290.5" stroke="#000" stroke-width="1.1"/>
<text x="242.35" y="300.8" font-size="9.7" text-anchor="middle" fill="#000" stroke="#000" stroke-width="0.18">−4</text>
<line x1="296.25" y1="286.1" x2="296.25" y2="290.5" stroke="#000" stroke-width="1.1"/>
<text x="296.25" y="300.8" font-size="9.7" text-anchor="middle" fill="#000" stroke="#000" stroke-width="0.18">−2</text>
<line x1="350.15" y1="286.1" x2="350.15" y2="290.5" stroke="#000" stroke-width="1.1"/>
<text x="350.15" y="300.8" font-size="9.7" text-anchor="middle" fill="#000" stroke="#000" stroke-width="0.18">0</text>
<line x1="404.05" y1="286.1" x2="404.05" y2="290.5" stroke="#000" stroke-width="1.1"/>
<text x="404.05" y="300.8" font-size="9.7" text-anchor="middle" fill="#000" stroke="#000" stroke-width="0.18">2</text>
<line x1="457.95" y1="286.1" x2="457.95" y2="290.5" stroke="#000" stroke-width="1.1"/>
<text x="457.95" y="300.8" font-size="9.7" text-anchor="middle" fill="#000" stroke="#000" stroke-width="0.18">4</text>
<text x="351.9" y="312.7" font-size="10.0" text-anchor="middle" fill="#000" stroke="#000" stroke-width="0.18">Topography (km)</text>
<path d="M182.2,274.4 L196.3,273.5 L194.7,276.6 L205.3,279.2 L204.9,280.8 L182.1,274.6Z" fill="#e00010" /><path d="M196.0,330.5 L181.9,331.4 L183.5,328.3 L173.2,325.8 L173.6,324.2 L196.1,330.3Z" fill="#e00010" /><path d="M172.4,294.3 L203.6,314.8" fill="none" stroke="#e0b860" stroke-width="1.3" stroke-linecap="round" stroke-linejoin="round" /><path d="M174.0,293.2 L180.0,297.1" fill="none" stroke="#e0b860" stroke-width="0.8" stroke-linecap="round" stroke-linejoin="round" /><path d="M196.0,312.3 L202.0,316.2" fill="none" stroke="#e0b860" stroke-width="0.8" stroke-linecap="round" stroke-linejoin="round" /><path d="M165.6,303.1 L212.4,307.0" fill="none" stroke="#ff70c0" stroke-width="1.4" stroke-linecap="round" stroke-linejoin="round" /><path d="M168.0,301.6 L178.0,302.5" fill="none" stroke="#ff70c0" stroke-width="0.8" stroke-linecap="round" stroke-linejoin="round" /><path d="M200.0,308.0 L210.0,308.9" fill="none" stroke="#ff70c0" stroke-width="0.8" stroke-linecap="round" stroke-linejoin="round" /><path d="M164.6,297.2 L211.4,312.8" fill="none" stroke="#d02070" stroke-width="1.4" stroke-linecap="round" stroke-linejoin="round" /><path d="M166.0,299.8 L174.0,302.4" fill="none" stroke="#d02070" stroke-width="0.8" stroke-linecap="round" stroke-linejoin="round" /><path d="M202.0,307.8 L210.0,310.4" fill="none" stroke="#d02070" stroke-width="0.8" stroke-linecap="round" stroke-linejoin="round" /><path d="M178.3,321.6 L198.7,287.1" fill="none" stroke="#f07020" stroke-width="1.3" stroke-linecap="round" stroke-linejoin="round" /><path d="M197.0,292.0 L200.0,286.0" fill="none" stroke="#f07020" stroke-width="0.8" stroke-linecap="round" stroke-linejoin="round" /><path d="M188.4,285.2 L188.4,324.5" fill="none" stroke="#7040c0" stroke-width="1.5" stroke-linecap="round" stroke-linejoin="round" /><path d="M188.4,285.2 L191.0,289.6 L189.0,291.0Z" fill="#7040c0" /><text x="157.6" y="301.2" font-size="9.4" fill="#c83080">Y</text><text x="202.2" y="291.0" font-size="9.4" fill="#f08030">R'</text><text x="210.2" y="305.1" font-size="9.4" fill="#ff80c8">R</text><text x="206.2" y="324.6" font-size="9.4" fill="#e8c070">P</text><text x="190.6" y="327.6" font-size="9.4" fill="#7050d0">X</text>
</svg>
</body></html>
